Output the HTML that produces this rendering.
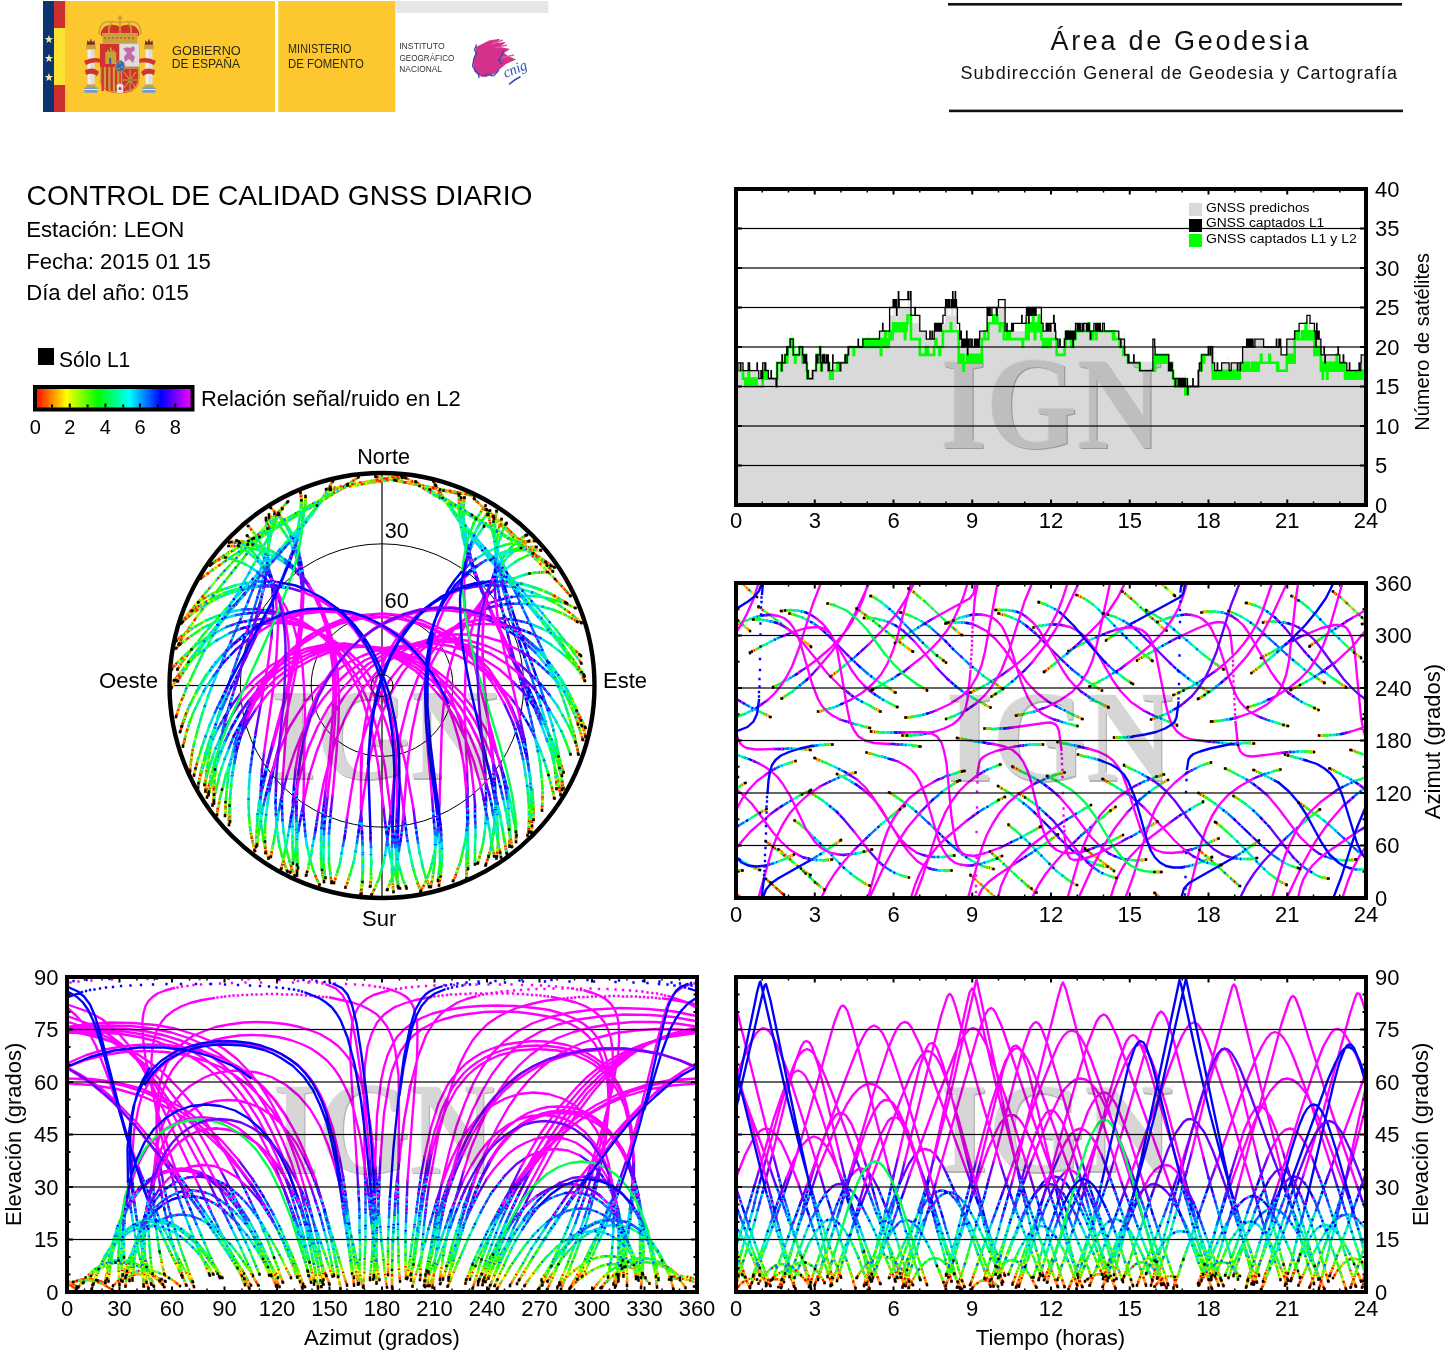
<!DOCTYPE html>
<html lang="es"><head><meta charset="utf-8"><title>Control de calidad GNSS diario - LEON</title>
<style>html,body{margin:0;padding:0;background:#fff;}body{width:1445px;height:1350px;overflow:hidden;}
</style></head>
<body><svg width="1445" height="1350" viewBox="0 0 1445 1350" font-family="&quot;Liberation Sans&quot;, Arial, sans-serif">
<rect width="1445" height="1350" fill="#fff"/>
<g id="logo">
<rect x="43" y="1" width="11" height="111" fill="#0b3470"/>
<rect x="54" y="1" width="11.5" height="111" fill="#cd2f2e"/>
<rect x="54" y="28" width="11.5" height="57" fill="#fbe232"/>
<text x="49.3" y="42.5" font-size="11" fill="#f5e9a0" text-anchor="middle">&#9733;</text>
<text x="49.3" y="61.5" font-size="11" fill="#f5e9a0" text-anchor="middle">&#9733;</text>
<text x="49.3" y="80.5" font-size="11" fill="#f5e9a0" text-anchor="middle">&#9733;</text>
<rect x="65.5" y="1" width="209.5" height="111" fill="#fdc82f"/>
<rect x="278.3" y="1" width="117" height="111" fill="#fdc82f"/>
<rect x="395.3" y="1" width="153" height="12" fill="#e6e6e6"/>
<g>
<rect x="87.3" y="49" width="7.2" height="36" fill="#dedede"/>
<rect x="88.5" y="49" width="1.6" height="36" fill="#f4f4f4"/>
<rect x="86.1" y="44.7" width="9.6" height="4.6" fill="#c9a13b"/>
<rect x="86.5" y="84.5" width="8.8" height="3" fill="#c9a13b"/>
<rect x="84.3" y="87.3" width="13.2" height="5.4" fill="#6d9bd6"/>
<path d="M84.3 89.5h13.2" stroke="#e8eef8" stroke-width="1"/>
<path d="M86.8 44.7 l0.5 -4.5 l2.2 2 l1.4 -3.6 l1.4 3.6 l2.2 -2 l0.5 4.5 z" fill="#7b2f32"/>
<rect x="145.3" y="49" width="7.2" height="36" fill="#dedede"/>
<rect x="146.5" y="49" width="1.6" height="36" fill="#f4f4f4"/>
<rect x="144.10000000000002" y="44.7" width="9.6" height="4.6" fill="#c9a13b"/>
<rect x="144.5" y="84.5" width="8.8" height="3" fill="#c9a13b"/>
<rect x="142.3" y="87.3" width="13.2" height="5.4" fill="#6d9bd6"/>
<path d="M142.3 89.5h13.2" stroke="#e8eef8" stroke-width="1"/>
<path d="M144.8 44.7 l0.5 -4.5 l2.2 2 l1.4 -3.6 l1.4 3.6 l2.2 -2 l0.5 4.5 z" fill="#7b2f32"/>
<path d="M84 61 Q92 56 101 59 L101 63 Q93 61 86 65 Z M85 70 Q94 66 99 72 L97 76 Q92 72 86 75 Z" fill="#d0342c"/>
<path d="M156 61 Q148 56 139 59 L139 63 Q147 61 154 65 Z M155 70 Q146 66 141 72 L143 76 Q148 72 154 75 Z" fill="#d0342c"/>
<path d="M101 36 Q100 26 110 25 Q116 24 120 27 Q124 24 130 25 Q140 26 139 36 Z" fill="#d0342c"/>
<path d="M99.5 35 Q98 22 110 21.5 Q116 21.5 120 23 Q124 21.5 130 21.5 Q142 22 140.5 35 M109 34 Q108 26 112 23 M131 34 Q132 26 128 23 M120 23 V34" fill="none" stroke="#c9a13b" stroke-width="1.6"/>
<rect x="118.8" y="15.3" width="2.4" height="7" fill="#c9a13b"/>
<rect x="117.3" y="17" width="5.4" height="1.8" fill="#c9a13b"/>
<path d="M102 33 H138 L137 43.3 H103 Z" fill="#c9a13b"/>
<path d="M104 38 h32" stroke="#b8322c" stroke-width="1.2" stroke-dasharray="2 2"/>
<path d="M100 43.7 H139.3 V78 Q139.3 93.3 119.6 93.3 Q100 93.3 100 78 Z" fill="#d0342c"/>
<rect x="119.3" y="43.7" width="20" height="23" fill="#dedede"/>
<path d="M100 67 H119.3 V93 Q100.5 92.5 100 78 Z" fill="#c9a13b"/>
<rect x="101.5" y="67" width="2.3" height="24" fill="#d0342c"/>
<rect x="106" y="67" width="2.3" height="24" fill="#d0342c"/>
<rect x="110.5" y="67" width="2.3" height="24" fill="#d0342c"/>
<rect x="115" y="67" width="2.3" height="24" fill="#d0342c"/>
<path d="M121.5 68 H138.5 V78 Q138.5 91.5 121.5 92 Z" fill="none" stroke="#c9a13b" stroke-width="1.3"/>
<path d="M124 72 L136 88 M136 72 L124 88 M130 69.5 V90.5 M122.5 80 H137.5" stroke="#c9a13b" stroke-width="1.1"/>
<circle cx="130" cy="80" r="1.3" fill="#3c9a3c"/>
<path d="M105.3 64 V52 h2 v-2 h1.5 v2 h1.2 v-4.5 h1.6 v4.5 h1.2 v-2 h1.5 v2 h1.9 V64 Z" fill="#c9a13b"/>
<rect x="109.2" y="58" width="2" height="6" fill="#3d5fa8"/>
<path d="M123 49 Q127 46 130 48 L134 46 L135 50 L131 53 L135 57 L133 63 L129 59 L125 62 L124 57 L127 53 Z" fill="#c46aa8"/>
<ellipse cx="120.3" cy="66.3" rx="4.6" ry="5.8" fill="#3a68c0" stroke="#c9a13b" stroke-width="0.9"/>
<path d="M119 63 h2 M121 67 h2 M118 68.5 h2" stroke="#c9a13b" stroke-width="1.2"/>
<path d="M116.5 85 Q120 82 123.5 85 L123 92.5 Q120 93.5 117 92.5 Z" fill="#e6e6e6"/>
<circle cx="120" cy="88.5" r="1.5" fill="#c0392b"/>
</g>
<text x="172.06" y="54.5" font-size="13" textLength="68.74" lengthAdjust="spacingAndGlyphs" fill="#2d2a14">GOBIERNO</text>
<text x="171.72" y="67.8" font-size="13" textLength="68.48" lengthAdjust="spacingAndGlyphs" fill="#2d2a14">DE ESPAÑA</text>
<text x="288.10" y="53" font-size="12" textLength="63.25" lengthAdjust="spacingAndGlyphs" fill="#2d2a14">MINISTERIO</text>
<text x="288.05" y="67.5" font-size="12" textLength="75.70" lengthAdjust="spacingAndGlyphs" fill="#2d2a14">DE FOMENTO</text>
<text x="399.21" y="49.2" font-size="8.8" textLength="45.51" lengthAdjust="spacingAndGlyphs" fill="#333">INSTITUTO</text>
<text x="399.59" y="60.6" font-size="8.8" textLength="54.83" lengthAdjust="spacingAndGlyphs" fill="#333">GEOGRÁFICO</text>
<text x="399.34" y="71.6" font-size="8.8" textLength="42.54" lengthAdjust="spacingAndGlyphs" fill="#333">NACIONAL</text>
<path d="M476 47 L489 40.5 L500 38.8 L497 43 L506 42 L500 47 L510 49 L504 53 L508 56 L516 59.5 L506 64 L500 69 L494 74 L486 77 L479 76 L474 71 L473 62 L475 55 Z" fill="#d4308c"/>
<path d="M492 44 L503 40 M495 48 L507 45 M500 58 L514 55" stroke="#e25aa6" stroke-width="1.4"/>
<path d="M476.5 44.5 L474.5 50 L476.5 53 L474 58 L472.5 66 L476 71 L478.5 74 L479 78 M482 76.5 Q487 73 490 74.5 Q492 76.5 494 75.5 L499 70 M503.5 51 L501 57 L498.5 60 L502 64" fill="none" stroke="#2b4fb0" stroke-width="1.3"/>
<text x="0" y="0" font-size="15" font-style="italic" fill="#2b4fb0" font-family="'Liberation Serif', serif" transform="translate(505.5,78) rotate(-22) scale(0.95,1)">cnig</text>
<path d="M509 84.5 Q514 80 520.5 76.5" fill="none" stroke="#2b4fb0" stroke-width="1.5"/>
</g>
<rect x="948" y="3" width="454" height="2.6" fill="#111"/>
<rect x="949" y="109.6" width="454" height="2.6" fill="#111"/>
<text x="1050.45" y="49.8" font-size="27" textLength="258.08" lengthAdjust="spacing" fill="#111">Área de Geodesia</text>
<text x="960.50" y="78.6" font-size="18" textLength="436.56" lengthAdjust="spacing" fill="#111">Subdirección General de Geodesia y Cartografía</text>
<text x="26.59" y="205" font-size="28" textLength="505.77" lengthAdjust="spacingAndGlyphs">CONTROL DE CALIDAD GNSS DIARIO</text>
<text x="26.18" y="237" font-size="22" textLength="158.10" lengthAdjust="spacingAndGlyphs">Estación: LEON</text>
<text x="26.19" y="268.8" font-size="22" textLength="184.74" lengthAdjust="spacingAndGlyphs">Fecha: 2015 01 15</text>
<text x="26.19" y="300.3" font-size="22" textLength="162.78" lengthAdjust="spacingAndGlyphs">Día del año: 015</text>
<rect x="38" y="348" width="16" height="17" fill="#000"/>
<text x="59.04" y="366.6" font-size="22" textLength="71.27" lengthAdjust="spacingAndGlyphs">Sólo L1</text>
<defs><linearGradient id="cb" x1="0" x2="1" y1="0" y2="0"><stop offset="0" stop-color="#f00"/><stop offset="0.2" stop-color="#ff0"/><stop offset="0.4" stop-color="#0f0"/><stop offset="0.6" stop-color="#0ff"/><stop offset="0.8" stop-color="#00f"/><stop offset="1" stop-color="#f0f"/></linearGradient></defs>
<rect x="35" y="387" width="157.5" height="22.5" fill="url(#cb)" stroke="#000" stroke-width="4"/>
<rect x="51" y="404.5" width="2" height="3" fill="#000"/>
<rect x="68.8" y="403.5" width="2" height="4" fill="#000"/>
<rect x="86.6" y="404.5" width="2" height="3" fill="#000"/>
<rect x="104.4" y="403.5" width="2" height="4" fill="#000"/>
<rect x="122.2" y="404.5" width="2" height="3" fill="#000"/>
<rect x="139" y="403.5" width="2" height="4" fill="#000"/>
<rect x="156.8" y="404.5" width="2" height="3" fill="#000"/>
<rect x="174.3" y="403.5" width="2" height="4" fill="#000"/>
<text x="35.2" y="433.5" font-size="20" text-anchor="middle">0</text>
<text x="69.8" y="433.5" font-size="20" text-anchor="middle">2</text>
<text x="105.4" y="433.5" font-size="20" text-anchor="middle">4</text>
<text x="140" y="433.5" font-size="20" text-anchor="middle">6</text>
<text x="175.3" y="433.5" font-size="20" text-anchor="middle">8</text>
<text x="200.90" y="405.7" font-size="22" textLength="259.90" lengthAdjust="spacingAndGlyphs">Relación señal/ruido en L2</text>
<svg x="736" y="189" width="630" height="316" overflow="hidden"><g transform="translate(-736,-189)">
<path d="M736.0 362.8H736.9V370.7H737.8V362.8H740.4V370.7H740.8V362.8H743.0V370.7H748.2V362.8H749.6V370.7H757.0V362.8H757.4V370.7H758.8V378.6H760.9V370.7H761.4V378.6H762.7V362.8H764.9V370.7H765.3V362.8H765.8V370.7H768.4V378.6H771.0V370.7H771.4V378.6H776.2V386.5H776.7V378.6H777.1V362.8H781.5V370.7H781.9V354.9H782.4V362.8H785.0V354.9H786.8V347.0H787.2V354.9H787.6V347.0H790.2V339.1H791.6V331.2H792.0V339.1H793.3V354.9H794.2V347.0H794.6V354.9H799.4V347.0H802.5V354.9H803.4V362.8H804.7V354.9H805.1V362.8H806.0V354.9H806.4V362.8H806.9V370.7H807.3V378.6H807.8V370.7H808.2V378.6H812.6V370.7H816.1V354.9H820.0V347.0H820.4V362.8H821.3V370.7H821.8V362.8H822.2V354.9H822.6V362.8H823.9V354.9H824.8V362.8H826.6V354.9H827.4V362.8H827.9V354.9H828.3V370.7H828.8V362.8H829.2V370.7H832.7V354.9H833.1V362.8H840.1V370.7H840.6V362.8H844.9V354.9H845.4V362.8H847.1V354.9H848.4V347.0H858.1V339.1H858.5V347.0H862.9V339.1H868.1V331.2H868.6V339.1H879.5V331.2H889.1V323.3H889.6V315.4H893.1V307.5H893.5V315.4H894.4V307.5H895.7V315.4H896.1V307.5H896.6V323.3H897.0V315.4H898.3V299.6H898.8V315.4H899.2V307.5H901.8V299.6H902.2V307.5H907.9V299.6H908.8V307.5H910.6V299.6H911.0V323.3H914.9V315.4H915.4V323.3H917.6V315.4H918.0V323.3H918.4V315.4H918.9V323.3H919.8V331.2H926.3V339.1H929.8V331.2H930.2V339.1H932.0V331.2H932.4V339.1H934.2V331.2H942.9V323.3H945.1V315.4H945.6V307.5H946.0V315.4H946.4V307.5H947.8V315.4H949.1V307.5H949.5V315.4H951.2V307.5H952.6V299.6H953.0V315.4H953.4V307.5H953.9V315.4H955.2V299.6H956.1V307.5H956.5V315.4H957.4V331.2H959.6V339.1H960.4V331.2H961.3V339.1H961.8V347.0H962.2V339.1H962.6V347.0H963.5V339.1H963.9V347.0H964.4V339.1H965.2V347.0H965.7V339.1H966.1V347.0H966.6V331.2H967.0V339.1H967.4V354.9H967.9V339.1H968.8V347.0H969.2V339.1H970.9V347.0H971.4V339.1H972.2V347.0H974.4V339.1H976.2V347.0H976.6V339.1H977.1V347.0H977.9V339.1H978.4V347.0H979.2V339.1H979.7V331.2H987.1V315.4H987.6V323.3H988.0V315.4H988.4V323.3H988.9V315.4H989.3V323.3H989.8V315.4H990.2V323.3H990.6V315.4H991.1V323.3H991.9V315.4H996.3V323.3H997.2V315.4H998.5V307.5H1005.1V331.2H1006.4V323.3H1006.8V331.2H1021.7V323.3H1022.1V331.2H1026.1V323.3H1026.5V315.4H1027.8V323.3H1028.2V315.4H1028.7V331.2H1029.1V315.4H1029.6V323.3H1030.9V315.4H1031.8V323.3H1032.6V315.4H1033.9V323.3H1035.2V315.4H1035.7V323.3H1036.1V315.4H1041.4V331.2H1053.6V323.3H1054.1V331.2H1055.8V339.1H1058.0V347.0H1059.8V339.1H1060.2V347.0H1064.6V339.1H1065.4V331.2H1065.9V339.1H1067.2V331.2H1068.1V339.1H1068.5V331.2H1068.9V339.1H1070.2V323.3H1070.7V339.1H1071.6V331.2H1072.0V339.1H1072.4V331.2H1072.9V347.0H1073.3V331.2H1073.8V339.1H1074.6V331.2H1090.4V339.1H1090.8V331.2H1118.8V339.1H1120.6V347.0H1121.0V339.1H1124.1V331.2H1124.5V354.9H1128.0V362.8H1128.4V354.9H1128.9V362.8H1133.7V354.9H1134.1V362.8H1139.8V370.7H1152.9V339.1H1154.7V347.0H1155.1V354.9H1168.7V370.7H1169.1V362.8H1169.6V370.7H1170.4V362.8H1171.3V370.7H1171.8V362.8H1172.2V370.7H1173.1V378.6H1175.2V386.5H1175.7V378.6H1178.3V386.5H1178.8V378.6H1179.2V370.7H1179.6V378.6H1180.1V386.5H1180.5V378.6H1181.8V386.5H1182.7V378.6H1183.6V386.5H1184.0V378.6H1184.4V386.5H1184.9V370.7H1185.3V386.5H1187.1V378.6H1187.5V394.4H1187.9V386.5H1192.8V378.6H1193.2V386.5H1198.4V370.7H1199.3V362.8H1201.1V370.7H1201.5V354.9H1208.5V347.0H1210.2V354.9H1210.7V347.0H1212.4V362.8H1214.6V370.7H1217.2V362.8H1217.7V370.7H1221.6V362.8H1227.8V354.9H1228.2V362.8H1229.1V370.7H1231.2V362.8H1237.4V370.7H1237.8V362.8H1240.0V370.7H1240.4V362.8H1242.6V347.0H1246.6V339.1H1247.9V347.0H1248.3V339.1H1248.8V347.0H1249.6V339.1H1250.1V347.0H1250.5V339.1H1250.9V347.0H1251.4V339.1H1251.8V347.0H1252.7V339.1H1253.1V347.0H1254.9V339.1H1263.6V347.0H1276.3V339.1H1276.8V347.0H1278.9V339.1H1279.4V347.0H1280.2V339.1H1280.7V347.0H1281.1V354.9H1286.8V339.1H1294.7V331.2H1303.0V323.3H1303.4V331.2H1306.5V323.3H1306.9V315.4H1307.4V323.3H1310.0V331.2H1315.7V347.0H1316.1V339.1H1316.6V331.2H1317.4V339.1H1318.3V331.2H1319.2V339.1H1320.9V354.9H1324.0V347.0H1324.4V354.9H1324.9V362.8H1325.3V354.9H1331.9V347.0H1332.3V354.9H1334.1V347.0H1334.5V354.9H1338.0V347.0H1338.4V354.9H1339.8V362.8H1343.2V354.9H1343.7V362.8H1344.6V354.9H1345.0V362.8H1346.8V370.7H1349.4V362.8H1349.8V370.7H1359.0V362.8H1359.4V370.7H1360.8V362.8H1361.2V354.9H1365.6V362.8H1366.0V505.0H736.0Z" fill="#d9d9d9"/>
<g style="mix-blend-mode:multiply" transform="translate(1051.24,447.83) scale(0.8978,1)" font-family="'Liberation Serif', 'Times New Roman', serif" font-weight="bold" font-size="130.25" text-anchor="middle">
<text x="1.3" y="1.3" fill="#b4b4b4">IGN</text>
<text x="-0.9" y="-0.9" fill="#f4f4f4">IGN</text>
<text x="0" y="0" fill="#e0e0e0">IGN</text>
</g>
<path d="M736.0 370.7H743.0V378.6H745.2V386.5H746.9V378.6H747.8V386.5H748.2V378.6H748.7V370.7H749.1V378.6H750.0V386.5H750.4V378.6H751.8V386.5H753.5V378.6H753.9V386.5H754.4V378.6H755.2V386.5H756.1V378.6H756.6V386.5H762.7V370.7H764.9V378.6H766.2V370.7H766.6V378.6H767.1V370.7H767.5V378.6H776.2V386.5H776.7V378.6H777.1V362.8H781.5V370.7H781.9V362.8H785.0V354.9H786.8V362.8H787.2V354.9H787.6V347.0H790.2V339.1H792.9V347.0H793.3V354.9H795.1V362.8H795.5V354.9H799.4V347.0H802.5V362.8H804.7V354.9H805.1V362.8H806.0V354.9H806.4V362.8H806.9V370.7H807.3V378.6H807.8V370.7H808.2V378.6H812.6V370.7H816.1V362.8H816.5V354.9H817.4V362.8H817.8V354.9H818.2V362.8H818.7V354.9H820.0V347.0H820.4V362.8H821.3V370.7H821.8V362.8H823.9V354.9H824.4V362.8H828.3V370.7H828.8V362.8H829.2V370.7H830.1V378.6H832.7V370.7H837.5V362.8H837.9V370.7H840.6V362.8H847.1V354.9H848.4V347.0H853.7V354.9H854.1V347.0H863.3V339.1H864.2V347.0H864.6V339.1H865.1V347.0H865.9V339.1H866.4V347.0H866.8V339.1H868.6V347.0H869.0V339.1H869.4V347.0H870.3V339.1H871.2V347.0H871.6V339.1H872.1V347.0H872.5V339.1H872.9V347.0H873.4V339.1H873.8V347.0H874.7V339.1H875.6V347.0H878.2V339.1H879.5V347.0H879.9V339.1H880.4V347.0H880.8V354.9H881.2V347.0H881.7V339.1H882.1V347.0H882.6V339.1H883.0V347.0H883.4V339.1H884.8V347.0H885.2V331.2H885.6V339.1H887.4V347.0H887.8V339.1H888.2V347.0H888.7V339.1H889.6V331.2H892.2V339.1H892.6V331.2H893.1V323.3H893.5V331.2H893.9V323.3H894.8V331.2H895.2V323.3H897.4V331.2H899.6V323.3H900.1V331.2H900.5V323.3H901.8V331.2H903.1V323.3H903.6V331.2H904.0V323.3H904.9V339.1H905.3V323.3H905.8V331.2H906.6V323.3H907.5V315.4H911.0V339.1H919.8V354.9H925.9V347.0H926.3V354.9H927.2V347.0H927.6V354.9H934.2V347.0H935.5V339.1H936.4V347.0H939.4V354.9H939.9V347.0H942.9V331.2H950.8V323.3H951.2V331.2H958.7V362.8H960.0V354.9H960.4V362.8H961.8V354.9H963.5V370.7H963.9V362.8H967.0V354.9H967.9V362.8H969.6V354.9H970.1V362.8H970.5V354.9H971.8V362.8H972.2V354.9H972.7V362.8H973.1V354.9H975.8V362.8H976.6V354.9H977.9V362.8H978.8V354.9H979.2V362.8H980.1V354.9H980.6V362.8H981.9V339.1H984.5V331.2H984.9V339.1H988.4V323.3H993.2V315.4H993.7V323.3H996.8V315.4H997.2V323.3H999.8V331.2H1000.2V323.3H1003.8V339.1H1007.2V331.2H1007.7V339.1H1009.4V331.2H1009.9V339.1H1022.6V347.0H1023.0V339.1H1026.1V323.3H1027.4V331.2H1027.8V323.3H1028.2V339.1H1028.7V331.2H1029.1V323.3H1030.0V331.2H1030.4V323.3H1031.3V331.2H1032.2V323.3H1032.6V331.2H1033.1V315.4H1033.5V323.3H1034.8V339.1H1035.2V323.3H1037.4V331.2H1037.9V323.3H1038.8V315.4H1039.2V331.2H1039.6V323.3H1040.1V331.2H1040.5V323.3H1041.4V339.1H1043.1V347.0H1045.8V339.1H1046.6V347.0H1048.4V339.1H1050.1V347.0H1050.6V339.1H1056.7V354.9H1064.6V339.1H1065.0V347.0H1065.4V339.1H1067.2V331.2H1067.6V339.1H1071.1V347.0H1071.6V339.1H1072.9V347.0H1073.3V339.1H1075.5V331.2H1088.6V323.3H1089.1V331.2H1090.4V339.1H1090.8V331.2H1092.6V339.1H1093.0V331.2H1096.1V339.1H1096.5V331.2H1113.1V339.1H1113.6V331.2H1114.0V339.1H1119.7V347.0H1123.2V354.9H1123.6V347.0H1124.5V354.9H1128.0V362.8H1139.8V370.7H1155.1V354.9H1156.4V362.8H1157.3V354.9H1157.8V362.8H1158.6V354.9H1159.1V362.8H1159.5V354.9H1160.4V362.8H1160.8V354.9H1161.2V362.8H1161.7V354.9H1163.4V362.8H1163.9V354.9H1164.8V362.8H1166.1V354.9H1166.9V362.8H1167.4V354.9H1168.2V362.8H1168.7V370.7H1169.1V362.8H1169.6V370.7H1170.4V362.8H1170.9V370.7H1171.8V362.8H1172.2V370.7H1173.1V378.6H1174.8V386.5H1175.7V378.6H1178.3V386.5H1178.8V378.6H1179.6V386.5H1180.5V378.6H1181.8V386.5H1182.7V378.6H1183.6V386.5H1184.9V378.6H1185.3V394.4H1185.8V386.5H1187.5V394.4H1187.9V386.5H1198.4V370.7H1201.5V362.8H1201.9V354.9H1203.7V362.8H1204.1V354.9H1208.5V347.0H1210.2V354.9H1210.7V347.0H1212.4V370.7H1212.9V378.6H1214.6V370.7H1215.5V378.6H1215.9V370.7H1216.8V378.6H1219.0V370.7H1219.9V378.6H1220.3V370.7H1221.6V378.6H1222.1V370.7H1222.5V378.6H1223.8V370.7H1224.2V378.6H1224.7V370.7H1226.0V378.6H1228.2V370.7H1228.6V378.6H1229.1V370.7H1229.5V378.6H1231.2V370.7H1231.7V378.6H1233.0V370.7H1234.8V378.6H1236.1V370.7H1236.5V378.6H1237.4V370.7H1237.8V378.6H1238.2V370.7H1238.7V378.6H1239.6V370.7H1241.3V362.8H1242.6V370.7H1243.1V362.8H1243.5V370.7H1244.8V362.8H1245.7V370.7H1247.9V362.8H1248.3V370.7H1248.8V362.8H1249.2V370.7H1252.2V362.8H1252.7V370.7H1253.6V362.8H1254.0V370.7H1254.4V362.8H1254.9V370.7H1255.3V362.8H1256.2V370.7H1257.1V362.8H1257.5V370.7H1257.9V362.8H1258.4V370.7H1258.8V362.8H1261.0V354.9H1261.4V362.8H1269.3V354.9H1269.8V362.8H1277.2V370.7H1277.6V362.8H1278.1V370.7H1286.8V354.9H1288.1V362.8H1288.6V354.9H1289.4V362.8H1290.3V354.9H1290.8V362.8H1292.1V354.9H1294.2V362.8H1294.7V339.1H1295.1V331.2H1295.6V339.1H1296.4V331.2H1296.9V339.1H1297.8V331.2H1298.6V339.1H1302.1V331.2H1303.4V339.1H1303.9V331.2H1304.3V339.1H1305.2V331.2H1305.6V323.3H1306.1V331.2H1306.5V339.1H1306.9V331.2H1307.8V339.1H1308.2V331.2H1308.7V339.1H1309.1V331.2H1310.0V339.1H1310.9V331.2H1311.3V339.1H1311.8V331.2H1312.6V339.1H1313.9V331.2H1314.4V354.9H1315.2V347.0H1315.7V354.9H1317.4V347.0H1317.9V354.9H1319.6V347.0H1320.1V354.9H1320.5V347.0H1320.9V370.7H1321.4V362.8H1322.2V370.7H1322.7V378.6H1323.1V362.8H1323.6V370.7H1324.4V362.8H1325.3V370.7H1326.2V362.8H1326.6V370.7H1327.1V378.6H1327.5V370.7H1329.2V362.8H1330.1V370.7H1331.0V362.8H1332.8V370.7H1333.6V362.8H1334.1V370.7H1334.9V362.8H1335.4V370.7H1335.8V362.8H1336.7V354.9H1337.1V370.7H1337.6V362.8H1338.0V370.7H1339.8V362.8H1340.2V370.7H1341.5V362.8H1341.9V370.7H1342.8V362.8H1343.2V370.7H1343.7V362.8H1344.6V370.7H1345.0V378.6H1346.3V370.7H1346.8V378.6H1347.2V370.7H1347.6V378.6H1348.9V370.7H1349.4V378.6H1351.1V370.7H1352.9V378.6H1353.3V370.7H1355.1V378.6H1355.5V370.7H1356.4V378.6H1356.8V370.7H1357.2V378.6H1359.9V370.7H1360.8V378.6H1362.5V370.7H1362.9V378.6H1364.2V370.7H1365.6V378.6H1366.0V370.7H1366.0" fill="none" stroke="#00ff00" stroke-width="2.6"/><path d="M736.0 362.8H736.9V370.7H737.8V362.8H740.4V370.7H740.8V362.8H743.0V370.7H748.2V362.8H749.6V370.7H757.0V362.8H757.4V370.7H758.8V378.6H760.9V370.7H761.4V378.6H762.7V362.8H764.9V370.7H765.3V362.8H765.8V370.7H768.4V378.6H771.0V370.7H771.4V378.6H776.2V386.5H776.7V378.6H777.1V362.8H781.5V370.7H781.9V354.9H782.4V362.8H785.0V354.9H786.8V347.0H787.2V354.9H787.6V347.0H790.2V339.1H793.3V354.9H799.4V347.0H802.5V354.9H803.4V362.8H804.7V354.9H805.1V362.8H806.0V354.9H806.4V362.8H806.9V370.7H807.3V378.6H807.8V370.7H808.2V378.6H812.6V370.7H816.1V354.9H817.4V362.8H817.8V354.9H820.0V347.0H820.4V362.8H821.3V370.7H821.8V362.8H822.2V354.9H822.6V362.8H823.9V354.9H824.8V362.8H826.6V354.9H827.4V362.8H827.9V354.9H828.3V370.7H828.8V362.8H829.2V370.7H832.7V354.9H833.1V362.8H840.1V370.7H840.6V362.8H844.9V354.9H845.4V362.8H847.1V354.9H848.4V347.0H858.1V339.1H858.5V347.0H862.9V339.1H879.5V331.2H882.6V323.3H883.0V331.2H889.6V307.5H893.1V299.6H893.5V307.5H894.4V299.6H895.7V307.5H896.1V299.6H896.6V315.4H897.0V307.5H898.3V291.7H898.8V307.5H899.2V299.6H907.9V291.7H908.8V299.6H910.6V291.7H911.0V315.4H914.9V307.5H915.4V315.4H919.8V331.2H926.3V339.1H929.8V331.2H930.2V339.1H932.0V331.2H932.4V339.1H934.2V331.2H934.6V323.3H935.1V331.2H935.9V323.3H936.4V331.2H936.8V323.3H937.7V331.2H938.1V323.3H939.0V331.2H940.3V323.3H941.2V331.2H941.6V323.3H942.9V315.4H945.1V307.5H945.6V299.6H946.0V307.5H946.4V299.6H947.8V307.5H949.1V299.6H949.5V307.5H951.2V299.6H952.1V307.5H952.6V291.7H953.0V307.5H953.4V299.6H953.9V307.5H955.2V291.7H955.6V299.6H956.5V307.5H957.4V323.3H959.6V339.1H960.4V331.2H961.3V339.1H961.8V347.0H962.2V339.1H962.6V347.0H963.5V339.1H963.9V347.0H964.4V339.1H965.2V347.0H965.7V339.1H966.1V347.0H966.6V331.2H967.0V339.1H967.4V354.9H967.9V339.1H968.8V347.0H969.2V339.1H970.9V347.0H971.4V339.1H972.2V347.0H974.4V339.1H974.9V347.0H975.3V339.1H976.2V347.0H976.6V339.1H977.1V347.0H977.9V339.1H978.4V347.0H979.2V339.1H979.7V331.2H987.1V307.5H987.6V315.4H988.0V307.5H988.4V315.4H988.9V307.5H989.3V315.4H989.8V307.5H990.2V315.4H991.9V307.5H996.3V315.4H997.2V307.5H998.5V299.6H1005.1V331.2H1006.8V323.3H1007.2V331.2H1011.6V323.3H1012.9V331.2H1013.4V323.3H1021.7V315.4H1022.1V323.3H1026.1V315.4H1026.5V307.5H1027.8V315.4H1028.2V307.5H1028.7V323.3H1029.1V307.5H1029.6V315.4H1030.9V307.5H1031.8V315.4H1032.6V307.5H1033.9V315.4H1035.2V307.5H1035.7V315.4H1036.1V307.5H1041.4V323.3H1043.1V331.2H1046.2V323.3H1047.1V331.2H1047.5V323.3H1048.4V331.2H1049.2V323.3H1050.6V331.2H1051.0V323.3H1053.6V315.4H1054.1V323.3H1054.5V331.2H1054.9V323.3H1055.4V331.2H1055.8V339.1H1058.0V347.0H1059.8V339.1H1060.2V347.0H1064.6V339.1H1065.4V331.2H1065.9V339.1H1067.2V331.2H1068.1V339.1H1068.5V331.2H1068.9V339.1H1070.2V331.2H1070.7V339.1H1071.6V331.2H1072.0V339.1H1072.4V331.2H1072.9V347.0H1073.3V331.2H1073.8V339.1H1074.6V331.2H1075.1V339.1H1075.5V323.3H1077.2V331.2H1077.7V323.3H1078.1V331.2H1079.4V323.3H1080.3V331.2H1082.1V323.3H1082.9V331.2H1083.8V323.3H1086.4V331.2H1087.3V323.3H1087.8V331.2H1088.2V323.3H1089.5V331.2H1090.4V339.1H1090.8V331.2H1093.9V323.3H1095.6V331.2H1096.1V323.3H1097.4V331.2H1098.7V323.3H1099.6V331.2H1100.0V323.3H1100.4V331.2H1102.6V323.3H1104.4V331.2H1118.8V339.1H1120.6V347.0H1121.0V339.1H1124.5V354.9H1128.0V362.8H1128.4V354.9H1128.9V362.8H1133.7V354.9H1134.1V362.8H1139.8V370.7H1152.9V339.1H1154.7V347.0H1155.1V354.9H1168.7V370.7H1169.1V362.8H1169.6V370.7H1170.4V362.8H1171.3V370.7H1171.8V362.8H1172.2V370.7H1173.1V378.6H1175.2V386.5H1175.7V378.6H1178.3V386.5H1178.8V378.6H1180.1V386.5H1180.5V378.6H1181.8V386.5H1182.7V378.6H1183.6V386.5H1184.0V378.6H1184.4V386.5H1184.9V378.6H1185.3V386.5H1187.1V378.6H1187.5V394.4H1187.9V386.5H1192.8V378.6H1193.2V386.5H1198.4V370.7H1199.3V362.8H1201.1V370.7H1201.5V354.9H1208.5V347.0H1210.2V354.9H1210.7V347.0H1212.4V362.8H1214.6V370.7H1217.2V362.8H1217.7V370.7H1221.6V362.8H1229.1V370.7H1231.2V362.8H1237.4V370.7H1237.8V362.8H1240.0V370.7H1240.4V362.8H1242.6V347.0H1246.6V339.1H1247.9V347.0H1248.3V339.1H1248.8V347.0H1249.6V339.1H1250.1V347.0H1250.5V339.1H1250.9V347.0H1251.4V339.1H1251.8V347.0H1252.7V339.1H1253.1V347.0H1254.9V339.1H1263.6V347.0H1276.3V339.1H1276.8V347.0H1278.9V339.1H1279.4V347.0H1280.2V339.1H1280.7V347.0H1281.1V354.9H1286.8V339.1H1294.7V331.2H1299.1V323.3H1306.9V315.4H1310.0V323.3H1314.4V331.2H1315.2V339.1H1315.7V347.0H1316.1V339.1H1316.6V323.3H1317.0V331.2H1317.4V339.1H1318.3V331.2H1319.2V339.1H1320.9V354.9H1324.0V347.0H1324.4V354.9H1324.9V362.8H1325.3V354.9H1338.0V347.0H1338.4V354.9H1339.8V362.8H1343.2V354.9H1343.7V362.8H1346.8V370.7H1349.4V362.8H1349.8V370.7H1359.0V362.8H1359.4V370.7H1360.8V362.8H1361.2V354.9H1365.6V362.8H1366.0" fill="none" stroke="#000" stroke-width="1.3"/>
</g></svg>
<rect x="736" y="464.90" width="630" height="1.2" fill="#000"/><rect x="736" y="425.40" width="630" height="1.2" fill="#000"/><rect x="736" y="385.90" width="630" height="1.2" fill="#000"/><rect x="736" y="346.40" width="630" height="1.2" fill="#000"/><rect x="736" y="306.90" width="630" height="1.2" fill="#000"/><rect x="736" y="267.40" width="630" height="1.2" fill="#000"/><rect x="736" y="227.90" width="630" height="1.2" fill="#000"/>
<rect x="761.50" y="501.50" width="1.5" height="1.5" fill="#000"/><rect x="761.50" y="191.00" width="1.5" height="1.5" fill="#000"/><rect x="787.75" y="501.50" width="1.5" height="1.5" fill="#000"/><rect x="787.75" y="191.00" width="1.5" height="1.5" fill="#000"/><rect x="813.75" y="499.50" width="2" height="3.5" fill="#000"/><rect x="813.75" y="191.00" width="2" height="3.5" fill="#000"/><rect x="840.25" y="501.50" width="1.5" height="1.5" fill="#000"/><rect x="840.25" y="191.00" width="1.5" height="1.5" fill="#000"/><rect x="866.50" y="501.50" width="1.5" height="1.5" fill="#000"/><rect x="866.50" y="191.00" width="1.5" height="1.5" fill="#000"/><rect x="892.50" y="499.50" width="2" height="3.5" fill="#000"/><rect x="892.50" y="191.00" width="2" height="3.5" fill="#000"/><rect x="919.00" y="501.50" width="1.5" height="1.5" fill="#000"/><rect x="919.00" y="191.00" width="1.5" height="1.5" fill="#000"/><rect x="945.25" y="501.50" width="1.5" height="1.5" fill="#000"/><rect x="945.25" y="191.00" width="1.5" height="1.5" fill="#000"/><rect x="971.25" y="499.50" width="2" height="3.5" fill="#000"/><rect x="971.25" y="191.00" width="2" height="3.5" fill="#000"/><rect x="997.75" y="501.50" width="1.5" height="1.5" fill="#000"/><rect x="997.75" y="191.00" width="1.5" height="1.5" fill="#000"/><rect x="1024.00" y="501.50" width="1.5" height="1.5" fill="#000"/><rect x="1024.00" y="191.00" width="1.5" height="1.5" fill="#000"/><rect x="1050.00" y="499.50" width="2" height="3.5" fill="#000"/><rect x="1050.00" y="191.00" width="2" height="3.5" fill="#000"/><rect x="1076.50" y="501.50" width="1.5" height="1.5" fill="#000"/><rect x="1076.50" y="191.00" width="1.5" height="1.5" fill="#000"/><rect x="1102.75" y="501.50" width="1.5" height="1.5" fill="#000"/><rect x="1102.75" y="191.00" width="1.5" height="1.5" fill="#000"/><rect x="1128.75" y="499.50" width="2" height="3.5" fill="#000"/><rect x="1128.75" y="191.00" width="2" height="3.5" fill="#000"/><rect x="1155.25" y="501.50" width="1.5" height="1.5" fill="#000"/><rect x="1155.25" y="191.00" width="1.5" height="1.5" fill="#000"/><rect x="1181.50" y="501.50" width="1.5" height="1.5" fill="#000"/><rect x="1181.50" y="191.00" width="1.5" height="1.5" fill="#000"/><rect x="1207.50" y="499.50" width="2" height="3.5" fill="#000"/><rect x="1207.50" y="191.00" width="2" height="3.5" fill="#000"/><rect x="1234.00" y="501.50" width="1.5" height="1.5" fill="#000"/><rect x="1234.00" y="191.00" width="1.5" height="1.5" fill="#000"/><rect x="1260.25" y="501.50" width="1.5" height="1.5" fill="#000"/><rect x="1260.25" y="191.00" width="1.5" height="1.5" fill="#000"/><rect x="1286.25" y="499.50" width="2" height="3.5" fill="#000"/><rect x="1286.25" y="191.00" width="2" height="3.5" fill="#000"/><rect x="1312.75" y="501.50" width="1.5" height="1.5" fill="#000"/><rect x="1312.75" y="191.00" width="1.5" height="1.5" fill="#000"/><rect x="1339.00" y="501.50" width="1.5" height="1.5" fill="#000"/><rect x="1339.00" y="191.00" width="1.5" height="1.5" fill="#000"/><rect x="738.00" y="464.50" width="4" height="2" fill="#000"/><rect x="1360.00" y="464.50" width="4" height="2" fill="#000"/><rect x="738.00" y="425.00" width="4" height="2" fill="#000"/><rect x="1360.00" y="425.00" width="4" height="2" fill="#000"/><rect x="738.00" y="385.50" width="4" height="2" fill="#000"/><rect x="1360.00" y="385.50" width="4" height="2" fill="#000"/><rect x="738.00" y="346.00" width="4" height="2" fill="#000"/><rect x="1360.00" y="346.00" width="4" height="2" fill="#000"/><rect x="738.00" y="306.50" width="4" height="2" fill="#000"/><rect x="1360.00" y="306.50" width="4" height="2" fill="#000"/><rect x="738.00" y="267.00" width="4" height="2" fill="#000"/><rect x="1360.00" y="267.00" width="4" height="2" fill="#000"/><rect x="738.00" y="227.50" width="4" height="2" fill="#000"/><rect x="1360.00" y="227.50" width="4" height="2" fill="#000"/>
<rect x="736" y="189" width="630" height="316" fill="none" stroke="#000" stroke-width="4"/>
<text x="736.0" y="528" font-size="22" text-anchor="middle">0</text><text x="814.8" y="528" font-size="22" text-anchor="middle">3</text><text x="893.5" y="528" font-size="22" text-anchor="middle">6</text><text x="972.2" y="528" font-size="22" text-anchor="middle">9</text><text x="1051.0" y="528" font-size="22" text-anchor="middle">12</text><text x="1129.8" y="528" font-size="22" text-anchor="middle">15</text><text x="1208.5" y="528" font-size="22" text-anchor="middle">18</text><text x="1287.2" y="528" font-size="22" text-anchor="middle">21</text><text x="1366.0" y="528" font-size="22" text-anchor="middle">24</text>
<text x="1375" y="512.6" font-size="22">0</text><text x="1375" y="473.1" font-size="22">5</text><text x="1375" y="433.6" font-size="22">10</text><text x="1375" y="394.1" font-size="22">15</text><text x="1375" y="354.6" font-size="22">20</text><text x="1375" y="315.1" font-size="22">25</text><text x="1375" y="275.6" font-size="22">30</text><text x="1375" y="236.1" font-size="22">35</text><text x="1375" y="196.6" font-size="22">40</text>
<text x="0" y="0" font-size="20" text-anchor="middle" transform="translate(1429,341.8) rotate(-90)">Número de satélites</text>
<rect x="1189" y="203" width="13" height="13" fill="#d9d9d9"/><rect x="1189" y="219" width="13" height="13" fill="#000"/><rect x="1189" y="234" width="13" height="13" fill="#00ff00"/>
<text x="1205.98" y="211.6" font-size="12.5" textLength="103.62" lengthAdjust="spacingAndGlyphs">GNSS predichos</text>
<text x="1205.98" y="226.8" font-size="12.5" textLength="118.29" lengthAdjust="spacingAndGlyphs">GNSS captados L1</text>
<text x="1205.97" y="242.7" font-size="12.5" textLength="150.97" lengthAdjust="spacingAndGlyphs">GNSS captados L1 y L2</text>
<svg x="736" y="583" width="630" height="315" overflow="hidden"><g transform="translate(-736,-583)">
<g transform="scale(0.5)" fill="none" stroke-width="4.7" stroke-linejoin="round" stroke-linecap="square"><g stroke="#ff3600"><path id="p1_0" d="M1517 1739l3 1M2351 1449l3 2M2597 1605l5 3M2126 1546l3-1M1636 1423l3 0M1741 1700l3-1M2443 1336l4 3M2701 1500l4 1M1532 1683l7 5M1614 1746l7 4M2137 1302l4-2M1940 1385l4-1M2325 1550l3-1M1811 1435l3 0M1742 1463l3 0M1629 1516l4 2M2644 1363l5 3M2032 1431l4-1M1969 1457l3 0M2312 1645l3-2M1517 1213l0 1M1616 1288l6 6M1914 1476l4 1M1537 1432l4 2M1984 1737l3 1M2526 1245l3-1M2274 1321l4-3M2626 1504l2 0M2179 1373l4-2M1618 1499l3 1M2522 1316l5-3M1472 1555l4-1M2347 1390l3-1M1819 1299l7 4M2434 1678l3-1M1500 1306l4-3M2170 1697l13 11M2218 1734l10 8M1708 1546l3-1M2581 1380l4-2M1618 1582l4-2M2495 1415l3-1M1530 1620l3-2M2422 1443l3 0M1801 1225l1 0M2001 1375l5 3M2511 1717l3-1M2161 1436l4 2M2397 1586l4 3M1926 1542l3 0M1579 1227h0M1787 1383l4 2M2025 1533l3 2M2289 1720l3-1M1757 1421l4 2M1996 1572l2 1M2212 1733l3 0M1997 1227l4 1M2203 1381l1 0M2708 1720l4-1M1661 1720l3-1M2206 1227l3 0M2414 1382l3 2M2659 1537l4 2M1728 1236l3 0M1977 1413l4 2M2205 1558l4 2M1585 1711l3-2M2263 1366l3 2M2507 1540l3 1M1678 1683l4-3M2153 1190l3 1M2570 1509l2 1M1805 1615l4-3M2327 1257l6 4M2638 1471l3 0M1916 1562l4-1M2309 1786l8 7M2726 1438l3-1M1661 1353l3-2M1790 1286l4-3M2086 1489h0M2399 1700l5 5M1891 1247l4-1M2570 1768l3 2M1482 1741l3 0M1991 1220l1 0M2214 1413l3 2M2654 1757l3 0M1472 1787l9 7M2227 1617l4-3M2666 1183l6 5M1532 1758l36 32M2333 1561l3-1M1557 1699l6 4M1649 1779l0 1M2088 1344l4-3M2421 1525l1 0M1736 1770l3 1M2505 1487l3 0M1618 1583l4 2M2314 1244l2 0M2573 1451l3 1M1674 1548l2 1M1901 1741l2 0M2403 1225l3-1M2635 1419l2 1M1733 1505l3 1M2001 1713l3-1M2492 1206l2 0M2689 1372l3 3M1496 1258l4 4M1805 1471l3 0M2112 1671l4-2M2583 1192l2 1M2719 1313l3 3M1663 1489l2 0M2068 1782l5 3M2503 1346l4-3M1472 1250l4-2M2151 1769l3 1M2619 1293l5-4M1562 1222l3 0M2038 1587l3 2M2724 1248l4-1M1851 1379l3 2M2094 1552l2 1M2320 1744l3 0M1889 1323l3 2M2420 1716l4-2M1817 1177l3 2M1919 1267l5 3M2228 1475l2 0M2515 1683l3-2M1488 1567l3-1M2302 1439l3-1M1588 1523l3-1M1941 1750l9 8M1993 1166l3 3M2396 1398l4-2M2010 1594h0"/></g><use href="#p1_0" stroke="#f1ff00" stroke-dasharray="3.2 17.8 2.8 16.4 3.0 12.8 4.6 13.2 3.8 31.4 5.0 24.8 4.0 13.2" stroke-dashoffset="0" stroke-linecap="butt"/><use href="#p1_0" stroke="#f00" stroke-dasharray="2.8 31.2 3.8 9.0 4.2 26.2 4.2 29.8 2.6 19.8 3.6 7.6 4.2 28.2" stroke-dashoffset="6" stroke-linecap="butt"/><use href="#p1_0" stroke="#1bff00" stroke-dasharray="4.0 12.8 4.8 19.2 3.8 25.6 2.8 27.4 4.4 26.4 3.0 26.8 3.0 8.2" stroke-dashoffset="10" stroke-linecap="butt"/><g stroke="#ffa100"><path id="p1_1" d="M1513 1737l4 2M2067 1255h0M2347 1448l4 1M2602 1608l4 3M1743 1380l4-2M2123 1547l3-1M1639 1423l3-1M2006 1596l4-2M1737 1701l4-1M2438 1332l5 4M2705 1501l4 1M1539 1688l10 8M1605 1739l9 7M2141 1300l5-3M2476 1490h0M1944 1384l3-2M2322 1551l3-1M1814 1435l3 0M1745 1463l3 1M2078 1655l3-2M1633 1518l4 2M2640 1360l4 3M2036 1430l3 0M1972 1457l3 0M2308 1647l4-2M1517 1214l7 5M1607 1282l9 6M1918 1477l4 1M2242 1672l4-2M1534 1430l3 2M1778 1585l2 1M1980 1736l4 1M2529 1244l4 0M2278 1318l4-2M2623 1504l3 0M2183 1371l3-2M2559 1540l2-1M1614 1499l4 0M2527 1313l4-2M1472 1555h0M2350 1389l4-2M1713 1217l5 3M1812 1293l7 6M2115 1484l3 0M2430 1680l4-2M1504 1303l4-2M1839 1493l2 0M2183 1708l35 26M1705 1546l3 0M2585 1378l4-2M1615 1584l3-2M2498 1414l3-1M1526 1622l4-2M2425 1443l3 0M1802 1225l4 2M1997 1372l4 3M2248 1530l3 2M2508 1717l3 0M2158 1435l3 1M2401 1589l5 2M2599 1737l1 1M1546 1375l1-1M1923 1543l3-1M1579 1227l4 1M1783 1380l4 3M2028 1535l4 2M2285 1720l4 0M1506 1239l1 0M1753 1419l4 2M1998 1573l4 3M2208 1732l4 1M2001 1228l3 1M2199 1378l4 3M2705 1720l3 0M1658 1720l3 0M2209 1227l3 1M2410 1379l4 3M2663 1539l4 1M1731 1236l3 0M1972 1411l5 2M2209 1560l4 3M2441 1730l2 0M1581 1712l4-1M2077 1204l3 1M2260 1364l3 2M2510 1541l3 2M1674 1686l4-3M2156 1191l4 2M2303 1321l2 1M2572 1510l3 1M1801 1618l4-3M2244 1183l5 3M2320 1251l7 6M2641 1471l3 0M1563 1397l2-1M1913 1564l3-2M2317 1793l4 3M2321 1166l9 8M2729 1437l3-1M1664 1351l4-3M1794 1283l4-3M2083 1489l3 0M2404 1705l6 5M2478 1771l2 1M1895 1246l3-2M2430 1644l3 2M2566 1766l4 2M1479 1741l3 0M1992 1220l3 0M2211 1412l3 1M2467 1592l3 2M2651 1756l3 1M1481 1794l2 2M1483 1166l14 13M1510 1190l4 4M2223 1620l4-3M2672 1188l7 5M1983 1393l3-2M2330 1563l3-2M1563 1703l6 6M1643 1775l6 4M2092 1341l4-3M2419 1526l2-1M1732 1768l4 2M2212 1281l2-2M2502 1486l3 1M1622 1585l3 3M1815 1754l3 1M2316 1244l4-2M2570 1450l3 1M1676 1549l3 2M1899 1741l2 0M2406 1224l4 0M2632 1418l3 1M1736 1506l3 1M1998 1715l3-2M2494 1206l4 1M2685 1370l4 2M1490 1254l6 4M1808 1471l3 0M2108 1675l4-4M2585 1193l4 2M2714 1310l5 3M1660 1489l3 0M1980 1703l3 3M2063 1778l5 4M2507 1343l4-3M1476 1248l3-2M1738 1455l2 1M2148 1767l3 2M2624 1289l4-3M1565 1222l4-1M1794 1414l1 0M2041 1589l4 2M2232 1756l1 0M2728 1247l3-2M1655 1207l2 0M1847 1377l4 2M2096 1553l3 2M2317 1744l3 0M1741 1192l1 0M1885 1320l4 3M2156 1509h0M2417 1718l3-2M1820 1179l6 4M1914 1262l5 5M2230 1475l2 0M2512 1686l3-3M1485 1569l3-2M2305 1438l3-1M2637 1621l3-2M1586 1524l2-1M1950 1758l42 38M2400 1396l3-2"/></g><use href="#p1_1" stroke="#ff3600" stroke-dasharray="3.2 17.8 2.8 16.4 3.0 12.8 4.6 13.2 3.8 31.4 5.0 24.8 4.0 13.2" stroke-dashoffset="6" stroke-linecap="butt"/><use href="#p1_1" stroke="#86ff00" stroke-dasharray="2.8 31.2 3.8 9.0 4.2 26.2 4.2 29.8 2.6 19.8 3.6 7.6 4.2 28.2" stroke-dashoffset="10" stroke-linecap="butt"/><use href="#p1_1" stroke="#f00" stroke-dasharray="4.0 12.8 4.8 19.2 3.8 25.6 2.8 27.4 4.4 26.4 3.0 26.8 3.0 8.2" stroke-dashoffset="20" stroke-linecap="butt"/><use href="#p1_1" stroke="#00ff51" stroke-dasharray="4.8 28.4 4.8 18.2 3.2 6.2 4.2 24.8 4.8 13.4 3.0 22.6 4.6 31.0" stroke-dashoffset="14" stroke-linecap="butt"/><g stroke="#f1ff00"><path id="p1_2" d="M1509 1736l4 1M2067 1255l3-1M2344 1446l3 2M2606 1611l5 3M1747 1378l3-1M2120 1547l3 0M1642 1422l3-1M2002 1598l4-2M1734 1702l3-1M2292 1220l2 1M2433 1329l5 3M2709 1502l3 2M1549 1696l13 10M1593 1730l12 9M2146 1297l4-2M2473 1489l3 1M1947 1382l4-2M2319 1552l3-1M1817 1435l3-1M2179 1612l3-2M1748 1464l4 0M2074 1657l4-2M1637 1520l4 1M1906 1711l3 0M2457 1222l3 1M2635 1357l5 3M2039 1430l3-1M2406 1604l0-1M1975 1457l2 0M2305 1649l3-2M1524 1219l9 6M1598 1275l9 7M1922 1478l3 0M2239 1674l3-2M1530 1429l4 1M1780 1586l5 3M1976 1735l4 1M2533 1244l3 0M2282 1316l4-2M2620 1504l3 0M2186 1369l4-2M2556 1540l3 0M1611 1499l3 0M2531 1311l4-2M2354 1387l4-1M2730 1555l2-1M1718 1220l6 5M1804 1288l8 5M2118 1484l3 1M2426 1682l4-2M1508 1301l4-2M1836 1492l3 1M1702 1547l3-1M2589 1376l3-2M1611 1585l4-1M2501 1413l3-1M1522 1624l4-2M2428 1443l3-1M1806 1227l4 1M1993 1369l4 3M2251 1532l3 2M2504 1718l4-1M1893 1246l1 0M2154 1433l4 2M2406 1591l4 3M2596 1736l3 1M1547 1374l3-2M1920 1544l3-1M1583 1228l3 1M1779 1377l4 3M2032 1537l4 2M2282 1720l3 0M1507 1239l3 0M1750 1417l3 2M2002 1576l5 3M2205 1732l3 0M2004 1229l4 1M2195 1376l4 2M2450 1537l4 2M2701 1720l4 0M1654 1720l4 0M2212 1228l3 1M2406 1377l4 2M2667 1540l3 2M1734 1236l4 0M1969 1408l3 3M2213 1563l4 2M2438 1730l3 0M1578 1714l3-2M2080 1205l2 1M2257 1362l3 2M2513 1543l3 1M1670 1688l4-2M2160 1193l4 2M2300 1318l3 3M2575 1511l3 0M1472 1435l2-1M1797 1621l4-3M2249 1186l7 6M2313 1244l7 7M2644 1471l2 0M1565 1396l3-2M1910 1566l3-2M2330 1174l20 18M1668 1348l4-3M1999 1530l2-1M1798 1280l3-2M2080 1489l3 0M2410 1710l7 6M2471 1765l7 6M1898 1244l3-1M2153 1452l2 0M2433 1646l4 3M2562 1764l4 2M1476 1741l3 0M1995 1220l3 0M2208 1410l3 2M2470 1594l3 2M2648 1755l3 1M1497 1179l13 11M1892 1438l2-1M2219 1623l4-3M2679 1193l9 8M2727 1238l5 4M1986 1391l4-2M2326 1565l4-2M1569 1709l6 5M1636 1769l7 6M2096 1338l4-3M2416 1527l3-1M1589 1641l4 3M1728 1766l4 2M2214 1279l4-2M2500 1486l2 0M1625 1588l3 2M1813 1754l2 0M2320 1242l3-1M2568 1450l2 0M1679 1551l3 1M1896 1741l3 0M2410 1224l2-1M2629 1416l3 2M1739 1507l3 0M1995 1716l3-1M2498 1207l3 1M2682 1368l3 2M1484 1248l6 6M1811 1471l3 0M2104 1677l4-2M2589 1195l3 3M2711 1307l3 3M1658 1489l2 0M1983 1706l6 5M2057 1773l6 5M2511 1340l4-3M1479 1246l3-1M1734 1454l4 1M2017 1649l3 3M2144 1765l4 2M2628 1286l4-2M1569 1221l2 0M1792 1413l2 1M2045 1591l3 2M2229 1755l3 1M2731 1245l1 0M1657 1207l3 1M1844 1374l3 3M2099 1555l3 1M2314 1744l3 0M1742 1192l3 1M1882 1317l3 3M2156 1509l3 1M2414 1719l3-1M1826 1183l5 4M1909 1258l5 4M2232 1475l3 0M2508 1688l4-2M1482 1571l3-2M2308 1437l3-1M2633 1624l4-3M1583 1525l3-1M2403 1394l3-2M2732 1436h0"/></g><use href="#p1_2" stroke="#ff3600" stroke-dasharray="2.8 31.2 3.8 9.0 4.2 26.2 4.2 29.8 2.6 19.8 3.6 7.6 4.2 28.2" stroke-dashoffset="12" stroke-linecap="butt"/><use href="#p1_2" stroke="#1bff00" stroke-dasharray="4.0 12.8 4.8 19.2 3.8 25.6 2.8 27.4 4.4 26.4 3.0 26.8 3.0 8.2" stroke-dashoffset="20" stroke-linecap="butt"/><use href="#p1_2" stroke="#f00" stroke-dasharray="4.8 28.4 4.8 18.2 3.2 6.2 4.2 24.8 4.8 13.4 3.0 22.6 4.6 31.0" stroke-dashoffset="34" stroke-linecap="butt"/><use href="#p1_2" stroke="#00ffbc" stroke-dasharray="2.8 18.6 5.0 17.0 4.0 6.6 4.2 29.8 4.8 29.0 4.2 12.4 4.6 11.6" stroke-dashoffset="18" stroke-linecap="butt"/><g stroke="#86ff00"><path id="p1_3" d="M1506 1734l3 2M2070 1254l3-1M2341 1445l3 1M2611 1614l4 3M1750 1377l3-2M2117 1548l3-1M1645 1421l3-1M1999 1599l3-1M1731 1703l3-1M2294 1221l5 3M2428 1325l5 4M2712 1504l3 1M1562 1706l31 24M2150 1295l5-3M2468 1489l5 0M1951 1380l3-1M2316 1553l3-1M1820 1434l3 0M2176 1614l3-2M1752 1464l3 0M2070 1660l4-3M1641 1521l4 2M1901 1712l5-1M2460 1223l4 2M2630 1354l5 3M2042 1429l2 0M2403 1606l3-2M1977 1457l3 0M2302 1651l3-2M1533 1225l16 12M1581 1262l17 13M1925 1478l4 1M2234 1676l5-2M1527 1427l3 2M1785 1589l5 3M1971 1734l5 1M2536 1244l3-1M2286 1314l5-3M2616 1503l4 1M2190 1367l3-1M2554 1541l2-1M1607 1498l4 1M2535 1309l4-2M2358 1386l3-2M2727 1556l3-1M1724 1225l10 7M1794 1280l10 8M2121 1485l2 1M2423 1683l3-1M1512 1299l4-2M1832 1492l4 0M1699 1548l3-1M2592 1374l5-2M1608 1587l3-2M2504 1412l3-1M1519 1626l3-2M2431 1442l2 0M1810 1228l4 1M1987 1366l6 3M2254 1534l3 1M2501 1718l3 0M1894 1246l3 0M2151 1432l3 1M2410 1594l4 2M2592 1735l4 1M1550 1372l3-1M1917 1544l3 0M1586 1229l4 1M1775 1375l4 2M2036 1539l5 3M2277 1720l5 0M1510 1239l4 0M1747 1416l3 1M2007 1579l4 2M2201 1731l4 1M2008 1230l3 0M2192 1374l3 2M2454 1539l5 2M2697 1720l4 0M1652 1720l2 0M2215 1229l3 1M2403 1375l3 2M2670 1542l3 2M1738 1236l4 0M1964 1406l5 2M2217 1565l3 2M2435 1730l3 0M1575 1716l3-2M2082 1206l3 1M2255 1361l2 1M2516 1544l2 1M1666 1691l4-3M2164 1195l4 2M2295 1314l5 4M2578 1511l2 1M1474 1434l3-1M1791 1625l6-4M2256 1192l14 12M2299 1232l14 12M2646 1471l3 0M1568 1394l3-2M1907 1568l3-2M1672 1345l3-2M1997 1530l2 0M1801 1278l4-3M2078 1489l2 0M2417 1716l9 8M2463 1758l8 7M1901 1243l4-2M2150 1451l3 1M2437 1649l5 4M2557 1761l5 3M1474 1742l2-1M1998 1220l3 0M2205 1409l3 1M2473 1596l4 2M2645 1755l3 0M1894 1437l3-1M2214 1627l5-4M2688 1201l39 37M1990 1389l4-3M2323 1567l3-2M1575 1714l8 7M1629 1763l7 6M2100 1335l3-3M2414 1527l2 0M1593 1644l5 3M1724 1763l4 3M2218 1277l4-3M2498 1486l2 0M1628 1590l3 2M1810 1753l3 1M2323 1241l3-1M2564 1449l4 1M1682 1552l2 1M1894 1741l2 0M2412 1223l4 0M2625 1414l4 2M1742 1507l3 1M1991 1718l4-2M2501 1208l3 1M2678 1365l4 3M1477 1242l7 6M1814 1471l3 0M2099 1681l5-4M2592 1198l4 2M2707 1303l4 4M1655 1489l3 0M1989 1711l7 6M2051 1768l6 5M2515 1337l5-4M1482 1245l4-2M1731 1454l3 0M2020 1652l3 3M2141 1763l3 2M2632 1284l5-4M1571 1221l4 0M1788 1411l4 2M2048 1593l3 2M2226 1754l3 1M1660 1208l3 1M1840 1372l4 2M2102 1556l4 2M2311 1744l3 0M1745 1193l3 2M1879 1315l3 2M2159 1510l4 1M2409 1721l5-2M1831 1187l5 5M1903 1253l6 5M2235 1475l2 0M2505 1690l3-2M1479 1573l3-2M2311 1436l3-1M2628 1628l5-4M1581 1525l2 0M2406 1392l2-1"/></g><use href="#p1_3" stroke="#ffa100" stroke-dasharray="4.0 12.8 4.8 19.2 3.8 25.6 2.8 27.4 4.4 26.4 3.0 26.8 3.0 8.2" stroke-dashoffset="18" stroke-linecap="butt"/><use href="#p1_3" stroke="#00ff51" stroke-dasharray="4.8 28.4 4.8 18.2 3.2 6.2 4.2 24.8 4.8 13.4 3.0 22.6 4.6 31.0" stroke-dashoffset="30" stroke-linecap="butt"/><use href="#p1_3" stroke="#f00" stroke-dasharray="2.8 18.6 5.0 17.0 4.0 6.6 4.2 29.8 4.8 29.0 4.2 12.4 4.6 11.6" stroke-dashoffset="48" stroke-linecap="butt"/><use href="#p1_3" stroke="#00d6ff" stroke-dasharray="3.8 30.8 2.8 30.6 3.2 17.0 4.8 16.6 4.0 6.8 4.6 20.0 3.4 26.4" stroke-dashoffset="22" stroke-linecap="butt"/><g stroke="#1bff00"><path id="p1_4" d="M1501 1732l5 2M2073 1253l5-1M2336 1443l5 2M2615 1617l9 7M1753 1375l7-3M2111 1550l6-2M1648 1420l5-1M1993 1603l6-4M1726 1704l5-1M2299 1224l9 5M2417 1317l11 8M2715 1505l7 2M2155 1292l9-4M2461 1488l7 1M1954 1379l6-3M2311 1554l5-1M1823 1434l5-1M2169 1617l7-3M1755 1464l6 1M2062 1664l8-4M1645 1523l8 3M1894 1713l7-1M2464 1225l8 3M2621 1347l9 7M2044 1429l5-1M2396 1609l7-3M1980 1457l4 1M2296 1654l6-3M1549 1237l32 25M1929 1479l6 1M2226 1680l8-4M1521 1424l6 3M1790 1592l10 7M1963 1731l8 3M2539 1243l6 0M2291 1311l7-4M2610 1503l6 0M2193 1366l5-3M2549 1542l5-1M1600 1498l7 0M2539 1307l7-4M2361 1384l7-4M2720 1559l7-3M1734 1232l60 48M2123 1486l6 1M2417 1686l6-3M1516 1297l8-5M1826 1491l6 1M1692 1550l7-2M2597 1372l7-4M1601 1590l7-3M2507 1411l4-1M1512 1630l7-4M2433 1442l4 0M1814 1229l8 3M1978 1360l9 6M2257 1535l6 3M2496 1718l5 0M1897 1246l6-1M2145 1429l6 3M2414 1596l7 5M2586 1733l6 2M1553 1371l6-3M1913 1546l4-2M1590 1230l6 2M1767 1370l8 5M2041 1542l8 4M2270 1721l7-1M1514 1239l5 0M1741 1412l6 4M2011 1581l8 5M2193 1729l8 2M2011 1230l5 2M2186 1370l6 4M2459 1541l8 4M2690 1721l7-1M1647 1721l5-1M2218 1230l6 2M2396 1371l7 4M2673 1544l7 3M1742 1236l8 1M1955 1401l9 5M2220 1567l6 3M2430 1729l5 1M1569 1718l6-2M2085 1207l4 1M2249 1357l6 4M2518 1545l6 3M2732 1739h0M1659 1696l7-5M2168 1197l8 5M2287 1308l8 6M2580 1512l5 1M1477 1433l6-3M1783 1632l8-7M2270 1204l29 28M2649 1471l6 0M1571 1392l6-4M1901 1572l6-4M1675 1343l5-5M1993 1532l4-2M1805 1275l7-5M2072 1489l6 0M2426 1724l37 34M1905 1241l6-2M2144 1449l6 2M2442 1653l9 8M2549 1755l8 6M1472 1742l2 0M2001 1220l5 0M2200 1406l5 3M2477 1598l7 5M2639 1753l6 2M1897 1436l5-2M2206 1634l8-7M1994 1386l6-4M2316 1572l7-5M1583 1721l46 42M2103 1332l7-5M2409 1529l5-2M1598 1647l9 8M1716 1758l8 5M2222 1274l6-4M2492 1486l6 0M1631 1592l7 4M1804 1751l6 2M2326 1240l7-3M2558 1447l6 2M1684 1553l4 2M1890 1741l4 0M2416 1223l6 0M2619 1411l6 3M1745 1508l6 2M1984 1720l7-2M2504 1209l7 2M2671 1360l7 5M1472 1238l5 4M1817 1471l5 0M2091 1687l8-6M2596 1200l9 6M2698 1296l9 7M1651 1489l4 0M1996 1717l18 17M2032 1751l19 17M2520 1333l8-7M1486 1243l7-2M1725 1452l6 2M2023 1655l7 5M2135 1759l6 4M2637 1280l7-5M1575 1221l6-1M1782 1408l6 3M2051 1595l6 4M2221 1753l5 1M1663 1209l6 1M1833 1368l7 4M2106 1558l6 3M2305 1744l6 0M1748 1195l5 3M1872 1310l7 5M2163 1511l6 2M2402 1724l7-3M1836 1192l14 11M1889 1240l14 13M2237 1475l4 0M2501 1693l4-3M1474 1577l5-4M2314 1435l6-2M2619 1635l9-7M1576 1527l5-2M2408 1391l5-4"/></g><use href="#p1_4" stroke="#f1ff00" stroke-dasharray="4.8 28.4 4.8 18.2 3.2 6.2 4.2 24.8 4.8 13.4 3.0 22.6 4.6 31.0" stroke-dashoffset="24" stroke-linecap="butt"/><use href="#p1_4" stroke="#00ffbc" stroke-dasharray="2.8 18.6 5.0 17.0 4.0 6.6 4.2 29.8 4.8 29.0 4.2 12.4 4.6 11.6" stroke-dashoffset="40" stroke-linecap="butt"/><use href="#p1_4" stroke="#006bff" stroke-dasharray="3.2 17.8 2.8 16.4 3.0 12.8 4.6 13.2 3.8 31.4 5.0 24.8 4.0 13.2" stroke-dashoffset="26" stroke-linecap="butt"/><g stroke="#00ff51"><path id="p1_5" d="M1493 1727l8 5M2078 1252l7-1M2329 1440l7 3M2624 1624l12 8M1760 1372l8-5M2104 1552l7-2M1653 1419l7-2M1985 1607l8-4M1472 1509l6 2M1719 1706l7-2M2308 1229l13 8M2404 1307l13 10M2722 1507l7 3M2164 1288l9-5M2454 1487l7 1M1960 1376l7-4M2304 1557l7-3M1828 1433l6-1M2162 1622l7-5M1761 1465l6 0M2054 1668l8-4M1653 1526l8 4M1886 1714l8-1M2472 1228l10 5M2610 1340l11 7M2049 1428l6-2M2389 1613l7-4M1984 1458l6 0M2288 1658l8-4M1935 1480l7 1M2218 1684l8-4M1514 1421l7 3M1800 1599l12 8M1953 1726l10 5M2545 1243l7 0M2298 1307l9-5M2604 1503l6 0M2198 1363l7-4M2543 1544l6-2M1593 1498l7 0M2546 1303l9-5M2368 1380l9-4M2712 1561l8-2M2129 1487l6 1M2409 1689l8-3M1524 1292l9-4M1819 1490l7 1M1686 1552l6-2M2604 1368l9-5M1593 1595l8-5M2511 1410l5-2M1504 1635l8-5M2437 1442l6-1M1822 1232l10 5M1967 1352l11 8M2263 1538l7 3M2489 1718l7 0M1903 1245l7 0M2137 1425l8 4M2421 1601l9 6M2578 1730l8 3M1559 1368l7-4M1906 1548l7-2M1596 1232l9 3M1758 1364l9 6M2049 1546l9 4M2262 1720l8 1M1519 1239l7 1M1733 1408l8 4M2019 1586l10 7M2185 1725l8 4M2016 1232l7 3M2177 1364l9 6M2467 1545l9 5M2682 1720l8 1M1640 1720l7 1M2224 1232l7 2M2389 1366l7 5M2680 1547l6 4M1750 1237l9 2M1946 1396l9 5M2226 1570l8 5M2424 1728l6 1M1562 1721l7-3M2089 1208l6 3M2243 1352l6 5M2524 1548l6 3M2725 1739l7 0M1651 1701l8-5M2176 1202l10 7M2276 1298l11 10M2585 1513l5 2M1483 1430l7-2M1773 1640l10-8M2655 1471l6-1M1577 1388l8-5M1893 1577l8-5M1680 1338l8-6M1987 1534l6-2M1812 1270l8-5M2067 1489l5 0M1911 1239l7-3M2138 1448l6 1M2451 1661l12 11M2537 1746l12 9M2006 1220l6 0M2193 1403l7 3M2484 1603l7 5M2632 1750l7 3M1902 1434l7-2M2196 1641l10-7M2000 1382l8-6M2308 1577l8-5M2110 1327l8-7M2403 1531l6-2M1607 1655l11 10M1705 1750l11 8M2228 1270l8-6M2487 1486l5 0M1638 1596l7 5M1798 1749l6 2M2333 1237l7-2M2552 1445l6 2M1688 1555l5 3M1885 1741l5 0M2422 1223l7 0M2612 1408l7 3M1751 1510l6 2M1977 1723l7-3M2511 1211l7 3M2662 1354l9 6M1822 1471l7-1M2082 1693l9-6M2605 1206l11 9M2686 1285l12 11M1646 1490l5-1M2014 1734l18 17M2528 1326l9-7M1493 1241l7-3M1719 1450l6 2M2030 1660l10 9M2126 1752l9 7M2644 1275l9-6M1581 1220l7 1M1775 1404l7 4M2057 1599l7 5M2214 1750l7 3M1669 1210l1 1M1832 1367l1 1M2112 1561h0M2305 1744h0M1753 1198l9 6M1864 1302l8 8M2169 1513l7 1M2395 1727l7-3M1850 1203l39 37M2241 1475l5 0M2494 1698l7-5M1472 1578l2-1M2320 1433l6-3M2610 1643l9-8M1570 1529l6-2M2413 1387l7-4M2729 1577l3-2"/></g><use href="#p1_5" stroke="#86ff00" stroke-dasharray="2.8 18.6 5.0 17.0 4.0 6.6 4.2 29.8 4.8 29.0 4.2 12.4 4.6 11.6" stroke-dashoffset="30" stroke-linecap="butt"/><use href="#p1_5" stroke="#00d6ff" stroke-dasharray="3.8 30.8 2.8 30.6 3.2 17.0 4.8 16.6 4.0 6.8 4.6 20.0 3.4 26.4" stroke-dashoffset="50" stroke-linecap="butt"/><g stroke="#00ffbc"><path id="p1_6" d="M1482 1721l11 6M2085 1251l7-1M2322 1437l7 3M2636 1632l14 11M1768 1367l8-5M2097 1555l7-3M1660 1417l7-2M1976 1613l9-6M1478 1511l7 3M1712 1707l7-1M2321 1237l20 16M2382 1288l22 19M2729 1510l3 0M2173 1283l11-5M2445 1486l9 1M1967 1372l8-4M2297 1560l7-3M1834 1432l6-1M2153 1627l9-5M1767 1465l8 0M2044 1674l10-6M1661 1530l9 4M1877 1714l9 0M2482 1233l12 7M2597 1329l13 11M2055 1426l7-1M2381 1618l8-5M1990 1458l6-1M2280 1663l8-5M1942 1481l8 2M2208 1688l10-4M1506 1417l8 4M1812 1607l13 10M1941 1720l12 6M2552 1243l7 1M2307 1302l10-6M2596 1503l8 0M2205 1359l8-4M2537 1546l6-2M1584 1497l9 1M2555 1298l9-5M2377 1376l9-5M2704 1565l8-4M2135 1488l7 2M2401 1692l8-3M1533 1288l9-5M1812 1490l7 0M1678 1555l8-3M2613 1363l9-5M1584 1600l9-5M2516 1408l7-2M1496 1640l8-5M2443 1441l5-1M1832 1237l12 6M1955 1342l12 10M2270 1541l8 4M2482 1718l7 0M1910 1245l7 0M2130 1421l7 4M2430 1607l10 8M2568 1725l10 5M1566 1364l8-4M1900 1550l6-2M1605 1235l9 5M1748 1357l10 7M2058 1550l10 6M2252 1719l10 1M1526 1240l7 1M1725 1404l8 4M2029 1593l11 8M2175 1721l10 4M2023 1235l9 4M2168 1358l9 6M2476 1550l10 5M2672 1719l10 1M1633 1720l7 0M2231 1234l8 4M2379 1359l10 7M2686 1551l9 4M1759 1239l9 2M1935 1389l11 7M2234 1575l8 5M2416 1726l8 2M1554 1724l8-3M2095 1211l7 3M2235 1346l8 6M2530 1551l6 3M2719 1739l6 0M1643 1707l8-6M2186 1209l13 12M2262 1285l14 13M2590 1515l6 1M1490 1428l7-4M1762 1649l11-9M2661 1470l7 0M1585 1383l8-7M1885 1583l8-6M1688 1332l8-7M1981 1537l6-3M1820 1265l9-5M2060 1489l7 0M1918 1236l8-2M2131 1446l7 2M2463 1672l21 20M2517 1727l20 19M2012 1220l7 1M2186 1399l7 4M2491 1608l9 7M2624 1745l8 5M1909 1432l7-4M2186 1650l10-9M2008 1376l9-7M2300 1583l8-6M2118 1320l9-7M2397 1534l6-3M1618 1665l16 15M1689 1737l16 13M2236 1264l9-5M2481 1487l6-1M1645 1601l8 6M1790 1746l8 3M2340 1235l7-2M2545 1443l7 2M1693 1558l6 3M1879 1741l6 0M2429 1223l7 1M2604 1404l8 4M1757 1512l7 1M1969 1725l8-2M2518 1214l9 4M2653 1347l9 7M1829 1470l7 0M2073 1699l9-6M2616 1215l18 17M2667 1266l19 19M1640 1490l6 0M2537 1319l11-9M1500 1238l8-3M1712 1449l7 1M2040 1669l13 12M2113 1742l13 10M2653 1269l10-7M1588 1221l7 0M1767 1400l8 4M2064 1604l8 6M2206 1747l8 3M1762 1204l10 8M1853 1293l11 9M2176 1514l7 2M2386 1730l9-3M2246 1475l5 0M2487 1703l7-5M2326 1430l8-3M2599 1652l11-9M1564 1531l6-2M2420 1383l7-5M2722 1582l7-5"/></g><use href="#p1_6" stroke="#1bff00" stroke-dasharray="3.8 30.8 2.8 30.6 3.2 17.0 4.8 16.6 4.0 6.8 4.6 20.0 3.4 26.4" stroke-dashoffset="36" stroke-linecap="butt"/><use href="#p1_6" stroke="#006bff" stroke-dasharray="3.2 17.8 2.8 16.4 3.0 12.8 4.6 13.2 3.8 31.4 5.0 24.8 4.0 13.2" stroke-dashoffset="60" stroke-linecap="butt"/><g stroke="#00d6ff"><path id="p1_7" d="M1472 1713l10 8M2092 1250l8-1M2314 1434l8 3M2650 1643l22 19M2716 1703l16 12M1776 1362l10-5M2088 1559l9-4M1667 1415l8-3M1967 1618l9-5M1485 1514l7 2M1704 1708l8-1M2341 1253l41 35M2184 1278l11-4M2437 1485l8 1M1975 1368l9-6M2288 1563l9-3M1840 1431l8-2M2144 1633l9-6M1775 1465l8 0M2034 1679l10-5M1670 1534l10 5M1868 1714l9 0M2494 1240l18 13M2579 1314l18 15M2062 1425l7-2M2372 1624l9-6M1996 1457l6 0M2272 1668l8-5M1950 1483l9 1M2198 1692l10-4M1497 1412l9 5M1825 1617l16 14M1925 1709l16 11M2559 1244l9 1M2317 1296l11-6M2588 1504l8-1M2213 1355l9-6M2529 1548l8-2M1576 1497l8 0M2564 1293l10-6M2386 1371l10-6M2695 1569l9-4M2142 1490l8 1M2392 1696l9-4M1542 1283l10-5M1804 1489l8 1M1669 1559l9-4M2622 1358l11-7M1574 1606l10-6M2523 1406l6-3M1486 1646l10-6M2448 1440l7-1M1844 1243l16 11M1938 1328l17 14M2278 1545l9 5M2473 1717l9 1M1917 1245l8 0M2121 1417l9 4M2440 1615l13 10M2557 1718l11 7M1574 1360l8-5M1892 1552l8-2M1614 1240l12 6M1735 1347l13 10M2068 1556l10 6M2242 1717l10 2M1533 1241l9 2M1716 1399l9 5M2040 1601l13 10M2163 1714l12 7M2032 1239l10 5M2157 1349l11 9M2486 1555l10 6M2662 1717l10 2M1625 1719l8 1M2239 1238l10 5M2369 1351l10 8M2695 1555l8 5M1768 1241l11 4M1924 1382l11 7M2242 1580l9 6M2407 1723l9 3M1546 1727l8-3M2102 1214l9 5M2227 1340l8 6M2536 1554l8 4M2712 1739l7 0M1633 1713l10-6M2199 1221l63 64M2596 1516l6 2M1497 1424l9-4M1750 1660l12-11M2668 1470l7-1M1593 1376l9-7M1876 1591l9-8M1696 1325l9-7M1975 1539l6-2M1829 1260l9-6M2053 1490l7-1M1926 1234l8-2M2124 1444l7 2M2484 1692l33 35M2019 1221l8 1M2179 1395l7 4M2500 1615l10 9M2614 1739l10 6M1916 1428l8-3M2174 1661l12-11M2017 1369l10-8M2291 1590l9-7M2127 1313l10-8M2391 1537l6-3M1634 1680l55 57M2245 1259l9-6M2474 1487l7 0M1653 1607l10 8M1781 1741l9 5M2347 1233l9-2M2538 1441l7 2M1699 1561l6 4M1873 1740l6 1M2436 1224l9 1M2596 1399l8 5M1764 1513l7 2M1961 1728l8-3M2527 1218l10 7M2642 1338l11 9M1836 1470l7-1M2063 1706l10-7M2634 1232l33 34M1634 1491l6-1M2548 1310l11-10M1508 1235l8-2M1705 1447l7 2M2053 1681l60 61M2663 1262l10-6M1595 1221l9 2M1759 1395l8 5M2072 1610l9 8M2197 1742l9 5M1772 1212l14 12M1839 1279l14 14M2183 1516l8 2M2378 1732l8-2M2251 1475l5-1M2479 1708l8-5M2334 1427l8-4M2587 1662l12-10M1557 1534l7-3M2427 1378l7-6M2714 1588l8-6"/></g><use href="#p1_7" stroke="#00ff51" stroke-dasharray="3.2 17.8 2.8 16.4 3.0 12.8 4.6 13.2 3.8 31.4 5.0 24.8 4.0 13.2" stroke-dashoffset="42" stroke-linecap="butt"/><use href="#p1_7" stroke="#0100ff" stroke-dasharray="2.8 31.2 3.8 9.0 4.2 26.2 4.2 29.8 2.6 19.8 3.6 7.6 4.2 28.2" stroke-dashoffset="70" stroke-linecap="butt"/><g stroke="#006bff"><path id="p1_8" d="M2100 1249l9 0M2305 1430l9 4M2672 1662l44 41M1786 1357l10-7M2079 1563l9-4M1675 1412l8-4M1956 1625l11-7M1492 1516l8 3M1696 1709l8-1M2195 1274l11-5M2427 1484l10 1M1984 1362l10-6M2280 1567l8-4M1848 1429l7-2M2134 1639l10-6M1783 1465l8 0M2023 1684l11-5M1680 1539l10 5M1857 1713l11 1M2512 1253l67 61M2069 1423l8-3M2361 1630l11-6M2002 1457l7 0M2263 1673l9-5M1959 1484l9 1M2187 1696l11-4M1488 1407l9 5M1841 1631l29 27M1897 1685l28 24M2568 1245l9 2M2328 1290l11-6M2580 1504l8 0M2222 1349l10-6M2522 1551l7-3M1566 1498l10-1M2574 1287l11-5M2396 1365l10-6M2685 1574l10-5M2150 1491l8 2M2383 1699l9-3M1552 1278l11-5M1795 1489l9 0M1660 1563l9-4M2633 1351l11-7M1564 1612l10-6M2529 1403l8-4M1476 1652l10-6M2455 1439l7-1M1860 1254l31 28M1906 1298l32 30M2287 1550l9 5M2465 1716l8 1M1925 1245l9 1M2112 1412l9 5M2453 1625l16 14M2541 1707l16 11M1582 1355l10-6M1885 1556l7-4M1626 1246l14 10M1720 1334l15 13M2078 1562l12 8M2231 1713l11 4M1542 1243l9 2M1706 1393l10 6M2053 1611l16 14M2147 1703l16 11M2042 1244l11 8M2144 1339l13 10M2496 1561l12 8M2651 1713l11 4M1617 1717l8 2M2249 1243l12 8M2356 1341l13 10M2703 1560l10 6M1779 1245l12 6M1911 1372l13 10M2251 1586l11 7M2398 1718l9 5M1538 1729l8-2M2111 1219l9 6M2217 1331l10 9M2544 1558l7 4M2704 1737l8 2M1624 1719l9-6M2602 1518l7 2M1506 1420l8-5M1738 1671l12-11M2675 1469l8-1M1602 1369l11-9M1866 1599l10-8M1705 1318l10-9M1968 1543l7-4M1838 1254l10-6M2046 1491l7-1M1934 1232l8-2M2116 1441l8 3M2027 1222l8 2M2171 1389l8 6M2510 1624l12 12M2602 1730l12 9M1924 1425l9-5M2161 1672l13-11M2027 1361l11-10M2280 1599l11-9M2137 1305l11-10M2383 1541l8-4M2254 1253l9-6M2467 1488l7-1M1663 1615l11 9M1770 1734l11 7M2356 1231l8-1M2530 1438l8 3M1705 1565l7 4M1867 1739l6 1M2445 1225l9 3M2587 1393l9 6M1771 1515l8 3M1952 1729l9-1M2537 1225l13 10M2629 1325l13 13M1843 1469l7-2M2052 1713l11-7M1627 1492l7-1M2559 1300l12-11M1516 1233l9-2M1697 1444l8 3M2673 1256l11-7M1604 1223l8 2M1750 1389l9 6M2081 1618l11 10M2187 1735l10 7M1786 1224l53 55M2191 1518l8 2M2368 1734l10-2M2256 1474l7 0M2471 1713l8-5M2342 1423l8-5M2574 1674l13-12M1549 1538l8-4M2434 1372l9-7M2706 1595l8-7"/></g><use href="#p1_8" stroke="#00ffbc" stroke-dasharray="2.8 31.2 3.8 9.0 4.2 26.2 4.2 29.8 2.6 19.8 3.6 7.6 4.2 28.2" stroke-dashoffset="48" stroke-linecap="butt"/><use href="#p1_8" stroke="#6c00ff" stroke-dasharray="4.0 12.8 4.8 19.2 3.8 25.6 2.8 27.4 4.4 26.4 3.0 26.8 3.0 8.2" stroke-dashoffset="80" stroke-linecap="butt"/><g stroke="#0100ff"><path id="p1_9" d="M2109 1249l9 0M2297 1426l8 4M1796 1350l12-7M2070 1567l9-4M1683 1408l9-4M1945 1633l11-8M1500 1519l9 4M1687 1710l9-1M2206 1269l12-5M2417 1483l10 1M1994 1356l11-7M2270 1572l10-5M1855 1427l9-3M2123 1646l11-7M1791 1465l9 0M2012 1690l11-6M1690 1544l11 7M1846 1710l11 3M2077 1420l8-3M2351 1637l10-7M2009 1457l8-1M2252 1678l11-5M1968 1485l9 2M2176 1700l11-4M1478 1401l10 6M1870 1658l27 27M2577 1247l10 3M2729 1397l3 2M2339 1284l11-6M2571 1505l9-1M2232 1343l10-6M2514 1554l8-3M1557 1498l9 0M2585 1282l11-6M2406 1359l12-8M2674 1580l11-6M2158 1493l8 2M2374 1701l9-2M1563 1273l11-4M1786 1488l9 1M1650 1568l10-5M2644 1344l12-9M1552 1620l12-8M2537 1399l8-3M1472 1655l4-3M2462 1438l8-2M2724 1658l8-5M1891 1282l15 16M2296 1555l10 6M2455 1713l10 3M1934 1246l10 2M2102 1407l10 5M2469 1639l52 50 20 18M1592 1349l10-7M1876 1559l9-3M1640 1256l25 23M1694 1309l26 25M2090 1570l13 10M2218 1707l13 6M1551 1245l10 4M1696 1385l10 8M2069 1625l31 31M2117 1675l30 28M2053 1252l17 14M2126 1322l18 17M2508 1569l13 10M2638 1707l13 6M1607 1715l10 2M2261 1251l16 12M2340 1326l16 15M2713 1566l10 7M1791 1251l16 11M1895 1358l16 14M2262 1593l11 9M2387 1713l11 5M1532 1731l6-2M2120 1225l7 6M2210 1324l7 7M2551 1562l6 3M2699 1736l5 1M1618 1722l6-3M2609 1520l4 1M1514 1415l10-7M1724 1685l14-14M2683 1468l8-2M1613 1360l11-11M1855 1610l11-11M1715 1309l11-10M1961 1547l7-4M1848 1248l10-6M2038 1492l8-1M1942 1230l10-1M2108 1439l8 2M2035 1224l9 4M2162 1383l9 6M2522 1636l17 18M2586 1714l16 16M1933 1420l9-6M2148 1685l13-13M2038 1351l12-11M2268 1611l12-12M2148 1295l11-10M2375 1545l8-4M2263 1247l6-3M2462 1488l5 0M1674 1624l13 14M1757 1723l13 11M2364 1230l9-1M2522 1435l8 3M1712 1569l7 5M1859 1737l8 2M2454 1228l9 4M2577 1386l10 7M1779 1518l8 2M1943 1731l9-2M2550 1235l19 20M2609 1303l20 22M1850 1467l9-1M2041 1720l11-7M1623 1492l4 0M2571 1289l8-7M1525 1231l9-1M1689 1442l8 2M2684 1249l10-7M1612 1225l10 5M1740 1382l10 7M2092 1628l14 13M2174 1724l13 11M2199 1520l5 2M2363 1735l5-1M2263 1474l3-1M2466 1716l5-3M2350 1418l10-6M2561 1687l13-13M1542 1542l7-4M2443 1365l9-8M2697 1603l9-8"/></g><use href="#p1_9" stroke="#00d6ff" stroke-dasharray="4.0 12.8 4.8 19.2 3.8 25.6 2.8 27.4 4.4 26.4 3.0 26.8 3.0 8.2" stroke-dashoffset="54" stroke-linecap="butt"/><use href="#p1_9" stroke="#f0f" stroke-dasharray="4.8 28.4 4.8 18.2 3.2 6.2 4.2 24.8 4.8 13.4 3.0 22.6 4.6 31.0" stroke-dashoffset="90" stroke-linecap="butt"/><g stroke="#6c00ff"><path id="p1_10" d="M2118 1249l9 2M2287 1421l10 5M1808 1343l11-9M2060 1573l10-6M1692 1404l9-4M1934 1641l11-8M1509 1523l9 4M1677 1709l10 1M2218 1264l12-4M2407 1482l10 1M2005 1349l11-8M2260 1578l10-6M1864 1424l8-3M2111 1654l12-8M1800 1465l9 0M2001 1695l11-5M1701 1551l13 8M1833 1705l13 5M2085 1417l9-3M2340 1645l11-8M2017 1456l8-1M2242 1684l10-6M1977 1487l10 1M2165 1703l11-3M1472 1397l6 4M2587 1250l10 5M2719 1390l10 7M2350 1278l12-6M2561 1506l10-1M2242 1337l10-8M2505 1558l9-4M1547 1498l10 0M2596 1276l11-5M2418 1351l13-9M2663 1588l11-8M2166 1495l9 2M2364 1704l10-3M1574 1269l12-5M1777 1488l9 0M1640 1573l10-5M2656 1335l14-10M1540 1629l12-9M2545 1396l9-5M2470 1436l7-2M2714 1664l10-6M2306 1561l10 7M2445 1709l10 4M1944 1248l10 4M2092 1400l10 7M1602 1342l11-7M1867 1564l9-5M1665 1279l29 30M2103 1580l16 14M2203 1695l15 12M1561 1249l12 7M1684 1376l12 9M2100 1656l17 19M2070 1266l56 56M2521 1579l15 13M2624 1697l14 10M1597 1710l10 5M2277 1263l63 63M2723 1573l9 7M1807 1262l22 21M1872 1334l23 24M2273 1602l15 13M2373 1703l14 10M1524 1408l10-7M1709 1699l15-14M2691 1466l8-2M1624 1349l12-13M1842 1623l13-13M1726 1299l12-11M1953 1552l8-5M1858 1242l10-6M2030 1493l8-1M1952 1229l9 0M2099 1435l9 4M2044 1228l9 6M2152 1374l10 9M2539 1654l47 60M1942 1414l10-7M2134 1698l14-13M2050 1340l14-15M2255 1624l13-13M2159 1285l12-12M2367 1551l8-6M1687 1638l21 25M1736 1699l21 24M2373 1229l10 1M2513 1431l9 4M1719 1574l8 6M1851 1733l8 4M2463 1232l12 8M2566 1375l11 11M1787 1520l9 3M1934 1731l9 0M2569 1255l40 48M1859 1466l8-2M2030 1727l11-7M1534 1230l10 0M1680 1439l9 3M2694 1242l12-7M1622 1230l11 7M1729 1372l11 10M2106 1641l22 27M2152 1699l22 25M2360 1412l9-7M2548 1700l13-13M1533 1548l9-6M2452 1357l11-10M2686 1612l11-9"/></g><g stroke="#f0f"><path id="p1_11" d="M2127 1251l13 3 12 6 11 7 10 10 18 23 33 58 17 24 21 22 25 17M1819 1334l23-18 20-18 17-18 15-19 12-20 10-21 10-24 9-29M1936 1796l27-98 10-27 12-23 14-22 17-20 20-17 24-16M1701 1400l24-15 20-17 17-19 13-22 10-23 9-27 28-111M1822 1795l8-25 9-22 10-19 11-17 14-18 17-17 43-36M1518 1527l14 8 12 9 11 10 10 13 16 26 31 65 18 26 10 10 11 7 12 5 14 3M2230 1260l22-5 18 0 14 5 11 9 9 15 7 20 21 107 6 23 6 16 10 13 13 10 16 6 24 3M2016 1341l23-17 20-19 18-19 15-20 12-20 11-22 10-26 10-31M2135 1796l27-92 11-27 12-24 14-21 18-20 20-18 23-16M1872 1421l28-13 24-16 17-17 13-22 9-22 7-28 25-137M1996 1795l6-23 8-18 8-16 11-15 14-15 18-16 50-38M1809 1465l34-1 18 2 13 7 9 12 5 17 5 24 10 108 5 32 5 23 8 14 5 4 6 3 16 2 23-6 30-11M1714 1559l16 15 15 19 42 65 14 20 16 16 16 11M2094 1414l27-14 23-16 17-18 14-22 10-23 8-29 27-125M2221 1796l7-23 8-21 10-18 11-17 15-16 18-18 50-38M2025 1455l64-9 11-1 8 2 6 5 4 10 5 38M2129 1669l2 24 4 15 5 9 8 3 14-1 20-6 27-12 33-17M1987 1488l22 5 16 7 12 10 10 14 7 15 7 20 24 98 8 20 9 14 11 9 14 6 17 0 21-3M2362 1272l30-14 25-10 17-4 12 1 7 5 6 11 3 17 3 29M2471 1444l5 46 4 12 7 7 7 3 12 1 55-7M2252 1329l25-19 23-19 18-18 15-18 13-19 11-20 9-23 8-26M2375 1796l28-112 10-28 11-24 14-22 18-20 23-17 26-15M1472 1468l8 18 6 6 7 4 19 3 35-1M2607 1271l36-15 26-6 10 0 8 2 6 4 5 7 6 13 5 23 13 136 5 26 5 16M2431 1342l21-17 19-18 16-19 14-19 12-20 11-24 20-58M2544 1795l26-84 11-26 11-23 14-21 16-19 19-18 22-16M2175 1497l21 6 17 8 13 10 11 14 8 14 7 19 29 90 9 19 9 13 12 10 15 5 17 1 21-2M1586 1264l26-8 21-2 15 3 12 9 8 14 7 22 20 118 5 23 7 16 10 14 13 8 18 5 29 2M1472 1265l13-20 11-22 11-25 10-32M1517 1795l27-96 10-27 12-24 14-22 17-19 20-18 23-16M2670 1325l35-32 27-33M1472 1697l14-17 15-17 39-34M2554 1391l24-15 22-18 19-20 15-23 12-23 11-29 28-97M2685 1795l11-33 10-25 12-23 14-21M2477 1434l32-11 25-14 18-17 12-20 8-21 6-29 13-119 5-35M2596 1796l5-21 6-17 8-14 10-13 13-13 17-14 59-40M1954 1252l19 10 18 16 17 20 46 67 18 19 20 16M1613 1335l25-19 22-19 18-19 16-19 12-19 11-21 10-23 9-29M1736 1796l29-106 10-28 11-23 15-23 18-20 22-17 26-15M2119 1594l20 23 42 56 22 22M1573 1256l15 11 14 14 53 66 29 29M2536 1592l21 25 43 57 24 23M1472 1577l16 15 16 16 42 57 16 18 17 16 18 11M1829 1283l43 51M2288 1615l19 20 43 47 23 21M1534 1401l15-14 13-16 11-17 11-21 13-34 29-92 16-41M1643 1795l12-25 15-24 18-23 21-24M2699 1464l33-11M1636 1336l27-32 25-37 23-42 27-58M1739 1796l28-61 23-42 25-38 27-32M1738 1288l30-31 25-29 19-30 16-31M1829 1796l15-40 30-92 17-40 13-22 14-19 16-16 19-15M1868 1236l71-39 8-10 4-18M1955 1546l4-22 3-6 6-5 9-5 15-6 38-9M1961 1229l13 2 11 4 10 8 9 10 7 14 7 17 24 79 13 31 9 15 10 10 11 9 14 7M2053 1234l14 12 12 15 47 80 12 18 14 15M1952 1407l15-14 13-15 12-18 11-20 16-41 30-96 15-36M2064 1796l13-26 15-23 19-23 23-26M2064 1325l24-31 23-35 22-40 24-52M2157 1796l28-62 22-42 23-36 25-32M2171 1273l27-27 21-26 17-26 14-28M2251 1795l15-41 29-96 15-39 12-21 13-18 15-15 17-14M1708 1663l28 36M2383 1230l12 3 10 5 9 8 8 10 14 30 24 75 12 30 8 13 10 11 10 9 13 7M1727 1580l18 16 16 19 42 70 15 20 16 17 17 11M2475 1240l12 11 11 16 44 77 12 17 12 14M1796 1523l15 8 11 8 10 11 8 14 12 31 24 81 7 18 7 12 9 11 10 8 11 4 14 2M1867 1464l21-7 17-8 11-9 9-11 6-12 4-18 6-57M1946 1240l4-46 6-28M1956 1795l8-17 12-13 18-14 36-24M1544 1230l13 2 11 4 10 8 8 10 7 12 7 18 24 83 12 31 8 14 10 11 11 8 15 8M2706 1235l26-15M1633 1237l13 11 12 15 45 77 13 18 13 14M2128 1668l24 31M1472 1621l12-23 14-19 16-17 19-14M2463 1347l31-35 27-39 24-44 29-63M2574 1795l30-64 25-45 27-39 30-35M2123 1508h0M2124 1517h0M2124 1528h0M2125 1540h0M2125 1554h0M2126 1570h0M2126 1586h0M2126 1602h0M2127 1617h0M2127 1631h0M2128 1643h0M2128 1653h0M2129 1662h0M2465 1314h0M2466 1322h0M2466 1331h0M2466 1341h0M2467 1352h0M2467 1363h0M2468 1375h0M2468 1387h0M2469 1398h0M2469 1409h0M2470 1419h0M2470 1429h0M2470 1437h0M1951 1793h0M1952 1784h0M1952 1772h0M1952 1751h0M1953 1716h0M1953 1664h0M1954 1615h0M1954 1583h0M1955 1565h0M1955 1554h0M1941 1335h0M1942 1327h0M1942 1318h0M1943 1309h0M1943 1300h0M1944 1291h0M1944 1282h0M1944 1273h0M1945 1264h0M1945 1255h0M1946 1247h0"/></g><path stroke="#00ff51" d="M1670 1211l23 10 21 17 19 20 36 49 18 21 21 21 24 18M2112 1561l34 21 13 12 12 12 19 26 38 63 20 25 12 10 14 8 14 4 17 2"/><path stroke="#0100ff" d="M1472 1714l11 11 13 6 17 2 19-2M2127 1231l21 21 42 50 20 22M2557 1565l21 18 19 22 15 23 31 57 16 24 19 17 10 6 11 4M1472 1463l23-9 12-11 7-15 4-28M1524 1188l2-20M1526 1795l6-16 10-12 14-10 62-35M2613 1521l21 7 15 9 12 10 11 14 7 15 7 19 28 91 8 18 10 14M2269 1244l90-49 5-4 3-6 3-18M2374 1538l3-19 4-6 6-5 13-5 20-6 42-9M1472 1218l24-15 13-10 9-11 5-14M1523 1796l5-39M1535 1586l2-25 3-18 4-13 7-10 11-9 16-7 22-7 23-5M2579 1282l31-31 23-28 19-27 15-30M2667 1795l16-42 31-98 18-43M2204 1522l18 7 13 8 12 11 9 14 14 33 25 89 7 18 8 13 10 10 12 7 14 3 17 0M2266 1473l24-4 22-5 18-7 12-7 7-6 4-9 4-30M2361 1183l2-16M2363 1794l5-17 10-11 88-50M1518 1393h0M1518 1384h0M1519 1373h0M1519 1358h0M1520 1340h0M1520 1318h0M1521 1293h0M1521 1269h0M1521 1247h0M1522 1229h0M1522 1215h0M1523 1204h0M1523 1195h0M2370 1789h0M2371 1777h0M2371 1754h0M2372 1706h0M2372 1634h0M2372 1584h0M2373 1560h0M2373 1546h0M1528 1750h0M1529 1742h0M1529 1733h0M1530 1722h0M1530 1710h0M1531 1696h0M1531 1682h0M1532 1667h0M1532 1652h0M1532 1638h0M1533 1625h0M1533 1613h0M1534 1603h0M1534 1594h0M2357 1397h0M2358 1385h0M2358 1368h0M2358 1343h0M2359 1311h0M2359 1276h0M2360 1244h0M2360 1220h0M2361 1203h0M2361 1192h0"/><path stroke="#6c00ff" d="M2597 1255l17 11 16 15 14 18 43 59 16 17 16 15M2316 1568l18 16 16 18 45 61 15 19 17 16 18 11M2369 1405l15-13 13-16 12-18 10-20 14-34 29-94 17-43M2480 1796l13-26 15-23 18-23 22-24"/><path stroke="#000" d="M1519 1740h0M1519 1740h0M1520 1740h0M2067 1255h0M2067 1255h0M2354 1450h0M2354 1451h0M2597 1605h0M2597 1605h0M1743 1380h0M1744 1380h0M1746 1379h0M2129 1545h0M2129 1545h0M1636 1423h0M1636 1423h0M1997 1600h0M2009 1594h0M2010 1594h0M1728 1703h0M1743 1699h0M1744 1699h0M2292 1220h0M2292 1220h0M2293 1221h0M2447 1338h0M2447 1339h0M2701 1500h0M2702 1500h0M1532 1683h0M1532 1683h0M1546 1694h0M1602 1737h0M1620 1750h0M1621 1750h0M2137 1302h0M2137 1302h0M2476 1490h0M2476 1490h0M1940 1385h0M1941 1385h0M2313 1553h0M2327 1549h0M2328 1549h0M1811 1435h0M1812 1435h0M2182 1610h0M2182 1610h0M1742 1463h0M1742 1463h0M2080 1654h0M2081 1653h0M2081 1653h0M1629 1516h0M1630 1516h0M1908 1711h0M1909 1711h0M2457 1222h0M2457 1222h0M2648 1365h0M2649 1366h0M2032 1431h0M2033 1431h0M2406 1604h0M2406 1603h0M1969 1457h0M1969 1457h0M2315 1643h0M2315 1643h0M1517 1213h0M1517 1214h0M1622 1293h0M1622 1294h0M1914 1476h0M1915 1476h0M2246 1670h0M2246 1670h0M1540 1434h0M1541 1434h0M1778 1585h0M1779 1585h0M1987 1738h0M1987 1738h0M2526 1245h0M2526 1245h0M2274 1321h0M2274 1321h0M2628 1504h0M2628 1504h0M2179 1373h0M2180 1373h0M2561 1539h0M2561 1539h0M1620 1500h0M1621 1500h0M2522 1316h0M2523 1316h0M1472 1555h0M1472 1555h0M1475 1554h0M1476 1554h0M2347 1390h0M2347 1390h0M2367 1381h0M2732 1554h0M2732 1554h0M1713 1217h0M1714 1218h0M1825 1303h0M1826 1303h0M2115 1484h0M2115 1484h0M2437 1677h0M2437 1677h0M1500 1306h0M1500 1305h0M1504 1303h0M1839 1493h0M1840 1493h0M1841 1493h0M2170 1697h0M2170 1698h0M2175 1701h0M2228 1742h0M2228 1742h0M1711 1545h0M1711 1545h0M2581 1380h0M2582 1380h0M2582 1379h0M2600 1370h0M1604 1589h0M1621 1580h0M1622 1580h0M2495 1415h0M2496 1414h0M1520 1626h0M1533 1618h0M1533 1618h0M2422 1443h0M2423 1443h0M2425 1443h0M1801 1225h0M1802 1225h0M2005 1377h0M2006 1378h0M2248 1530h0M2248 1531h0M2513 1716h0M2514 1716h0M1893 1246h0M1893 1246h0M2164 1438h0M2165 1438h0M2397 1586h0M2397 1586h0M2596 1736h0M2600 1737h0M2600 1738h0M1546 1375h0M1546 1374h0M1924 1543h0M1928 1542h0M1929 1542h0M1579 1227h0M1579 1227h0M1790 1385h0M1791 1385h0M2025 1533h0M2025 1534h0M2025 1534h0M2292 1719h0M2292 1719h0M1506 1239h0M1506 1239h0M1507 1239h0M1760 1423h0M1761 1423h0M1996 1572h0M1996 1572h0M2215 1733h0M2215 1733h0M1997 1227h0M1998 1227h0M2204 1381h0M2204 1381h0M2450 1537h0M2451 1537h0M2711 1719h0M2712 1719h0M1663 1719h0M1664 1719h0M2206 1227h0M2206 1227h0M2207 1227h0M2216 1229h0M2417 1384h0M2417 1384h0M2659 1537h0M2660 1537h0M1728 1236h0M1728 1236h0M1981 1415h0M1981 1415h0M2205 1558h0M2206 1558h0M2441 1730h0M2442 1730h0M2443 1730h0M1588 1709h0M1588 1709h0M2077 1204h0M2078 1204h0M2078 1205h0M2262 1366h0M2266 1368h0M2266 1368h0M2507 1540h0M2508 1540h0M2508 1540h0M2732 1739h0M2732 1739h0M1681 1681h0M1682 1680h0M2153 1190h0M2153 1190h0M2304 1321h0M2305 1322h0M2570 1509h0M2570 1509h0M2576 1511h0M1472 1435h0M1472 1434h0M1800 1619h0M1808 1612h0M1809 1612h0M2244 1183h0M2245 1183h0M2333 1261h0M2333 1261h0M2638 1471h0M2638 1471h0M1563 1397h0M1564 1397h0M1915 1563h0M1919 1561h0M1920 1561h0M2309 1786h0M2310 1786h0M2349 1191h0M2350 1192h0M2726 1438h0M2727 1438h0M2732 1437h0M2732 1436h0M1661 1353h0M1661 1353h0M2000 1529h0M2001 1529h0M1790 1286h0M1790 1286h0M2086 1489h0M2086 1489h0M2399 1700h0M2399 1700h0M2479 1772h0M2480 1772h0M1891 1247h0M1892 1247h0M1897 1245h0M1907 1241h0M2155 1452h0M2155 1452h0M2430 1644h0M2430 1644h0M2432 1645h0M2573 1769h0M2573 1770h0M1484 1741h0M1485 1741h0M1991 1220h0M1992 1220h0M2216 1414h0M2217 1415h0M2467 1592h0M2467 1592h0M2656 1757h0M2657 1757h0M1472 1787h0M1472 1787h0M1514 1194h0M1514 1194h0M1892 1438h0M1892 1438h0M2221 1621h0M2231 1614h0M2231 1614h0M2666 1183h0M2666 1183h0M2724 1235h0M2732 1242h0M2732 1242h0M1532 1758h0M1532 1758h0M1541 1765h0M1543 1767h0M1568 1789h0M1568 1790h0M1983 1393h0M1983 1393h0M1991 1388h0M2336 1560h0M2336 1560h0M1557 1699h0M1557 1699h0M1611 1747h0M1630 1765h0M1649 1779h0M1649 1780h0M2088 1344h0M2089 1343h0M2422 1525h0M2422 1525h0M1589 1641h0M1589 1641h0M1739 1771h0M1739 1771h0M2212 1281h0M2212 1281h0M2507 1487h0M2508 1487h0M1618 1583h0M1619 1584h0M1818 1755h0M1818 1755h0M2314 1244h0M2315 1244h0M2567 1450h0M2575 1452h0M2576 1452h0M1674 1548h0M1674 1548h0M1903 1741h0M1903 1741h0M2403 1225h0M2403 1225h0M2629 1416h0M2637 1420h0M2637 1420h0M1733 1505h0M1733 1505h0M1994 1717h0M2004 1712h0M2004 1712h0M2492 1206h0M2493 1206h0M2692 1374h0M2692 1375h0M1472 1238h0M1472 1238h0M1473 1239h0M1476 1241h0M1500 1262h0M1500 1262h0M1805 1471h0M1805 1471h0M1814 1471h0M2115 1669h0M2116 1669h0M2583 1192h0M2583 1192h0M2597 1201h0M2708 1305h0M2722 1315h0M2722 1316h0M1664 1489h0M1665 1489h0M1980 1703h0M1980 1703h0M2063 1777h0M2072 1785h0M2073 1785h0M2503 1346h0M2503 1346h0M1472 1250h0M1472 1249h0M1739 1456h0M1740 1456h0M1740 1456h0M2017 1649h0M2017 1650h0M2154 1770h0M2154 1770h0M2619 1293h0M2620 1292h0M1562 1222h0M1563 1222h0M1570 1221h0M1794 1414h0M1795 1414h0M2038 1587h0M2038 1587h0M2050 1595h0M2233 1756h0M2233 1756h0M2724 1248h0M2725 1248h0M2732 1245h0M2732 1245h0M1655 1207h0M1655 1207h0M1854 1380h0M1854 1381h0M2094 1552h0M2095 1552h0M2309 1744h0M2322 1744h0M2323 1744h0M1741 1192h0M1742 1192h0M1874 1311h0M1887 1321h0M1892 1325h0M1892 1325h0M2156 1509h0M2156 1509h0M2423 1715h0M2424 1714h0M1817 1177h0M1818 1178h0M1923 1270h0M1924 1270h0M2228 1475h0M2228 1475h0M2518 1681h0M2518 1681h0M1490 1566h0M1491 1566h0M2302 1439h0M2302 1439h0M2639 1619h0M2640 1619h0M1591 1522h0M1591 1522h0M1941 1750h0M1941 1751h0M1996 1169h0M1996 1169h0M2396 1398h0M2397 1397h0M2409 1390h0"/></g>
</g></svg>
<g style="mix-blend-mode:multiply" transform="translate(1059.26,780.34) scale(0.9342,1)" font-family="'Liberation Serif', 'Times New Roman', serif" font-weight="bold" font-size="128.61" text-anchor="middle">
<text x="1.3" y="1.3" fill="#b4b4b4">IGN</text>
<text x="-0.9" y="-0.9" fill="#f6f6f6">IGN</text>
<text x="0" y="0" fill="#d6d6d6">IGN</text>
</g>
<rect x="736" y="844.90" width="630" height="1.2" fill="#000"/><rect x="736" y="792.40" width="630" height="1.2" fill="#000"/><rect x="736" y="739.90" width="630" height="1.2" fill="#000"/><rect x="736" y="687.40" width="630" height="1.2" fill="#000"/><rect x="736" y="634.90" width="630" height="1.2" fill="#000"/>
<rect x="761.50" y="894.50" width="1.5" height="1.5" fill="#000"/><rect x="761.50" y="585.00" width="1.5" height="1.5" fill="#000"/><rect x="787.75" y="894.50" width="1.5" height="1.5" fill="#000"/><rect x="787.75" y="585.00" width="1.5" height="1.5" fill="#000"/><rect x="813.75" y="892.50" width="2" height="3.5" fill="#000"/><rect x="813.75" y="585.00" width="2" height="3.5" fill="#000"/><rect x="840.25" y="894.50" width="1.5" height="1.5" fill="#000"/><rect x="840.25" y="585.00" width="1.5" height="1.5" fill="#000"/><rect x="866.50" y="894.50" width="1.5" height="1.5" fill="#000"/><rect x="866.50" y="585.00" width="1.5" height="1.5" fill="#000"/><rect x="892.50" y="892.50" width="2" height="3.5" fill="#000"/><rect x="892.50" y="585.00" width="2" height="3.5" fill="#000"/><rect x="919.00" y="894.50" width="1.5" height="1.5" fill="#000"/><rect x="919.00" y="585.00" width="1.5" height="1.5" fill="#000"/><rect x="945.25" y="894.50" width="1.5" height="1.5" fill="#000"/><rect x="945.25" y="585.00" width="1.5" height="1.5" fill="#000"/><rect x="971.25" y="892.50" width="2" height="3.5" fill="#000"/><rect x="971.25" y="585.00" width="2" height="3.5" fill="#000"/><rect x="997.75" y="894.50" width="1.5" height="1.5" fill="#000"/><rect x="997.75" y="585.00" width="1.5" height="1.5" fill="#000"/><rect x="1024.00" y="894.50" width="1.5" height="1.5" fill="#000"/><rect x="1024.00" y="585.00" width="1.5" height="1.5" fill="#000"/><rect x="1050.00" y="892.50" width="2" height="3.5" fill="#000"/><rect x="1050.00" y="585.00" width="2" height="3.5" fill="#000"/><rect x="1076.50" y="894.50" width="1.5" height="1.5" fill="#000"/><rect x="1076.50" y="585.00" width="1.5" height="1.5" fill="#000"/><rect x="1102.75" y="894.50" width="1.5" height="1.5" fill="#000"/><rect x="1102.75" y="585.00" width="1.5" height="1.5" fill="#000"/><rect x="1128.75" y="892.50" width="2" height="3.5" fill="#000"/><rect x="1128.75" y="585.00" width="2" height="3.5" fill="#000"/><rect x="1155.25" y="894.50" width="1.5" height="1.5" fill="#000"/><rect x="1155.25" y="585.00" width="1.5" height="1.5" fill="#000"/><rect x="1181.50" y="894.50" width="1.5" height="1.5" fill="#000"/><rect x="1181.50" y="585.00" width="1.5" height="1.5" fill="#000"/><rect x="1207.50" y="892.50" width="2" height="3.5" fill="#000"/><rect x="1207.50" y="585.00" width="2" height="3.5" fill="#000"/><rect x="1234.00" y="894.50" width="1.5" height="1.5" fill="#000"/><rect x="1234.00" y="585.00" width="1.5" height="1.5" fill="#000"/><rect x="1260.25" y="894.50" width="1.5" height="1.5" fill="#000"/><rect x="1260.25" y="585.00" width="1.5" height="1.5" fill="#000"/><rect x="1286.25" y="892.50" width="2" height="3.5" fill="#000"/><rect x="1286.25" y="585.00" width="2" height="3.5" fill="#000"/><rect x="1312.75" y="894.50" width="1.5" height="1.5" fill="#000"/><rect x="1312.75" y="585.00" width="1.5" height="1.5" fill="#000"/><rect x="1339.00" y="894.50" width="1.5" height="1.5" fill="#000"/><rect x="1339.00" y="585.00" width="1.5" height="1.5" fill="#000"/><rect x="738.00" y="870.75" width="1.5" height="2" fill="#000"/><rect x="1362.50" y="870.75" width="1.5" height="2" fill="#000"/><rect x="738.00" y="844.50" width="4" height="2" fill="#000"/><rect x="1360.00" y="844.50" width="4" height="2" fill="#000"/><rect x="738.00" y="818.25" width="1.5" height="2" fill="#000"/><rect x="1362.50" y="818.25" width="1.5" height="2" fill="#000"/><rect x="738.00" y="792.00" width="4" height="2" fill="#000"/><rect x="1360.00" y="792.00" width="4" height="2" fill="#000"/><rect x="738.00" y="765.75" width="1.5" height="2" fill="#000"/><rect x="1362.50" y="765.75" width="1.5" height="2" fill="#000"/><rect x="738.00" y="739.50" width="4" height="2" fill="#000"/><rect x="1360.00" y="739.50" width="4" height="2" fill="#000"/><rect x="738.00" y="713.25" width="1.5" height="2" fill="#000"/><rect x="1362.50" y="713.25" width="1.5" height="2" fill="#000"/><rect x="738.00" y="687.00" width="4" height="2" fill="#000"/><rect x="1360.00" y="687.00" width="4" height="2" fill="#000"/><rect x="738.00" y="660.75" width="1.5" height="2" fill="#000"/><rect x="1362.50" y="660.75" width="1.5" height="2" fill="#000"/><rect x="738.00" y="634.50" width="4" height="2" fill="#000"/><rect x="1360.00" y="634.50" width="4" height="2" fill="#000"/><rect x="738.00" y="608.25" width="1.5" height="2" fill="#000"/><rect x="1362.50" y="608.25" width="1.5" height="2" fill="#000"/>
<rect x="736" y="583" width="630" height="315" fill="none" stroke="#000" stroke-width="4"/>
<text x="736.0" y="921.5" font-size="22" text-anchor="middle">0</text><text x="814.8" y="921.5" font-size="22" text-anchor="middle">3</text><text x="893.5" y="921.5" font-size="22" text-anchor="middle">6</text><text x="972.2" y="921.5" font-size="22" text-anchor="middle">9</text><text x="1051.0" y="921.5" font-size="22" text-anchor="middle">12</text><text x="1129.8" y="921.5" font-size="22" text-anchor="middle">15</text><text x="1208.5" y="921.5" font-size="22" text-anchor="middle">18</text><text x="1287.2" y="921.5" font-size="22" text-anchor="middle">21</text><text x="1366.0" y="921.5" font-size="22" text-anchor="middle">24</text>
<text x="1375" y="905.6" font-size="22">0</text><text x="1375" y="853.1" font-size="22">60</text><text x="1375" y="800.6" font-size="22">120</text><text x="1375" y="748.1" font-size="22">180</text><text x="1375" y="695.6" font-size="22">240</text><text x="1375" y="643.1" font-size="22">300</text><text x="1375" y="590.6" font-size="22">360</text>
<text x="0" y="0" font-size="22" text-anchor="middle" transform="translate(1440,741.5) rotate(-90)">Azimut (grados)</text>
<svg x="736" y="977" width="630" height="315" overflow="hidden"><g transform="translate(-736,-977)">
<g transform="scale(0.5)" fill="none" stroke-width="4.7" stroke-linejoin="round" stroke-linecap="square"><g stroke="#ff3600"><path id="p2_0" d="M1517 2544l3 7M2351 2565l3 8M2597 2571l5-11M2126 2565l3 9M1636 2560l3-10M1741 2540l3 9M2443 2563l4 9M2701 2575l4-11M1532 2572l7-9M1614 2563l7 9M2137 2579l4-11M1940 2570l4-10M2325 2561l3 8M1811 2572l3-10M1742 2563l3-11M1629 2571l4-12M2644 2568l5 10M2032 2575l4-10M1969 2557l3-10M2312 2548l3 8M1517 2567h0M1616 2567l6 11M1914 2575l4-11M1537 2563l4 9M1984 2563l3 10M2526 2563l3-10M2274 2571l4-11M2626 2561l2 7M2179 2571l4-9M1618 2564l3 10M2522 2579l5-10M1472 2543l4 9M2347 2577l3-12M1819 2560l7 10M2434 2562l3 9M1500 2575l4-11M2170 2563l13-10M2218 2553l10 8M1708 2568l3 9M2581 2562l4-11M1618 2555l4 10M2495 2561l3-10M1530 2561l3 9M2422 2560l3-10M1801 2555l1-2M2001 2554l5 10M2511 2556l3 9M2161 2565l4 9M2397 2571l4-10M1926 2566l3 8M1579 2554l0-1M1787 2553l4 10M2025 2569l3-9M2289 2561l3 10M1757 2559l4 9M1996 2556l2-5M2212 2551l3 11M1997 2555l4-10M2203 2546l1 3M2708 2563l4 10M1661 2562l3 8M2206 2558l3-9M2414 2550l3 9M2659 2552l4-10M1728 2572l3-11M1977 2563l4 10M2205 2574l4-9M1585 2564l3 9M2263 2563l3 9M2507 2569l3-10M1678 2545l4 10M2153 2578l3-10M2570 2571l2-10M1805 2561l4 10M2327 2565l6 11M2638 2578l3-11M1916 2567l4 10M2309 2573l8-9M2726 2562l3-11M1661 2572l3-10M1790 2559l4-10M2086 2550l0 2M2399 2569l5-10M1891 2572l4-11M2570 2558l3 10M1482 2541l3 9M1991 2549l1-3M2214 2547l3 9M2654 2554l3 9M1472 2579l9-11M2227 2567l4 10M2666 2556l6-10M1532 2566l9-6 9-2 9 1 9 5M2333 2560l3 10M1557 2574l6-10M1649 2565l0 1M2088 2560l4-10M2421 2551l1 3M1736 2568l3 11M2505 2557l3 10M1618 2574l4-10M2314 2557l2-7M2573 2552l3 9M1674 2562l2-8M1901 2556l2 7M2403 2561l3-10M2635 2551l2 8M1733 2569l3-11M2001 2559l3 10M2492 2575l2-7M2689 2569l3 10M1496 2567l4 9M1805 2575l3-12M2112 2565l4 9M2583 2558l2-6M2719 2554l3 9M1663 2548l2 8M2068 2566l5 9M2503 2568l4-11M1472 2569l4-11M2151 2561l3 9M2619 2575l5-12M1562 2576l3-11M2038 2573l3-11M2724 2575l4-11M1851 2561l3 9M2094 2565l2-7M2320 2560l3 10M1889 2571l3 8M2420 2567l4 11M1817 2576l3-7M1919 2570l5 9M2228 2550l2-10M2515 2543l3 8M1488 2547l3 8M2302 2571l3-11M1588 2569l3 10M1941 2580l9-10M1993 2570l3 3M2396 2567l4-9M2010 2551h0"/></g><use href="#p2_0" stroke="#f1ff00" stroke-dasharray="3.6 22.4 5.2 23.8 3.4 10.8 3.4 19.2 4.8 26.2 3.2 30.0 3.8 24.0" stroke-dashoffset="0" stroke-linecap="butt"/><use href="#p2_0" stroke="#f00" stroke-dasharray="2.8 8.8 3.0 29.0 4.4 28.0 4.2 16.6 3.8 21.4 4.8 17.4 4.8 22.0" stroke-dashoffset="6" stroke-linecap="butt"/><use href="#p2_0" stroke="#1bff00" stroke-dasharray="4.8 19.0 4.4 14.8 3.8 11.6 2.6 7.0 4.4 17.8 5.0 27.8 3.4 31.4" stroke-dashoffset="10" stroke-linecap="butt"/><g stroke="#ffa100"><path id="p2_1" d="M1513 2534l4 10M2067 2555l0-1M2347 2555l4 10M2602 2560l4-10M1743 2563l4-10M2123 2555l3 10M1639 2550l3-11M2006 2541l4 10M1737 2530l4 10M2438 2553l5 10M2705 2564l4-10M1539 2563l10-10M1605 2554l9 9M2141 2568l5-12M2476 2558l0 1M1944 2560l3-10M2322 2551l3 10M1814 2562l3-10M1745 2552l3-10M2078 2542l3 9M1633 2559l4-11M2640 2558l4 10M2036 2565l3-10M1972 2547l3-10M2308 2539l4 9M1517 2567l7-11M1607 2556l9 11M1918 2564l4-12M2242 2554l4 10M1534 2554l3 9M1778 2556l2-6M1980 2552l4 11M2529 2553l4-11M2278 2560l4-11M2623 2551l3 10M2183 2562l3-10M2559 2553l2 7M1614 2553l4 11M2527 2569l4-10M1472 2541l0 2M2350 2565l4-10M1713 2556l5-8M1812 2549l7 11M2115 2560l3-9M2430 2552l4 10M1504 2564l4-11M1839 2555l2 5M2183 2553l9-4 8-1 9 1 9 4M1705 2557l3 11M2585 2551l4-11M1615 2546l3 9M2498 2551l3-9M1526 2551l4 10M2425 2550l3-8M1802 2553l4-11M1997 2543l4 11M2248 2553l3-8M2508 2546l3 10M2158 2556l3 9M2401 2561l5-10M2599 2552l1 4M1546 2557l1-2M1923 2557l3 9M1579 2553l4-11M1783 2543l4 10M2028 2560l4-11M2285 2550l4 11M1506 2553l1-5M1753 2549l4 10M1998 2551l4-11M2208 2541l4 10M2001 2545l3-10M2199 2536l4 10M2705 2553l3 10M1658 2552l3 10M2209 2549l3-10M2410 2541l4 9M2663 2542l4-10M1731 2561l3-10M1972 2551l5 12M2209 2565l4-10M2441 2556l2 5M1581 2553l4 11M2077 2560l3-9M2260 2554l3 9M2510 2559l3-10M1674 2534l4 11M2156 2568l4-12M2303 2557l2 4M2572 2561l3-11M1801 2550l4 11M2244 2560l5-7M2320 2554l7 11M2641 2567l3-12M1563 2560l2-5M1913 2557l3 10M2317 2564l13-10M2729 2551l3-10M1664 2562l4-10M1794 2549l4-11M2083 2539l3 11M2404 2559l6-9M2478 2550l2 2M1895 2561l3-11M2430 2553l3-8M2566 2547l4 11M1479 2530l3 11M1992 2546l3-11M2211 2537l3 10M2467 2552l3-11M2651 2544l3 10M1481 2568l9-7 7-3M1510 2558l4 1M2223 2556l4 11M2672 2546l7-10M1983 2559l3-11M2330 2549l3 11M1563 2564l6-10M1643 2555l6 10M2092 2550l4-10M2419 2541l2 10M1732 2558l4 10M2212 2553l2-7M2502 2547l3 10M1622 2564l3-11M1815 2554l3 9M2316 2550l4-12M2570 2540l3 12M1676 2554l3-9M1899 2547l2 9M2406 2551l4-13M2632 2541l3 10M1736 2558l3-11M1998 2548l3 11M2494 2568l4-11M2685 2558l4 11M1490 2557l6 10M1808 2563l3-11M2108 2554l4 11M2585 2552l4-10M2714 2543l5 11M1660 2538l3 10M1980 2562l3-7M2063 2556l5 10M2507 2557l4-10M1476 2558l3-11M1738 2548l2 10M2148 2552l3 9M2624 2563l4-11M1565 2565l4-12M1794 2554l1 2M2041 2562l4-11M2232 2554l1 4M2728 2564l3-10M1655 2554l2-6M1847 2550l4 11M2096 2558l3-10M2317 2549l3 11M1741 2560l1-1M1885 2560l4 11M2156 2556l0-1M2417 2555l3 12M1820 2569l6-10M1914 2560l5 10M2230 2540l2-8M2512 2533l3 10M1485 2536l3 11M2305 2560l3-11M2637 2550l3 8M1586 2560l2 9M1950 2570l11-8 10-2 11 2 11 8M2400 2558l3-10"/></g><use href="#p2_1" stroke="#ff3600" stroke-dasharray="3.6 22.4 5.2 23.8 3.4 10.8 3.4 19.2 4.8 26.2 3.2 30.0 3.8 24.0" stroke-dashoffset="6" stroke-linecap="butt"/><use href="#p2_1" stroke="#86ff00" stroke-dasharray="2.8 8.8 3.0 29.0 4.4 28.0 4.2 16.6 3.8 21.4 4.8 17.4 4.8 22.0" stroke-dashoffset="10" stroke-linecap="butt"/><use href="#p2_1" stroke="#f00" stroke-dasharray="4.8 19.0 4.4 14.8 3.8 11.6 2.6 7.0 4.4 17.8 5.0 27.8 3.4 31.4" stroke-dashoffset="20" stroke-linecap="butt"/><use href="#p2_1" stroke="#00ff51" stroke-dasharray="4.0 26.0 3.6 11.2 2.8 10.8 4.0 9.0 2.4 27.6 2.6 17.8 3.8 22.2" stroke-dashoffset="14" stroke-linecap="butt"/><g stroke="#f1ff00"><path id="p2_2" d="M1509 2526l4 8M2067 2554l3-10M2344 2545l3 10M2606 2550l5-10M1747 2553l3-9M2120 2545l3 10M1642 2539l3-9M2002 2531l4 10M1734 2521l3 9M2292 2548l2-5M2433 2544l5 9M2709 2554l3-10M1549 2553l13-9M1593 2545l12 9M2146 2556l4-10M2473 2548l3 10M1947 2550l4-10M2319 2542l3 9M1817 2552l3-9M2179 2544l3 8M1748 2542l4-10M2074 2534l4 8M1637 2548l4-10M1906 2539l3 9M2457 2556l3-9M2635 2548l5 10M2039 2555l3-10M2406 2547l0 2M1975 2537l2-9M2305 2531l3 8M1524 2556l9-11M1598 2546l9 10M1922 2552l3-9M2239 2545l3 9M1530 2545l4 9M1780 2550l5-10M1976 2541l4 11M2533 2542l3-9M2282 2549l4-10M2620 2541l3 10M2186 2552l4-9M2556 2544l3 9M1611 2542l3 11M2531 2559l4-10M2354 2555l4-10M2730 2547l2 5M1718 2548l6-9M1804 2539l8 10M2118 2551l3-10M2426 2542l4 10M1508 2553l4-10M1836 2545l3 10M1702 2547l3 10M2589 2540l3-9M1611 2536l4 10M2501 2542l3-9M1522 2542l4 9M2428 2542l3-9M1806 2542l4-10M1993 2534l4 9M2251 2545l3-10M2504 2537l4 9M1893 2549l1-4M2154 2546l4 10M2406 2551l4-9M2596 2542l3 10M1547 2555l3-10M1920 2547l3 10M1583 2542l3-9M1779 2534l4 9M2032 2549l4-11M2282 2540l3 10M1507 2548l3-9M1750 2540l3 9M2002 2540l5-10M2205 2531l3 10M2004 2535l4-9M2195 2528l4 8M2450 2551l4-10M2701 2542l4 11M1654 2543l4 9M2212 2539l3-8M2406 2531l4 10M2667 2532l3-9M1734 2551l4-11M1969 2541l3 10M2213 2555l4-9M2438 2547l3 9M1578 2543l3 10M2080 2551l2-8M2257 2544l3 10M2513 2549l3-9M1670 2524l4 10M2160 2556l4-10M2300 2548l3 9M2575 2550l3-10M1472 2545l2-7M1797 2539l4 11M2249 2553l7-10M2313 2543l7 11M2644 2555l2-10M1565 2555l3-9M1910 2548l3 9M2330 2554l10-2 10 2M1668 2552l4-9M1999 2544l2 8M1798 2538l3-11M2080 2529l3 10M2410 2550l7-10M2471 2541l7 9M1898 2550l3-10M2153 2542l2 8M2433 2545l4-10M2562 2537l4 10M1476 2520l3 10M1995 2535l3-9M2208 2526l3 11M2470 2541l3-10M2648 2533l3 11M1497 2558l7-1 6 1M1892 2551l2-7M2219 2546l4 10M2679 2536l9-10M2727 2527l5 4M1986 2548l4-11M2326 2539l4 10M1569 2554l6-9M1636 2545l7 10M2096 2540l4-9M2416 2532l3 9M1589 2556l4-10M1728 2547l4 11M2214 2546l4-9M2500 2537l2 10M1625 2553l3-9M1813 2545l2 9M2320 2538l3-10M2568 2531l2 9M1679 2545l3-9M1896 2537l3 10M2410 2538l2-9M2629 2530l3 11M1739 2547l3-12M1995 2538l3 10M2498 2557l3-10M2682 2548l3 10M1484 2548l6 9M1811 2552l3-10M2104 2543l4 11M2589 2542l3-9M2711 2533l3 10M1658 2528l2 10M1983 2555l6-9M2057 2547l6 9M2511 2547l4-10M1479 2547l3-10M1734 2537l4 11M2017 2549l3-8M2144 2543l4 9M2628 2552l4-11M1569 2553l2-9M1792 2546l2 8M2045 2551l3-9M2229 2543l3 11M2731 2554l1-4M1657 2548l3-11M1844 2539l3 11M2099 2548l3-11M2314 2539l3 10M1742 2559l3-9M1882 2551l3 9M2156 2555l3-12M2414 2546l3 9M1826 2559l5-10M1909 2551l5 9M2232 2532l3-10M2508 2523l4 10M1482 2528l3 8M2308 2549l3-10M2633 2540l4 10M1583 2550l3 10M2403 2548l3-10M2732 2541h0"/></g><use href="#p2_2" stroke="#ff3600" stroke-dasharray="2.8 8.8 3.0 29.0 4.4 28.0 4.2 16.6 3.8 21.4 4.8 17.4 4.8 22.0" stroke-dashoffset="12" stroke-linecap="butt"/><use href="#p2_2" stroke="#1bff00" stroke-dasharray="4.8 19.0 4.4 14.8 3.8 11.6 2.6 7.0 4.4 17.8 5.0 27.8 3.4 31.4" stroke-dashoffset="20" stroke-linecap="butt"/><use href="#p2_2" stroke="#f00" stroke-dasharray="4.0 26.0 3.6 11.2 2.8 10.8 4.0 9.0 2.4 27.6 2.6 17.8 3.8 22.2" stroke-dashoffset="34" stroke-linecap="butt"/><use href="#p2_2" stroke="#00ffbc" stroke-dasharray="3.8 30.4 4.6 21.0 4.2 19.2 5.2 11.8 4.4 20.4 2.6 13.6 5.0 26.4" stroke-dashoffset="18" stroke-linecap="butt"/><g stroke="#86ff00"><path id="p2_3" d="M1506 2517l3 9M2070 2544l3-8M2341 2537l3 8M2611 2540l4-9M1750 2544l3-9M2117 2536l3 9M1645 2530l3-9M1999 2523l3 8M1731 2512l3 9M2294 2543l5-10M2428 2534l5 10M2712 2544l3-9M1562 2544l8-3 7 0 8 1 8 3M2150 2546l5-13M2468 2534l5 14M1951 2540l3-9M2316 2532l3 10M1820 2543l3-9M2176 2535l3 9M1752 2532l3-10M2070 2522l4 12M1641 2538l4-13M1901 2526l5 13M2460 2547l4-11M2630 2537l5 11M2042 2545l2-8M2403 2539l3 8M1977 2528l3-8M2302 2522l3 9M1533 2545l16-13M1581 2532l17 14M1925 2543l4-13M2234 2532l5 13M1527 2535l3 10M1785 2540l5-13M1971 2528l5 13M2536 2533l3-8M2286 2539l5-11M2616 2530l4 11M2190 2543l3-8M2554 2535l2 9M1607 2529l4 13M2535 2549l4-10M2358 2545l3-11M2727 2536l3 11M1724 2539l10-12M1794 2528l10 11M2121 2541l2-8M2423 2534l3 8M1512 2543l4-10M1832 2534l4 11M1699 2538l3 9M2592 2531l5-13M1608 2526l3 10M2504 2533l3-8M1519 2533l3 9M2431 2533l2-8M1810 2532l4-11M1987 2521l6 13M2254 2535l3-8M2501 2528l3 9M1894 2545l3-9M2151 2538l3 8M2410 2542l4-9M2592 2534l4 8M1550 2545l3-8M1917 2539l3 8M1586 2533l4-10M1775 2525l4 9M2036 2538l5-13M2277 2527l5 13M1510 2539l4-10M1747 2531l3 9M2007 2530l4-11M2201 2520l4 11M2008 2526l3-8M2192 2520l3 8M2454 2541l5-13M2697 2529l4 13M1652 2535l2 8M2215 2531l3-9M2403 2523l3 8M2670 2523l3-9M1738 2540l4-13M1964 2528l5 13M2217 2546l3-9M2435 2538l3 9M1575 2532l3 11M2082 2543l3-9M2255 2537l2 7M2516 2540l2-9M1666 2513l4 11M2164 2546l4-11M2295 2536l5 12M2578 2540l2-8M1474 2538l3-13M1791 2526l6 13M2256 2543l14-14M2299 2530l14 13M2646 2545l3-12M1568 2546l3-11M1907 2536l3 12M1672 2543l3-8M1997 2536l2 8M1801 2527l4-11M2078 2518l2 11M2417 2540l9-8M2463 2532l8 9M1901 2540l4-12M2150 2530l3 12M2437 2535l5-11M2557 2525l5 12M1474 2511l2 9M1998 2526l3-12M2205 2517l3 9M2473 2531l4-10M2645 2523l3 10M1894 2544l3-11M2214 2533l5 13M2688 2526l10-7 10-2 9 2 10 8M1990 2537l4-12M2323 2528l3 11M1575 2545l8-9M1629 2536l7 9M2100 2531l3-9M2414 2524l2 8M1593 2546l5-12M1724 2535l4 12M2218 2537l4-11M2498 2528l2 9M1628 2544l3-10M1810 2535l3 10M2323 2528l3-11M2564 2518l4 13M1682 2536l2-9M1894 2529l2 8M2412 2529l4-12M2625 2518l4 12M1742 2535l3-11M1991 2525l4 13M2501 2547l3-12M2678 2536l4 12M1477 2539l7 9M1814 2542l3-12M2099 2530l5 13M2592 2533l4-10M2707 2524l4 9M1655 2519l3 9M1989 2546l7-9M2051 2538l6 9M2515 2537l5-13M1482 2537l4-13M1731 2525l3 12M2020 2541l3-8M2141 2534l3 9M2632 2541l5-13M1571 2544l4-13M1788 2532l4 14M2048 2542l3-9M2226 2534l3 9M1660 2537l3-12M1840 2526l4 13M2102 2537l4-12M2311 2528l3 11M1745 2550l3-9M1879 2543l3 8M2159 2543l4-13M2409 2531l5 15M1831 2549l5-8M1903 2542l6 9M2235 2522l2-9M2505 2515l3 8M1479 2518l3 10M2311 2539l3-13M2628 2528l5 12M1581 2542l2 8M2406 2538l2-8"/></g><use href="#p2_3" stroke="#ffa100" stroke-dasharray="4.8 19.0 4.4 14.8 3.8 11.6 2.6 7.0 4.4 17.8 5.0 27.8 3.4 31.4" stroke-dashoffset="18" stroke-linecap="butt"/><use href="#p2_3" stroke="#00ff51" stroke-dasharray="4.0 26.0 3.6 11.2 2.8 10.8 4.0 9.0 2.4 27.6 2.6 17.8 3.8 22.2" stroke-dashoffset="30" stroke-linecap="butt"/><use href="#p2_3" stroke="#f00" stroke-dasharray="3.8 30.4 4.6 21.0 4.2 19.2 5.2 11.8 4.4 20.4 2.6 13.6 5.0 26.4" stroke-dashoffset="48" stroke-linecap="butt"/><use href="#p2_3" stroke="#00d6ff" stroke-dasharray="3.2 13.8 4.6 8.4 4.0 25.0 3.0 7.4 3.2 23.0 4.0 10.0 3.6 23.4" stroke-dashoffset="22" stroke-linecap="butt"/><g stroke="#1bff00"><path id="p2_4" d="M1501 2507l5 10M2073 2536l5-16M2336 2521l5 16M2615 2531l9-19M1753 2535l7-19M2111 2517l6 19M1648 2521l5-17M1993 2505l6 18M1726 2497l5 15M2299 2533l9-18M2417 2516l11 18M2715 2535l7-20M2155 2533l9-23M2461 2511l7 23M1954 2531l6-17M2311 2516l5 16M1823 2534l5-16M2169 2519l7 16M1755 2522l6-21M2062 2502l8 20M1645 2525l8-21M1894 2505l7 21M2464 2536l8-19M2621 2518l9 19M2044 2537l5-16M2396 2523l7 16M1980 2520l4-13M2296 2507l6 15M1549 2532l8-3 8-1 8 1 8 3M1929 2530l6-20M2226 2511l8 21M1521 2519l6 16M1790 2527l10-23M1963 2506l8 22M2539 2525l6-19M2291 2528l7-20M2610 2509l6 21M2193 2535l5-15M2549 2521l5 14M1600 2507l7 22M2539 2539l7-19M2361 2534l7-20M2720 2514l7 22M1734 2527l15-11 7-3 8-1 7 1 8 3 15 12M2123 2533l6-17M2417 2516l6 18M1516 2533l8-21M1826 2513l6 21M1692 2518l7 20M2597 2518l7-20M1601 2507l7 19M2507 2525l4-12M1512 2517l7 16M2433 2525l4-14M1814 2521l8-22M1978 2500l9 21M2257 2527l6-18M2496 2511l5 17M1897 2536l6-17M2145 2521l6 17M2414 2533l7-17M2586 2517l6 17M1553 2537l6-15M1913 2523l4 16M1590 2523l6-18M1767 2506l8 19M2041 2525l8-22M2270 2504l7 23M1514 2529l5-16M1741 2515l6 16M2011 2519l8-21M2193 2499l8 21M2011 2518l5-14M2186 2505l6 15M2459 2528l8-22M2690 2507l7 22M1647 2519l5 16M2218 2522l6-14M2396 2508l7 15M2673 2514l7-17M1742 2527l8-22M1955 2506l9 22M2220 2537l6-14M2430 2524l5 14M1569 2512l6 20M2085 2534l4-14M2249 2521l6 16M2518 2531l6-19M2732 2514l0 1M1659 2493l7 20M2168 2535l8-21M2287 2515l8 21M2580 2532l5-16M1477 2525l6-22M1783 2504l8 22M2270 2529l7-3 7-2 7 2 8 4M2649 2533l6-22M1571 2535l6-19M1901 2517l6 19M1675 2535l5-15M1993 2521l4 15M1805 2516l7-20M2072 2498l6 20M2426 2532l9-6 10-2 9 2 9 6M1905 2528l6-22M2144 2509l6 21M2442 2524l9-22M2549 2503l8 22M1472 2505l2 6M2001 2514l5-19M2200 2496l5 21M2477 2521l7-21M2639 2502l6 21M1897 2533l5-21M2206 2512l8 21M1994 2525l6-20M2316 2505l7 23M1583 2536l11-9 12-3 11 3 12 9M2103 2522l7-17M2409 2506l5 18M1598 2534l9-22M1716 2513l8 22M2222 2526l6-19M2492 2508l6 20M1631 2534l7-20M1804 2515l6 20M2326 2517l7-23M2558 2496l6 22M1684 2527l4-12M1890 2517l4 12M2416 2517l6-23M2619 2495l6 23M1745 2524l6-21M1984 2503l7 22M2504 2535l7-21M2671 2515l7 21M1472 2533l5 6M1817 2530l5-23M2091 2509l8 21M2596 2523l9-20M2698 2505l9 19M1651 2502l4 17M1996 2537l9-9 9-6M2032 2522l10 6 9 10M2520 2524l8-20M1486 2524l7-22M1725 2502l6 23M2023 2533l7-16M2135 2519l6 15M2637 2528l7-22M1575 2531l6-22M1782 2511l6 21M2051 2533l6-19M2221 2515l5 19M1663 2525l6-21M1833 2505l7 21M2106 2525l6-21M2305 2505l6 23M1748 2541l5-15M1872 2527l7 16M2163 2530l6-23M2402 2508l7 23M1836 2541l14-16M1889 2525l14 17M2237 2513l4-14M2501 2501l4 14M1474 2502l5 16M2314 2526l6-21M2619 2506l9 22M1576 2523l5 19M2408 2530l5-15"/></g><use href="#p2_4" stroke="#f1ff00" stroke-dasharray="4.0 26.0 3.6 11.2 2.8 10.8 4.0 9.0 2.4 27.6 2.6 17.8 3.8 22.2" stroke-dashoffset="24" stroke-linecap="butt"/><use href="#p2_4" stroke="#00ffbc" stroke-dasharray="3.8 30.4 4.6 21.0 4.2 19.2 5.2 11.8 4.4 20.4 2.6 13.6 5.0 26.4" stroke-dashoffset="40" stroke-linecap="butt"/><use href="#p2_4" stroke="#006bff" stroke-dasharray="3.6 22.4 5.2 23.8 3.4 10.8 3.4 19.2 4.8 26.2 3.2 30.0 3.8 24.0" stroke-dashoffset="26" stroke-linecap="butt"/><g stroke="#00ff51"><path id="p2_5" d="M1493 2489l8 18M2078 2520l7-21M2329 2502l7 19M2624 2512l12-22M1760 2516l8-22M2104 2496l7 21M1653 2504l7-22M1985 2484l8 21M1472 2494l6-19M1719 2477l7 20M2308 2515l13-21M2404 2494l13 22M2722 2515l7-23M2164 2510l9-25M2454 2486l7 25M1960 2514l7-21M2304 2494l7 22M1828 2518l6-20M2162 2499l7 20M1761 2501l6-22M2054 2480l8 22M1653 2504l8-26M1886 2479l8 26M2472 2517l10-23M2610 2495l11 23M2049 2521l6-20M2389 2503l7 20M1984 2507l6-20M2288 2488l8 19M1935 2510l7-25M2218 2487l8 24M1514 2498l7 21M1800 2504l12-26M1953 2480l10 26M2545 2506l7-21M2298 2508l9-22M2604 2487l6 22M2198 2520l7-19M2543 2503l6 18M1593 2482l7 25M2546 2520l9-22M2368 2514l9-24M2712 2491l8 23M2129 2516l6-21M2409 2495l8 21M1524 2512l9-23M1819 2490l7 23M1686 2496l6 22M2604 2498l9-24M1593 2485l8 22M2511 2513l5-18M1504 2497l8 20M2437 2511l6-19M1822 2499l10-24M1967 2476l11 24M2263 2509l7-20M2489 2490l7 21M1903 2519l7-20M2137 2500l8 21M2421 2516l9-20M2578 2497l8 20M1559 2522l7-19M1906 2504l7 19M1596 2505l9-22M1758 2485l9 21M2049 2503l9-25M2262 2478l8 26M1519 2513l7-21M1733 2494l8 21M2019 2498l10-23M2185 2475l8 24M2016 2504l7-19M2177 2485l9 20M2467 2506l9-25M2682 2482l8 25M1640 2500l7 19M2224 2508l7-20M2389 2490l7 18M2680 2497l6-20M1750 2505l9-26M1946 2480l9 26M2226 2523l8-20M2424 2505l6 19M1562 2488l7 24M2089 2520l6-20M2243 2501l6 20M2524 2512l6-22M2725 2492l7 22M1651 2470l8 23M2176 2514l10-23M2276 2492l11 23M2585 2516l5-22M1483 2503l7-25M1773 2479l10 25M2655 2511l6-25M1577 2516l8-23M1893 2494l8 23M1680 2520l8-20M1987 2502l6 19M1812 2496l8-23M2067 2475l5 23M1911 2506l7-24M2138 2485l6 24M2451 2502l12-24M2537 2479l12 24M2006 2495l6-22M2193 2474l7 22M2484 2500l7-23M2632 2479l7 23M1902 2512l7-25M2196 2488l10 24M2000 2505l8-24M2308 2482l8 23M2110 2505l8-22M2403 2484l6 22M1607 2512l11-25M1705 2488l11 25M2228 2507l8-23M2487 2485l5 23M1638 2514l7-23M1798 2494l6 21M2333 2494l7-25M2552 2472l6 24M1688 2515l5-18M1885 2498l5 19M2422 2494l7-25M2612 2471l7 24M1751 2503l6-26M1977 2479l7 24M2511 2514l7-24M2662 2491l9 24M1822 2507l7-24M2082 2484l9 25M2605 2503l11-21M2686 2482l12 23M1646 2481l5 21M2014 2522l10-2 8 2M2528 2504l9-25M1493 2502l7-26M1719 2478l6 24M2030 2517l10-20M2126 2498l9 21M2644 2506l9-24M1581 2509l7-25M1775 2486l7 25M2057 2514l7-22M2214 2493l7 22M1669 2504l1-2M1832 2502l1 3M2112 2504l0-2M2305 2504l0 1M1753 2526l9-21M1864 2506l8 21M2169 2507l7-26M2395 2482l7 26M1850 2525l10-7 9-2 10 2 10 7M2241 2499l5-19M2494 2481l7 20M1472 2496l2 6M2320 2505l6-25M2610 2481l9 25M1570 2501l6 22M2413 2515l7-20M2729 2496l3 8"/></g><use href="#p2_5" stroke="#86ff00" stroke-dasharray="3.8 30.4 4.6 21.0 4.2 19.2 5.2 11.8 4.4 20.4 2.6 13.6 5.0 26.4" stroke-dashoffset="30" stroke-linecap="butt"/><use href="#p2_5" stroke="#00d6ff" stroke-dasharray="3.2 13.8 4.6 8.4 4.0 25.0 3.0 7.4 3.2 23.0 4.0 10.0 3.6 23.4" stroke-dashoffset="50" stroke-linecap="butt"/><g stroke="#00ffbc"><path id="p2_6" d="M1482 2470l11 19M2085 2499l7-21M2322 2479l7 23M2636 2490l14-24M1768 2494l8-24M2097 2472l7 24M1660 2482l7-23M1976 2460l9 24M1478 2475l7-22M1712 2454l7 23M2321 2494l10-14 10-10M2382 2470l10 10 12 14M2729 2492l3-9M2173 2485l11-29M2445 2457l9 29M1967 2493l8-23M2297 2471l7 23M1834 2498l6-22M2153 2477l9 22M1767 2479l8-26M2044 2454l10 26M1661 2478l9-28M1877 2452l9 27M2482 2494l12-26M2597 2469l13 26M2055 2501l7-22M2381 2481l8 22M1990 2487l6-21M2280 2467l8 21M1942 2485l8-27M2208 2460l10 27M1506 2475l8 23M1812 2478l13-28M1941 2451l12 29M2552 2485l7-23M2307 2486l10-27M2596 2461l8 26M2205 2501l8-21M2537 2482l6 21M1584 2453l9 29M2555 2498l9-25M2377 2490l9-27M2704 2465l8 26M2135 2495l7-24M2401 2473l8 22M1533 2489l9-27M1812 2464l7 26M1678 2471l8 25M2613 2474l9-27M1584 2459l9 26M2516 2495l7-21M1496 2474l8 23M2443 2492l5-19M1832 2475l12-27M1955 2449l12 27M2270 2489l8-23M2482 2467l7 23M1910 2499l7-23M2130 2476l7 24M2430 2496l10-23M2568 2474l10 23M1566 2503l8-22M1900 2483l6 21M1605 2483l9-24M1748 2460l10 25M2058 2478l10-29M2252 2450l10 28M1526 2492l7-22M1725 2471l8 23M2029 2475l11-26M2175 2449l10 26M2023 2485l9-22M2168 2464l9 21M2476 2481l10-29M2672 2454l10 28M1633 2477l7 23M2231 2488l8-21M2379 2468l10 22M2686 2477l9-24M1759 2479l9-29M1935 2452l11 28M2234 2503l8-21M2416 2483l8 22M1554 2463l8 25M2095 2500l7-22M2235 2478l8 23M2530 2490l6-24M2719 2468l6 24M1643 2443l8 27M2186 2491l13-26M2262 2465l14 27M2590 2494l6-23M1490 2478l7-28M1762 2451l11 28M2661 2486l7-26M1585 2493l8-26M1885 2468l8 26M1688 2500l8-21M1981 2479l6 23M1820 2473l9-26M2060 2448l7 27M1918 2482l8-26M2131 2457l7 28M2463 2478l11-16 10-11M2517 2451l10 11 10 17M2012 2473l7-26M2186 2448l7 26M2491 2477l9-26M2624 2453l8 26M1909 2487l7-28M2186 2461l10 27M2008 2481l9-28M2300 2455l8 27M2118 2483l9-23M2397 2461l6 23M1618 2487l16-27M1689 2460l16 28M2236 2484l9-24M2481 2462l6 23M1645 2491l8-24M1790 2468l8 26M2340 2469l7-26M2545 2444l7 28M1693 2497l6-20M1879 2477l6 21M2429 2469l7-28M2604 2442l8 29M1757 2477l7-26M1969 2452l8 27M2518 2490l9-27M2653 2464l9 27M1829 2483l7-29M2073 2456l9 28M2616 2482l9-15 9-10M2667 2458l9 10 10 14M1640 2457l6 24M2537 2479l11-27M1500 2476l8-28M1712 2450l7 28M2040 2497l13-22M2113 2476l13 22M2653 2482l10-29M1588 2484l7-28M1767 2457l8 29M2064 2492l8-25M2206 2468l8 25M1762 2505l10-22M1853 2484l11 22M2176 2481l7-30M2386 2452l9 30M2246 2480l5-22M2487 2460l7 21M2326 2480l8-28M2599 2454l11 27M1564 2478l6 23M2420 2495l7-22M2722 2474l7 22"/></g><use href="#p2_6" stroke="#1bff00" stroke-dasharray="3.2 13.8 4.6 8.4 4.0 25.0 3.0 7.4 3.2 23.0 4.0 10.0 3.6 23.4" stroke-dashoffset="36" stroke-linecap="butt"/><use href="#p2_6" stroke="#006bff" stroke-dasharray="3.6 22.4 5.2 23.8 3.4 10.8 3.4 19.2 4.8 26.2 3.2 30.0 3.8 24.0" stroke-dashoffset="60" stroke-linecap="butt"/><g stroke="#00d6ff"><path id="p2_7" d="M1472 2454l10 16M2092 2478l8-25M2314 2454l8 25M2650 2466l11-16 11-11M2716 2440l16 19M1776 2470l10-26M2088 2445l9 27M1667 2459l8-26M1967 2435l9 25M1485 2453l7-25M1704 2429l8 25M2341 2470l10-6 10-2 11 2 10 6M2184 2456l11-32M2437 2426l8 31M1975 2470l9-26M2288 2445l9 26M1840 2476l8-26M2144 2452l9 25M1775 2453l8-28M2034 2426l10 28M1670 2450l10-31M1868 2422l9 30M2494 2468l18-28M2579 2441l18 28M2062 2479l7-23M2372 2456l9 25M1996 2466l6-23M2272 2444l8 23M1950 2458l9-30M2198 2430l10 30M1497 2451l9 24M1825 2450l16-31M1925 2420l16 31M2559 2462l9-27M2317 2459l11-28M2588 2431l8 30M2213 2480l9-24M2529 2457l8 25M1576 2421l8 32M2564 2473l10-27M2386 2463l10-29M2695 2436l9 29M2142 2471l8-25M2392 2447l9 26M1542 2462l10-28M1804 2435l8 29M1669 2444l9 27M2622 2447l11-29M1574 2432l10 27M2523 2474l6-21M1486 2449l10 25M2448 2473l7-23M1844 2448l16-30M1938 2419l17 30M2278 2466l9-26M2473 2442l9 25M1917 2476l8-26M2121 2451l9 25M2440 2473l13-25M2557 2449l11 25M1574 2481l8-24M1892 2458l8 25M1614 2459l12-26M1735 2434l13 26M2068 2449l10-31M2242 2420l10 30M1533 2470l9-26M1716 2446l9 25M2040 2449l13-29M2163 2421l12 28M2032 2463l10-24M2157 2440l11 24M2486 2452l10-31M2662 2423l10 31M1625 2453l8 24M2239 2467l10-23M2369 2445l10 23M2695 2453l8-24M1768 2450l11-31M1924 2421l11 31M2242 2482l9-24M2407 2459l9 24M1546 2435l8 28M2102 2478l9-25M2227 2455l8 23M2536 2466l8-27M2712 2442l7 26M1633 2414l10 29M2199 2465l8-12 8-8 8-5 7-2 8 2 8 5 7 8 9 12M2596 2471l6-25M1497 2450l9-32M1750 2419l12 32M2668 2460l7-31M1593 2467l9-28M1876 2440l9 28M1696 2479l9-24M1975 2456l6 23M1829 2447l9-29M2053 2419l7 29M1926 2456l8-31M2124 2427l7 30M2484 2451l8-6 9-2 8 2 8 6M2019 2447l8-28M2179 2421l7 27M2500 2451l10-29M2614 2424l10 29M1916 2459l8-31M2174 2430l12 31M2017 2453l10-29M2291 2425l9 30M2127 2460l10-26M2391 2436l6 25M1634 2460l14-16 7-4 7-1 6 1 7 4 14 16M2245 2460l9-29M2474 2432l7 30M1653 2467l10-28M1781 2441l9 27M2347 2443l9-31M2538 2414l7 30M1699 2477l6-24M1873 2455l6 22M2436 2441l9-30M2596 2411l8 31M1764 2451l7-30M1961 2421l8 31M2527 2463l10-30M2642 2434l11 30M1836 2454l7-29M2063 2426l10 30M2634 2457l8-5 9-2 8 2 8 6M1634 2432l6 25M2548 2452l11-29M1508 2448l8-30M1705 2420l7 30M2053 2475l7-10 8-7 8-5 7-1 8 2 7 4 8 7 7 11M2663 2453l10-31M1595 2456l9-30M1759 2427l8 30M2072 2467l9-27M2197 2441l9 27M1772 2483l14-24M1839 2459l14 25M2183 2451l8-33M2378 2420l8 32M2251 2458l5-24M2479 2436l8 24M2334 2452l8-30M2587 2424l12 30M1557 2452l7 26M2427 2473l7-24M2714 2450l8 24"/></g><use href="#p2_7" stroke="#00ff51" stroke-dasharray="3.6 22.4 5.2 23.8 3.4 10.8 3.4 19.2 4.8 26.2 3.2 30.0 3.8 24.0" stroke-dashoffset="42" stroke-linecap="butt"/><use href="#p2_7" stroke="#0100ff" stroke-dasharray="2.8 8.8 3.0 29.0 4.4 28.0 4.2 16.6 3.8 21.4 4.8 17.4 4.8 22.0" stroke-dashoffset="70" stroke-linecap="butt"/><g stroke="#006bff"><path id="p2_8" d="M2100 2453l9-26M2305 2427l9 27M2672 2439l11-8 11-2 11 3 11 8M1786 2444l10-29M2079 2415l9 30M1675 2433l8-28M1956 2406l11 29M1492 2428l8-26M1696 2403l8 26M2195 2424l11-34M2427 2391l10 35M1984 2444l10-27M2280 2417l8 28M1848 2450l7-25M2134 2425l10 27M1783 2425l8-31M2023 2395l11 31M1680 2419l10-32M1857 2388l11 34M2512 2440l8-10 9-7 8-5 8-1 8 2 8 4 9 8 9 10M2069 2456l8-27M2361 2430l11 26M2002 2443l7-25M2263 2419l9 25M1959 2428l9-32M2187 2397l11 33M1488 2423l9 28M1841 2419l15-21 14-13M1897 2385l13 13 15 22M2568 2435l9-29M2328 2431l11-31M2580 2401l8 30M2222 2456l10-26M2522 2432l7 25M1566 2388l10 33M2574 2446l11-31M2396 2434l10-30M2685 2404l10 32M2150 2446l8-28M2383 2419l9 28M1552 2434l11-32M1795 2405l9 30M1660 2414l9 30M2633 2418l11-32M1564 2403l10 29M2529 2453l8-26M1476 2422l10 27M2455 2450l7-25M1860 2418l15-21 8-7 8-4M1906 2386l7 4 8 7 17 22M2287 2440l9-28M2465 2415l8 27M1925 2450l9-27M2112 2423l9 28M2453 2448l16-28M2541 2420l16 29M1582 2457l10-26M1885 2433l7 25M1626 2433l14-29M1720 2405l15 29M2078 2418l12-34M2231 2386l11 34M1542 2444l9-27M1706 2419l10 27M2053 2420l16-31M2147 2389l16 32M2042 2439l11-25M2144 2415l13 25M2496 2421l12-33M2651 2389l11 34M1617 2428l8 25M2249 2444l12-26M2356 2419l13 26M2703 2429l10-28M1779 2419l12-33M1911 2387l13 34M2251 2458l11-26M2398 2433l9 26M1538 2402l8 33M2111 2453l9-25M2217 2428l10 27M2544 2439l7-28M2704 2412l8 30M1624 2382l9 32M2602 2446l7-29M1506 2418l8-33M1738 2386l12 33M2675 2429l8-32M1602 2439l11-31M1866 2409l10 31M1705 2455l10-26M1968 2430l7 26M1838 2418l10-31M2046 2389l7 30M1934 2425l8-31M2116 2396l8 31M2027 2419l8-29M2171 2390l8 31M2510 2422l12-31M2602 2392l12 32M1924 2428l9-32M2161 2398l13 32M2027 2424l11-33M2280 2393l11 32M2137 2434l11-27M2383 2407l8 29M2254 2431l9-30M2467 2402l7 30M1663 2439l11-30M1770 2411l11 30M2356 2412l8-34M2530 2381l8 33M1705 2453l7-23M1867 2431l6 24M2445 2411l9-34M2587 2379l9 32M1771 2421l8-33M1952 2389l9 32M2537 2433l13-32M2629 2401l13 33M1843 2425l7-34M2052 2393l11 33M1627 2404l7 28M2559 2423l12-32M1516 2418l9-33M1697 2387l8 33M2673 2422l11-35M1604 2426l8-33M1750 2395l9 32M2081 2440l11-29M2187 2412l10 29M1786 2459l13-15 6-3 7-1 6 1 7 4 14 14M2191 2418l8-34M2368 2385l10 35M2256 2434l7-26M2471 2410l8 26M2342 2422l8-34M2574 2391l13 33M1549 2423l8 29M2434 2449l9-26M2706 2424l8 26"/></g><use href="#p2_8" stroke="#00ffbc" stroke-dasharray="2.8 8.8 3.0 29.0 4.4 28.0 4.2 16.6 3.8 21.4 4.8 17.4 4.8 22.0" stroke-dashoffset="48" stroke-linecap="butt"/><use href="#p2_8" stroke="#6c00ff" stroke-dasharray="4.8 19.0 4.4 14.8 3.8 11.6 2.6 7.0 4.4 17.8 5.0 27.8 3.4 31.4" stroke-dashoffset="80" stroke-linecap="butt"/><g stroke="#0100ff"><path id="p2_9" d="M2109 2427l9-30M2297 2399l8 28M1796 2415l12-32M2070 2385l9 30M1683 2405l9-31M1945 2376l11 30M1500 2402l9-31M1687 2374l9 29M2206 2390l12-36M2417 2355l10 36M1994 2417l11-31M2270 2387l10 30M1855 2425l9-30M2123 2396l11 29M1791 2394l9-32M2012 2363l11 32M1690 2387l11-36M1846 2352l11 36M2077 2429l8-29M2351 2402l10 28M2009 2418l8-29M2252 2391l11 28M1968 2396l9-36M2176 2363l11 34M1478 2393l10 30M1870 2385l7-3 7-1 6 1 7 3M2577 2406l10-30M2729 2377l3 8M2339 2400l11-34M2571 2369l9 32M2232 2430l10-28M2514 2404l8 28M1557 2351l9 37M2585 2415l11-31M2406 2404l12-34M2674 2371l11 33M2158 2418l8-30M2374 2389l9 30M1563 2402l11-33M1786 2371l9 34M1650 2383l10 31M2644 2386l12-34M1552 2371l12 32M2537 2427l8-25M1472 2412l4 10M2462 2425l8-26M2724 2400l8 21M1891 2386l7-1 8 1M2296 2412l10-29M2455 2384l10 31M1934 2423l10-30M2102 2394l10 29M2469 2420l10-12 9-9 9-5 8-2 9 2 9 5 9 9 9 12M1592 2431l10-28M1876 2404l9 29M1640 2404l13-19 12-12M1694 2373l12 12 14 20M2090 2384l13-36M2218 2350l13 36M1551 2417l10-29M1696 2389l10 30M2069 2389l16-23 7-7 8-4M2117 2355l7 4 8 7 15 23M2053 2414l17-27M2126 2387l18 28M2508 2388l13-36M2638 2353l13 36M1607 2399l10 29M2261 2418l16-28M2340 2391l16 28M2713 2401l10-30M1791 2386l16-36M1895 2351l16 36M2262 2432l11-27M2387 2405l11 28M1532 2383l6 19M2120 2428l7-18M2210 2412l7 16M2551 2411l6-19M2699 2394l5 18M1618 2363l6 19M2609 2417l4-16M1514 2385l10-37M1724 2349l14 37M2683 2397l8-36M1613 2408l11-32M1855 2377l11 32M1715 2429l11-29M1961 2402l7 28M1848 2387l10-35M2038 2354l8 35M1942 2394l10-36M2108 2360l8 36M2035 2390l9-33M2162 2358l9 32M2522 2391l17-33M2586 2359l16 33M1933 2396l9-35M2148 2363l13 35M2038 2391l12-34M2268 2358l12 35M2148 2407l11-30M2375 2377l8 30M2263 2401l6-19M2462 2384l5 18M1674 2409l13-31M1757 2378l13 33M2364 2378l9-34M2522 2345l8 36M1712 2430l7-27M1859 2404l8 27M2454 2377l9-35M2577 2342l10 37M1779 2388l8-36M1943 2353l9 36M2550 2401l10-21 9-14M2609 2366l10 15 10 20M1850 2391l9-36M2041 2356l11 37M1623 2387l4 17M2571 2391l8-20M1525 2385l9-36M1689 2351l8 36M2684 2387l10-35M1612 2393l10-36M1740 2359l10 36M2092 2411l14-31M2174 2380l13 32M2199 2384l5-22M2363 2363l5 22M2263 2408l3-15M2466 2395l5 15M2350 2388l10-35M2561 2355l13 36M1542 2393l7 30M2443 2423l9-29M2697 2395l9 29"/></g><use href="#p2_9" stroke="#00d6ff" stroke-dasharray="4.8 19.0 4.4 14.8 3.8 11.6 2.6 7.0 4.4 17.8 5.0 27.8 3.4 31.4" stroke-dashoffset="54" stroke-linecap="butt"/><use href="#p2_9" stroke="#f0f" stroke-dasharray="4.0 26.0 3.6 11.2 2.8 10.8 4.0 9.0 2.4 27.6 2.6 17.8 3.8 22.2" stroke-dashoffset="90" stroke-linecap="butt"/><g stroke="#6c00ff"><path id="p2_10" d="M2118 2397l9-31M2287 2367l10 32M1808 2383l11-33M2060 2351l10 34M1692 2374l9-31M1934 2344l11 32M1509 2371l9-30M1677 2342l10 32M2218 2354l12-40M2407 2315l10 40M2005 2386l11-31M2260 2355l10 32M1864 2395l8-31M2111 2365l12 31M1800 2362l9-37M2001 2328l11 35M1701 2351l13-38M1833 2314l13 38M2085 2400l9-30M2340 2371l11 31M2017 2389l8-28M2242 2362l10 29M1977 2360l10-36M2165 2326l11 37M1472 2375l6 18M2587 2376l10-29M2719 2347l10 30M2350 2366l12-35M2561 2332l10 37M2242 2402l10-28M2505 2375l9 29M1547 2313l10 38M2596 2384l11-34M2418 2370l13-36M2663 2335l11 36M2166 2388l9-32M2364 2357l10 32M1574 2369l12-35M1777 2336l9 35M1640 2348l10 35M2656 2352l14-38M1540 2337l12 34M2545 2402l9-27M2470 2399l7-29M2714 2372l10 28M2306 2383l10-29M2445 2355l10 29M1944 2393l10-32M2092 2362l10 32M1602 2403l11-30M1867 2375l9 29M1665 2373l7-4 7-1 8 1 7 4M2103 2348l16-38M2203 2310l15 40M1561 2388l12-32M1684 2357l12 32M2100 2355l9-2 8 2M2070 2387l14-14 8-4 6-1 7 1 7 4 14 14M2521 2352l15-39M2624 2315l14 38M1597 2368l10 31M2277 2390l8-9 8-7 8-5 7-1 8 2 7 4 8 7 9 10M2723 2371l9-24M1807 2350l11-23 11-16M1872 2311l11 16 12 24M2273 2405l15-30M2373 2376l14 29M1524 2348l10-38M1709 2310l15 39M2691 2361l8-37M1624 2376l12-36M1842 2341l13 36M1726 2400l12-30M1953 2372l8 30M1858 2352l10-35M2030 2317l8 37M1952 2358l9-36M2099 2322l9 38M2044 2357l9-34M2152 2323l10 35M2539 2358l12-15 6-3 5-1 6 1 6 4 12 15M1942 2361l10-37M2134 2326l14 37M2050 2357l14-37M2255 2320l13 38M2159 2377l12-33M2367 2345l8 32M1687 2378l11-21 10-13M1736 2344l10 13 11 21M2373 2344l10-38M2513 2307l9 38M1719 2403l8-28M1851 2376l8 28M2463 2342l12-39M2566 2304l11 38M1787 2352l9-37M1934 2317l9 36M2569 2366l10-10 10-3 10 3 10 10M1859 2355l8-38M2030 2319l11 37M1534 2349l10-38M1680 2313l9 38M2694 2352l12-40M1622 2357l11-37M1729 2321l11 38M2106 2380l11-21 11-13M2152 2346l11 13 11 21M2360 2353l9-36M2548 2320l13 35M1533 2360l9 33M2452 2394l11-30M2686 2365l11 30"/></g><g stroke="#f0f"><path id="p2_11" d="M2127 2366l30-91 19-52 9-17 8-12 7-7 8-2 7 2 8 8 8 12 8 18 20 52 28 90M1819 2350l59-163 31-78 11-25 10-15 8-10 8-3 8 3 8 11 10 18 11 27 29 83 48 153M1701 2343l47-160 27-82 11-27 8-17 8-10 7-3 7 2 7 9 18 37 93 252M1518 2341l29-102 19-55 8-20 8-13 7-7 7-3 7 3 7 7 7 13 9 18 19 55 32 105M2230 2314l72-252 12-30 4-6 4-3 5 4 5 8 13 37 62 243M2016 2355l56-157 33-82 11-26 10-17 9-9 9-3 8 3 9 10 10 19 11 26 30 84 48 152M1872 2364l82-290 16-44 6-10 6-4 4 2 5 7 13 29 65 192 42 119M1809 2325l73-293 11-34 3-7 3-3 3 2 3 5 7 21 52 188 37 124M1714 2313l18-54 15-34 13-19 7-5 6-1 6 1 7 5 13 20 16 35 18 53M2094 2370l56-199 25-82 18-46 7-10 7-4 5 2 6 8 16 34 106 298M2025 2361l91-367 7-24 3-5 6 14 35 133 27 96 48 154M1987 2324l44-171 17-61 13-37 6-8 5-3 5 3 5 7 13 34 70 238M2362 2331l39-126 60-219 4-14 3-3 4 6 7 27 82 330M2252 2374l102-279 10-23 9-15 7-9 7-3 8 3 8 11 9 19 11 29 28 86 54 182M1472 2014l75 299M2607 2350l40-130 53-193 10-31 4-9 3 0 2 1 5 12 8 27M2431 2334l49-138 32-79 11-23 10-17 9-10 8-3 9 3 9 10 10 17 11 26 30 79 44 136M2175 2356l45-173 18-62 15-39 7-9 6-3 5 2 6 8 15 36 72 241M1586 2334l30-102 52-185 10-27 4-7 4-2 4 3 5 8 12 38 70 276M1472 2154l23-57 17-30 7-7 7-4 6 2 7 5 7 11 8 16 20 49 25 78 41 131M2670 2314l62-169M1472 2150l68 187M2554 2375l45-146 27-82 20-53 9-16 7-12 7-7 7-1 7 3 7 8 18 30 24 60M2477 2370l87-326 14-41 4-8 4-3 3 2 3 5 8 21 63 203 51 149M1954 2361l22-62 18-40 7-13 8-9 7-6 7-1 7 1 7 6 7 9 8 14 18 39 22 63M1613 2373l71-196 28-73 11-24 9-17 9-9 7-3 8 4 9 11 9 19 11 28 29 87 53 175M2119 2310l11-24 11-17 10-9 10-3 9 3 10 9 11 17 12 24M1573 2356l15-37 14-26 14-15 6-3 6-2 6 2 6 3 13 15 14 26 17 38M2536 2313l12-25 11-18 11-10 10-3 10 3 10 11 11 17 13 27M1472 2356l18-46 16-31 14-17 7-4 7-1 6 2 7 5 15 20 15 33 20 51M1829 2311l11-10 10-3 11 3 11 10M2288 2375l11-21 11-14 11-8 10-2 10 2 10 9 11 14 11 21M1534 2310l29-105 20-62 8-20 8-14 8-8 7-3 7 3 7 7 16 30 20 48 45 124M2699 2324l33-152M1636 2340l32-78 14-30 12-24 12-18 12-13 11-7 11-3 11 3 11 8 11 12 12 18 26 54 31 79M1738 2370l63-170 21-52 10-21 9-14 8-9 7-2 8 3 9 10 9 17 10 26 24 77 37 137M1868 2317l37-146 48-213 77 359M1961 2322l33-133 14-55 13-33 5-8 6-2 5 3 5 7 13 35 15 61 29 125M2053 2323l15-47 13-32 11-18 6-4 5-1 5 1 5 5 12 18 12 31 15 47M1952 2324l30-114 21-66 8-22 8-14 8-9 7-3 6 3 7 7 8 13 9 18 19 48 51 141M2064 2320l30-75 25-51 11-17 11-11 10-7 10-2 10 2 10 7 10 12 11 17 24 50 29 75M2171 2344l59-166 18-46 9-19 8-14 7-7 7-3 7 3 8 10 8 16 9 24 22 72 34 131M1708 2344l7-5 7-2 7 2 7 5M2383 2306l28-115 15-53 12-31 6-7 5-2 5 3 5 7 13 32 15 57 26 110M1727 2375l20-67 16-42 13-24 7-6 6-2 6 2 7 6 13 24 16 43 20 67M2475 2303l13-42 12-27 10-16 5-4 5-1 5 1 5 4 11 16 12 29 13 41M1796 2315l29-125 15-59 13-35 5-8 6-2 5 3 5 8 12 33 15 54 33 133M1867 2317l65-302 7-30 5-8 3 4 5 16 44 190 34 132M1544 2311l33-134 14-53 12-32 5-8 5-2 6 3 5 9 12 35 15 60 29 124M2706 2312l26-100M1633 2320l14-43 13-29 11-17 5-4 5-1 5 1 6 4 11 17 12 30 14 43M2128 2346l6-4 6-1 6 1 6 4M1472 2141l23 75 38 144M2463 2364l35-96 16-36 14-28 12-21 13-15 11-9 11-2 11 3 12 9 12 15 12 21 14 29 15 35 35 96"/></g><path stroke="#00ff51" d="M1670 2502l26-85 20-54 9-18 9-12 8-8 8-2 8 2 8 7 8 12 10 18 20 51 28 89M2112 2502l42-146 20-64 10-24 9-16 8-10 8-3 8 3 8 10 9 17 10 24 21 68 40 143"/><path stroke="#0100ff" d="M1472 2138l60 245M2127 2410l11-23 10-16 10-10 10-3 10 4 10 10 10 16 12 24M2557 2392l25-90 17-53 8-19 7-12 7-7 6-2 7 2 7 8 7 12 8 18 17 53 26 92M1472 2190l42-205 5-19 2-3 55 239 21 83 21 78M2613 2401l54-233 12-44 10-25 5-8 4-2 5 1 5 6 10 24 14 49M2269 2382l23-84 24-93 56-248 59 281 31 146M1472 2218l54-234 3-13 3-3 9 33 51 245 31 141M2579 2371l77-212 15-34 11-20 6-7 6-4 6 1 6 4 6 8 6 12 14 37M2204 2362l38-166 15-64 13-38 6-9 5-3 6 3 5 8 13 38 58 232M2266 2393l29-132 64-301 3 9 31 142 25 108 24 92 24 84"/><path stroke="#6c00ff" d="M2597 2347l19-49 15-31 14-19 7-4 6-2 7 2 6 4 14 19 15 32 19 48M2316 2354l20-55 16-34 15-21 7-5 7-1 6 2 7 5 15 20 16 35 20 55M2369 2317l29-108 21-65 9-22 7-14 8-9 7-2 6 2 7 7 8 13 9 18 19 48 49 135"/><path stroke="#000" d="M1519 2549h0M1519 2550h0M1520 2551h0M2067 2555h0M2067 2554h0M2354 2572h0M2354 2573h0M2597 2571h0M2597 2570h0M1743 2563h0M1744 2561h0M1746 2555h0M2129 2573h0M2129 2574h0M1636 2560h0M1636 2558h0M1997 2518h0M2009 2550h0M2010 2551h0M1728 2503h0M1743 2548h0M1744 2549h0M2292 2548h0M2292 2547h0M2293 2546h0M2447 2571h0M2447 2572h0M2701 2575h0M2702 2574h0M1532 2572h0M1532 2572h0M1546 2556h0M1602 2550h0M1620 2571h0M1621 2572h0M2137 2579h0M2137 2578h0M2476 2558h0M2476 2559h0M1940 2570h0M1941 2568h0M2313 2524h0M2327 2567h0M2328 2569h0M1811 2572h0M1812 2571h0M2182 2551h0M2182 2552h0M1742 2563h0M1742 2562h0M2080 2547h0M2081 2550h0M2081 2551h0M1629 2571h0M1630 2569h0M1908 2547h0M1909 2548h0M2457 2556h0M2457 2555h0M2648 2577h0M2649 2578h0M2032 2575h0M2033 2573h0M2406 2548h0M2406 2549h0M1969 2557h0M1969 2556h0M2315 2555h0M2315 2556h0M1517 2567h0M1517 2567h0M1622 2577h0M1622 2578h0M1914 2575h0M1915 2574h0M2246 2563h0M2246 2564h0M1540 2571h0M1541 2572h0M1778 2556h0M1779 2555h0M1987 2572h0M1987 2573h0M2526 2563h0M2526 2562h0M2274 2571h0M2274 2570h0M2628 2566h0M2628 2568h0M2179 2571h0M2180 2570h0M2561 2559h0M2561 2560h0M1620 2572h0M1621 2574h0M2522 2579h0M2523 2578h0M1472 2541h0M1472 2543h0M1475 2551h0M1476 2552h0M2347 2577h0M2347 2575h0M2367 2519h0M2732 2551h0M2732 2552h0M1713 2556h0M1714 2555h0M1825 2569h0M1826 2570h0M2115 2560h0M2115 2559h0M2437 2570h0M2437 2571h0M1500 2575h0M1500 2573h0M1504 2565h0M1839 2555h0M1840 2559h0M1841 2560h0M2170 2563h0M2170 2562h0M2175 2558h0M2228 2560h0M2228 2561h0M1711 2576h0M1711 2577h0M2581 2562h0M2582 2561h0M2582 2560h0M2600 2509h0M1604 2515h0M1621 2564h0M1622 2565h0M2495 2561h0M2496 2559h0M1520 2536h0M1533 2569h0M1533 2570h0M2422 2560h0M2423 2559h0M2425 2550h0M1801 2555h0M1802 2554h0M2005 2563h0M2006 2564h0M2248 2553h0M2248 2552h0M2513 2564h0M2514 2565h0M1893 2549h0M1893 2548h0M2164 2573h0M2165 2574h0M2397 2571h0M2397 2570h0M2596 2542h0M2600 2554h0M2600 2556h0M1546 2557h0M1546 2556h0M1924 2561h0M1928 2573h0M1929 2574h0M1579 2554h0M1579 2553h0M1790 2562h0M1791 2563h0M2025 2569h0M2025 2568h0M2025 2567h0M2292 2570h0M2292 2571h0M1506 2553h0M1506 2552h0M1507 2550h0M1760 2567h0M1761 2568h0M1996 2556h0M1996 2555h0M2215 2560h0M2215 2562h0M1997 2555h0M1998 2553h0M2204 2548h0M2204 2549h0M2450 2551h0M2451 2550h0M2711 2572h0M2712 2573h0M1663 2569h0M1664 2570h0M2206 2558h0M2206 2557h0M2207 2554h0M2216 2530h0M2417 2558h0M2417 2559h0M2659 2552h0M2660 2551h0M1728 2572h0M1728 2570h0M1981 2572h0M1981 2573h0M2205 2574h0M2206 2573h0M2441 2556h0M2442 2560h0M2443 2561h0M1588 2572h0M1588 2573h0M2077 2560h0M2078 2559h0M2078 2557h0M2262 2559h0M2266 2571h0M2266 2572h0M2507 2569h0M2508 2568h0M2508 2565h0M2732 2514h0M2732 2515h0M1681 2553h0M1682 2555h0M2153 2578h0M2153 2577h0M2304 2559h0M2305 2561h0M2570 2571h0M2570 2569h0M2576 2547h0M1472 2545h0M1472 2543h0M1800 2547h0M1808 2570h0M1809 2571h0M2244 2560h0M2245 2559h0M2333 2575h0M2333 2576h0M2638 2578h0M2638 2576h0M1563 2560h0M1564 2558h0M1915 2563h0M1919 2575h0M1920 2577h0M2309 2573h0M2310 2573h0M2349 2554h0M2350 2554h0M2726 2562h0M2727 2561h0M2732 2543h0M2732 2541h0M1661 2572h0M1661 2570h0M2000 2550h0M2001 2552h0M1790 2559h0M1790 2558h0M2086 2550h0M2086 2552h0M2399 2569h0M2399 2568h0M2479 2552h0M2480 2552h0M1891 2572h0M1892 2571h0M1897 2554h0M1907 2521h0M2155 2548h0M2155 2550h0M2430 2553h0M2430 2552h0M2432 2547h0M2573 2567h0M2573 2568h0M1484 2549h0M1485 2550h0M1991 2549h0M1992 2548h0M2216 2555h0M2217 2556h0M2467 2552h0M2467 2550h0M2656 2562h0M2657 2563h0M1472 2579h0M1472 2578h0M1514 2559h0M1514 2559h0M1892 2551h0M1892 2549h0M2221 2552h0M2231 2576h0M2231 2577h0M2666 2556h0M2666 2556h0M2724 2524h0M2732 2531h0M2732 2531h0M1532 2566h0M1532 2566h0M1541 2561h0M1543 2560h0M1568 2564h0M1568 2564h0M1983 2559h0M1983 2558h0M1991 2532h0M2336 2568h0M2336 2570h0M1557 2574h0M1557 2574h0M1611 2525h0M1630 2538h0M1649 2565h0M1649 2566h0M2088 2560h0M2089 2559h0M2422 2553h0M2422 2554h0M1589 2556h0M1589 2555h0M1739 2577h0M1739 2579h0M2212 2553h0M2212 2552h0M2507 2565h0M2508 2567h0M1618 2574h0M1619 2573h0M1818 2562h0M1818 2563h0M2314 2557h0M2315 2556h0M2567 2529h0M2575 2559h0M2576 2561h0M1674 2562h0M1674 2561h0M1903 2562h0M1903 2563h0M2403 2561h0M2403 2560h0M2629 2532h0M2637 2557h0M2637 2559h0M1733 2569h0M1733 2567h0M1994 2534h0M2004 2567h0M2004 2569h0M2492 2575h0M2493 2573h0M2692 2578h0M2692 2579h0M1472 2533h0M1472 2534h0M1473 2534h0M1476 2537h0M1500 2575h0M1500 2576h0M1805 2575h0M1805 2573h0M1814 2540h0M2115 2573h0M2116 2574h0M2583 2558h0M2583 2557h0M2597 2521h0M2708 2528h0M2722 2562h0M2722 2563h0M1664 2555h0M1665 2556h0M1980 2562h0M1980 2561h0M2063 2555h0M2072 2574h0M2073 2575h0M2503 2568h0M2503 2567h0M1472 2569h0M1472 2567h0M1739 2555h0M1740 2556h0M1740 2558h0M2017 2549h0M2017 2548h0M2154 2569h0M2154 2570h0M2619 2575h0M2620 2573h0M1562 2576h0M1563 2574h0M1570 2547h0M1794 2554h0M1795 2556h0M2038 2573h0M2038 2571h0M2050 2534h0M2233 2557h0M2233 2558h0M2724 2575h0M2725 2574h0M2732 2552h0M2732 2550h0M1655 2554h0M1655 2552h0M1854 2569h0M1854 2570h0M2094 2565h0M2095 2564h0M2309 2521h0M2322 2568h0M2323 2570h0M1741 2560h0M1742 2559h0M1874 2532h0M1887 2564h0M1892 2578h0M1892 2579h0M2156 2556h0M2156 2555h0M2423 2576h0M2424 2578h0M1817 2576h0M1818 2575h0M1923 2578h0M1924 2579h0M2228 2550h0M2228 2549h0M2518 2550h0M2518 2551h0M1490 2554h0M1491 2555h0M2302 2571h0M2302 2570h0M2639 2557h0M2640 2558h0M1591 2577h0M1591 2579h0M1941 2580h0M1941 2579h0M1996 2573h0M1996 2573h0M2396 2567h0M2397 2566h0M2409 2529h0"/></g>
</g></svg>
<g style="mix-blend-mode:multiply" transform="translate(1056.53,1171.25) scale(0.9671,1)" font-family="'Liberation Serif', 'Times New Roman', serif" font-weight="bold" font-size="127.27" text-anchor="middle">
<text x="1.3" y="1.3" fill="#b4b4b4">IGN</text>
<text x="-0.9" y="-0.9" fill="#f6f6f6">IGN</text>
<text x="0" y="0" fill="#d6d6d6">IGN</text>
</g>
<rect x="736" y="1238.90" width="630" height="1.2" fill="#000"/><rect x="736" y="1186.40" width="630" height="1.2" fill="#000"/><rect x="736" y="1133.90" width="630" height="1.2" fill="#000"/><rect x="736" y="1081.40" width="630" height="1.2" fill="#000"/><rect x="736" y="1028.90" width="630" height="1.2" fill="#000"/>
<rect x="761.50" y="1288.50" width="1.5" height="1.5" fill="#000"/><rect x="761.50" y="979.00" width="1.5" height="1.5" fill="#000"/><rect x="787.75" y="1288.50" width="1.5" height="1.5" fill="#000"/><rect x="787.75" y="979.00" width="1.5" height="1.5" fill="#000"/><rect x="813.75" y="1286.50" width="2" height="3.5" fill="#000"/><rect x="813.75" y="979.00" width="2" height="3.5" fill="#000"/><rect x="840.25" y="1288.50" width="1.5" height="1.5" fill="#000"/><rect x="840.25" y="979.00" width="1.5" height="1.5" fill="#000"/><rect x="866.50" y="1288.50" width="1.5" height="1.5" fill="#000"/><rect x="866.50" y="979.00" width="1.5" height="1.5" fill="#000"/><rect x="892.50" y="1286.50" width="2" height="3.5" fill="#000"/><rect x="892.50" y="979.00" width="2" height="3.5" fill="#000"/><rect x="919.00" y="1288.50" width="1.5" height="1.5" fill="#000"/><rect x="919.00" y="979.00" width="1.5" height="1.5" fill="#000"/><rect x="945.25" y="1288.50" width="1.5" height="1.5" fill="#000"/><rect x="945.25" y="979.00" width="1.5" height="1.5" fill="#000"/><rect x="971.25" y="1286.50" width="2" height="3.5" fill="#000"/><rect x="971.25" y="979.00" width="2" height="3.5" fill="#000"/><rect x="997.75" y="1288.50" width="1.5" height="1.5" fill="#000"/><rect x="997.75" y="979.00" width="1.5" height="1.5" fill="#000"/><rect x="1024.00" y="1288.50" width="1.5" height="1.5" fill="#000"/><rect x="1024.00" y="979.00" width="1.5" height="1.5" fill="#000"/><rect x="1050.00" y="1286.50" width="2" height="3.5" fill="#000"/><rect x="1050.00" y="979.00" width="2" height="3.5" fill="#000"/><rect x="1076.50" y="1288.50" width="1.5" height="1.5" fill="#000"/><rect x="1076.50" y="979.00" width="1.5" height="1.5" fill="#000"/><rect x="1102.75" y="1288.50" width="1.5" height="1.5" fill="#000"/><rect x="1102.75" y="979.00" width="1.5" height="1.5" fill="#000"/><rect x="1128.75" y="1286.50" width="2" height="3.5" fill="#000"/><rect x="1128.75" y="979.00" width="2" height="3.5" fill="#000"/><rect x="1155.25" y="1288.50" width="1.5" height="1.5" fill="#000"/><rect x="1155.25" y="979.00" width="1.5" height="1.5" fill="#000"/><rect x="1181.50" y="1288.50" width="1.5" height="1.5" fill="#000"/><rect x="1181.50" y="979.00" width="1.5" height="1.5" fill="#000"/><rect x="1207.50" y="1286.50" width="2" height="3.5" fill="#000"/><rect x="1207.50" y="979.00" width="2" height="3.5" fill="#000"/><rect x="1234.00" y="1288.50" width="1.5" height="1.5" fill="#000"/><rect x="1234.00" y="979.00" width="1.5" height="1.5" fill="#000"/><rect x="1260.25" y="1288.50" width="1.5" height="1.5" fill="#000"/><rect x="1260.25" y="979.00" width="1.5" height="1.5" fill="#000"/><rect x="1286.25" y="1286.50" width="2" height="3.5" fill="#000"/><rect x="1286.25" y="979.00" width="2" height="3.5" fill="#000"/><rect x="1312.75" y="1288.50" width="1.5" height="1.5" fill="#000"/><rect x="1312.75" y="979.00" width="1.5" height="1.5" fill="#000"/><rect x="1339.00" y="1288.50" width="1.5" height="1.5" fill="#000"/><rect x="1339.00" y="979.00" width="1.5" height="1.5" fill="#000"/><rect x="738.00" y="1273.50" width="1.5" height="2" fill="#000"/><rect x="1362.50" y="1273.50" width="1.5" height="2" fill="#000"/><rect x="738.00" y="1256.00" width="1.5" height="2" fill="#000"/><rect x="1362.50" y="1256.00" width="1.5" height="2" fill="#000"/><rect x="738.00" y="1238.50" width="4" height="2" fill="#000"/><rect x="1360.00" y="1238.50" width="4" height="2" fill="#000"/><rect x="738.00" y="1221.00" width="1.5" height="2" fill="#000"/><rect x="1362.50" y="1221.00" width="1.5" height="2" fill="#000"/><rect x="738.00" y="1203.50" width="1.5" height="2" fill="#000"/><rect x="1362.50" y="1203.50" width="1.5" height="2" fill="#000"/><rect x="738.00" y="1186.00" width="4" height="2" fill="#000"/><rect x="1360.00" y="1186.00" width="4" height="2" fill="#000"/><rect x="738.00" y="1168.50" width="1.5" height="2" fill="#000"/><rect x="1362.50" y="1168.50" width="1.5" height="2" fill="#000"/><rect x="738.00" y="1151.00" width="1.5" height="2" fill="#000"/><rect x="1362.50" y="1151.00" width="1.5" height="2" fill="#000"/><rect x="738.00" y="1133.50" width="4" height="2" fill="#000"/><rect x="1360.00" y="1133.50" width="4" height="2" fill="#000"/><rect x="738.00" y="1116.00" width="1.5" height="2" fill="#000"/><rect x="1362.50" y="1116.00" width="1.5" height="2" fill="#000"/><rect x="738.00" y="1098.50" width="1.5" height="2" fill="#000"/><rect x="1362.50" y="1098.50" width="1.5" height="2" fill="#000"/><rect x="738.00" y="1081.00" width="4" height="2" fill="#000"/><rect x="1360.00" y="1081.00" width="4" height="2" fill="#000"/><rect x="738.00" y="1063.50" width="1.5" height="2" fill="#000"/><rect x="1362.50" y="1063.50" width="1.5" height="2" fill="#000"/><rect x="738.00" y="1046.00" width="1.5" height="2" fill="#000"/><rect x="1362.50" y="1046.00" width="1.5" height="2" fill="#000"/><rect x="738.00" y="1028.50" width="4" height="2" fill="#000"/><rect x="1360.00" y="1028.50" width="4" height="2" fill="#000"/><rect x="738.00" y="1011.00" width="1.5" height="2" fill="#000"/><rect x="1362.50" y="1011.00" width="1.5" height="2" fill="#000"/><rect x="738.00" y="993.50" width="1.5" height="2" fill="#000"/><rect x="1362.50" y="993.50" width="1.5" height="2" fill="#000"/>
<rect x="736" y="977" width="630" height="315" fill="none" stroke="#000" stroke-width="4"/>
<text x="736.0" y="1315.8" font-size="22" text-anchor="middle">0</text><text x="814.8" y="1315.8" font-size="22" text-anchor="middle">3</text><text x="893.5" y="1315.8" font-size="22" text-anchor="middle">6</text><text x="972.2" y="1315.8" font-size="22" text-anchor="middle">9</text><text x="1051.0" y="1315.8" font-size="22" text-anchor="middle">12</text><text x="1129.8" y="1315.8" font-size="22" text-anchor="middle">15</text><text x="1208.5" y="1315.8" font-size="22" text-anchor="middle">18</text><text x="1287.2" y="1315.8" font-size="22" text-anchor="middle">21</text><text x="1366.0" y="1315.8" font-size="22" text-anchor="middle">24</text>
<text x="1375" y="1299.6" font-size="22">0</text><text x="1375" y="1247.1" font-size="22">15</text><text x="1375" y="1194.6" font-size="22">30</text><text x="1375" y="1142.1" font-size="22">45</text><text x="1375" y="1089.6" font-size="22">60</text><text x="1375" y="1037.1" font-size="22">75</text><text x="1375" y="984.6" font-size="22">90</text>
<text x="0" y="0" font-size="22" text-anchor="middle" transform="translate(1428,1134.4) rotate(-90)">Elevación (grados)</text>
<text x="975.70" y="1344.7" font-size="22" textLength="149.50" lengthAdjust="spacingAndGlyphs">Tiempo (horas)</text>
<svg x="67" y="977" width="630" height="315" overflow="hidden"><g transform="translate(-67,-977)">
<g transform="scale(0.5)" fill="none" stroke-width="4.7" stroke-linejoin="round" stroke-linecap="square"><g stroke="#ff3600"><path id="p3_0" d="M248 2544l-3 7M827 2565l-2 8M517 2571l-7-11M634 2565l2 9M880 2560l1-10M327 2540l2 9M1055 2563l-6 9M727 2575l-3-11M360 2572l-11-9M235 2563l-9 9M1122 2579l4-11M956 2570l3-10M627 2561l1 8M855 2572l1-10M800 2563l-1-11M694 2571l-4-12M1000 2568l-6 10M865 2575l1-10M812 2557l0-10M437 2548l3 8M1299 2567h0M1149 2567l-10 11M774 2575l-2-11M862 2563l-3 9M252 2563l-1 10M1236 2563l1-10M1084 2571l5-11M718 2561l0 7M980 2571l4-9M727 2564l-1 10M1094 2579l5-10M616 2543l2 9M945 2577l4-12M1128 2560l-9 10M369 2562l4 9M1115 2575l5-11M331 2563l-21-10M257 2553l-15 8M635 2568l1 9M966 2562l4-11M562 2555l4 10M897 2561l1-10M486 2561l4 9M840 2560l1-10M1276 2555l-1-2M976 2554l-5 10M292 2556l1 9M853 2565l-3 9M554 2571l-5-10M641 2566l2 8M1272 2554l0-1M961 2553l-5 10M659 2569l-3-9M287 2561l0 10M884 2559l-4 9M582 2556l-2-5M260 2551l-1 11M1272 2555l-2-10M965 2546l-2 3M287 2563l1 10M287 2562l0 8M1272 2558l-1-9M962 2550l-4 9M653 2552l-4-10M1254 2572l0-11M900 2563l-5 10M610 2574l-5-9M305 2564l3 9M993 2563l-4 9M647 2569l-3-10M360 2545l5 10M1347 2578l-3-10M708 2571l-1-10M496 2561l6 10M1212 2565l-9 11M785 2578l-1-11M601 2567l4 10M154 2573l-14-9M849 2562l2-11M1020 2572l5-10M1154 2559l6-10M748 2550l0 2M326 2569l-10-10M1231 2572l4-11M190 2558l-3 10M244 2541l1 9M1285 2549l0-3M899 2547l-2 9M212 2554l-1 9M153 2579l-16-11M493 2567l6 10M1360 2556l-9-10M211 2566l-16-6-17-2-15 1-17 5M603 2560l3 10M329 2574l-10-10M167 2565l-1 1M1038 2560l6-10M676 2551l0 3M187 2568l-4 11M753 2557l0 10M559 2574l-4-10M1237 2557l2-7M823 2552l-1 9M630 2562l-3-8M244 2556l1 7M1277 2561l1-10M888 2551l-2 8M716 2569l-1-11M300 2559l3 10M1314 2575l-1-7M981 2569l-4 10M1209 2567l-8 9M784 2575l0-12M383 2565l5 9M1342 2558l-2-6M1100 2554l-5 9M748 2548l0 8M163 2566l-7 9M1034 2568l6-11M1227 2569l3-11M189 2561l-4 9M1141 2575l6-12M1282 2576l1-11M553 2573l-5-11M1230 2575l3-11M968 2561l-3 9M622 2565l-2-7M238 2560l1 10M1081 2571l-5 8M294 2567l3 11M1371 2576l-4-7M1193 2570l-7 9M776 2550l0-10M359 2543l5 8M591 2547l4 8M848 2571l2-11M680 2569l1 10M225 2580l-16-10M1394 2570l-6 3M931 2567l3-9M539 2551h0"/></g><use href="#p3_0" stroke="#f1ff00" stroke-dasharray="4.4 30.8 3.2 22.8 4.4 13.6 2.4 31.4 3.2 14.2 4.8 21.2 3.8 26.2" stroke-dashoffset="0" stroke-linecap="butt"/><use href="#p3_0" stroke="#f00" stroke-dasharray="2.4 24.4 3.4 8.4 4.2 30.2 3.0 22.4 3.2 25.2 4.4 11.6 4.8 23.0" stroke-dashoffset="6" stroke-linecap="butt"/><use href="#p3_0" stroke="#1bff00" stroke-dasharray="4.4 27.4 3.6 25.8 4.8 8.6 4.8 16.2 3.8 9.8 4.4 13.6 4.8 13.2" stroke-dashoffset="10" stroke-linecap="butt"/><g stroke="#ffa100"><path id="p3_1" d="M251 2534l-3 10M1216 2555l0-1M830 2555l-3 10M510 2560l-6-10M966 2563l4-10M633 2555l1 10M881 2550l1-11M535 2541l4 10M324 2530l3 10M1062 2553l-7 10M724 2564l-3-10M349 2563l-15-10M247 2554l-12 9M1126 2568l5-12M746 2558l0 1M959 2560l3-10M625 2551l2 10M856 2562l1-10M799 2552l-1-10M416 2542l4 9M690 2559l-3-11M1006 2558l-6 10M866 2565l1-10M812 2547l-1-10M433 2539l4 9M1299 2567l-10-11M1162 2556l-13 11M772 2564l-1-12M382 2554l4 10M865 2554l-3 9M556 2556l-2-6M254 2552l-2 11M1237 2553l1-11M1089 2560l5-11M719 2551l-1 10M984 2562l4-10M647 2553l0 7M728 2553l-1 11M1099 2569l5-10M615 2541l1 2M949 2565l3-10M1291 2556l-6-8M1139 2549l-11 11M759 2560l-2-9M366 2552l3 10M1120 2564l4-11M740 2555l0 5M310 2553l-14-4-13-1-13 1-13 4M633 2557l2 11M970 2551l4-11M559 2546l3 9M898 2551l2-9M482 2551l4 10M841 2550l0-8M1275 2553l-2-11M982 2543l-6 11M665 2553l-3-8M292 2546l0 10M857 2556l-4 9M549 2561l-6-10M252 2552l-1 4M977 2557l1-2M640 2557l1 9M1272 2553l-2-11M966 2543l-5 10M656 2560l-5-11M286 2550l1 11M1247 2553l0-5M888 2549l-4 10M580 2551l-6-11M261 2541l-1 10M1270 2545l-1-10M970 2536l-5 10M286 2553l1 10M286 2552l1 10M1271 2549l-2-10M967 2541l-5 9M649 2542l-4-10M1254 2561l0-10M905 2551l-5 12M605 2565l-4-10M265 2556l0 5M301 2553l4 11M1317 2560l-1-9M997 2554l-4 9M644 2559l-3-10M355 2534l5 11M1344 2568l-4-12M1085 2557l-2 4M707 2561l-2-11M490 2550l6 11M1360 2560l-7-7M1224 2554l-12 11M784 2567l0-12M932 2560l2-5M598 2557l3 10M140 2564l-6-3M1394 2560l-16-6M851 2551l2-10M1025 2562l6-10M1160 2549l5-11M748 2539l0 11M316 2559l-10-9M184 2550l-2 2M1235 2561l3-11M439 2553l-5-8M194 2547l-4 11M244 2530l0 11M1285 2546l1-11M902 2537l-3 10M543 2552l-5-11M214 2544l-2 10M137 2568l-3-2M1393 2566l-12-5-12-3M1345 2558l-7 1M486 2556l7 11M1351 2546l-12-10M940 2559l4-11M599 2549l4 11M319 2564l-10-10M177 2555l-10 10M1044 2550l6-10M674 2541l2 10M190 2558l-3 10M1164 2553l4-7M753 2547l0 10M555 2564l-4-11M218 2554l-1 9M1239 2550l3-12M825 2540l-2 12M627 2554l-3-9M244 2547l0 9M1278 2551l1-13M891 2541l-3 10M715 2558l-2-11M297 2548l3 11M1313 2568l-1-11M986 2558l-5 11M1219 2557l-10 10M784 2563l0-11M377 2554l6 11M1340 2552l-5-10M1107 2543l-7 11M748 2538l0 10M320 2562l-7-7M171 2556l-8 10M1040 2557l7-10M1230 2558l3-11M816 2548l-2 10M193 2552l-4 9M1147 2563l6-11M1283 2565l1-12M898 2554l-1 2M548 2562l-4-11M214 2554l0 4M1233 2564l3-10M1312 2554l-1-6M973 2550l-5 11M620 2558l-3-10M238 2549l0 11M1343 2560l-1-1M1086 2560l-5 11M708 2556l0-1M290 2555l4 12M1367 2569l-8-10M1201 2560l-8 10M776 2540l0-8M355 2533l4 10M587 2536l4 11M850 2560l2-11M484 2550l5 8M678 2560l2 9M209 2570l-19-8-19-2-18 2-19 7M934 2558l4-10"/></g><use href="#p3_1" stroke="#ff3600" stroke-dasharray="4.4 30.8 3.2 22.8 4.4 13.6 2.4 31.4 3.2 14.2 4.8 21.2 3.8 26.2" stroke-dashoffset="6" stroke-linecap="butt"/><use href="#p3_1" stroke="#86ff00" stroke-dasharray="2.4 24.4 3.4 8.4 4.2 30.2 3.0 22.4 3.2 25.2 4.4 11.6 4.8 23.0" stroke-dashoffset="10" stroke-linecap="butt"/><use href="#p3_1" stroke="#f00" stroke-dasharray="4.4 27.4 3.6 25.8 4.8 8.6 4.8 16.2 3.8 9.8 4.4 13.6 4.8 13.2" stroke-dashoffset="20" stroke-linecap="butt"/><use href="#p3_1" stroke="#00ff51" stroke-dasharray="4.0 16.4 4.2 11.2 3.0 25.4 4.6 20.8 5.0 11.4 4.8 10.4 5.2 22.2" stroke-dashoffset="14" stroke-linecap="butt"/><g stroke="#f1ff00"><path id="p3_2" d="M254 2526l-3 8M1216 2554l2-10M833 2545l-3 10M504 2550l-6-10M970 2553l3-9M631 2545l2 10M882 2539l2-9M531 2531l4 10M323 2521l1 9M1286 2548l-3-5M1069 2544l-7 9M721 2554l-2-10M334 2553l-20-9M266 2545l-19 9M1131 2556l5-10M747 2548l-1 10M962 2550l3-10M623 2542l2 9M857 2552l1-9M503 2544l3 8M798 2542l0-10M412 2534l4 8M687 2548l-3-10M304 2539l1 9M1282 2556l-2-9M1012 2548l-6 10M867 2555l1-10M518 2547l1 2M811 2537l0-9M429 2531l4 8M1289 2556l-12-11M1175 2546l-13 10M771 2552l-2-9M378 2545l4 9M869 2545l-4 9M554 2550l-6-10M256 2541l-2 11M1238 2542l1-9M1094 2549l4-10M719 2541l0 10M988 2552l3-9M645 2544l2 9M729 2542l-1 11M1104 2559l4-10M952 2555l3-10M616 2547l1 5M1285 2548l-9-9M1151 2539l-12 10M757 2551l-1-10M363 2542l3 10M1124 2553l5-10M741 2545l-1 10M631 2547l2 10M974 2540l3-9M556 2536l3 10M900 2542l2-9M478 2542l4 9M841 2542l0-9M1273 2542l-2-10M987 2534l-5 9M662 2545l-3-10M291 2537l1 9M1233 2549l1-4M860 2546l-3 10M543 2551l-5-9M254 2542l-2 10M978 2555l3-10M639 2547l1 10M1270 2542l-2-9M971 2534l-5 9M651 2549l-4-11M285 2540l1 10M1247 2548l0-9M892 2540l-4 9M574 2540l-5-10M263 2531l-2 10M1269 2535l-2-9M974 2528l-4 8M652 2551l-4-10M286 2542l0 11M286 2543l0 9M1269 2539l-1-8M972 2531l-5 10M645 2532l-3-9M1254 2551l0-11M909 2541l-4 10M601 2555l-4-9M266 2547l-1 9M298 2543l3 10M1316 2551l-2-8M1001 2544l-4 10M641 2549l-3-9M350 2524l5 10M1340 2556l-4-10M1090 2548l-5 9M705 2550l-2-10M857 2545l1-7M484 2539l6 11M1353 2553l-11-10M1237 2543l-13 11M784 2555l0-10M934 2555l4-9M594 2548l4 9M1378 2554l-17-2-19 2M1031 2552l5-9M667 2544l1 8M1165 2538l5-11M748 2529l0 10M306 2550l-13-10M195 2541l-11 9M1238 2550l2-10M823 2542l-2 8M434 2545l-6-10M198 2537l-4 10M243 2520l1 10M1286 2535l0-9M906 2526l-4 11M538 2541l-4-10M215 2533l-1 11M1369 2558l-12-1-12 1M851 2551l1-7M480 2546l6 10M1339 2536l-15-10M1250 2527l-9 4M944 2548l4-11M596 2539l3 10M309 2554l-12-9M187 2545l-10 10M1050 2540l6-9M673 2532l1 9M445 2556l-6-10M194 2547l-4 11M1168 2546l5-9M753 2537l0 10M551 2553l-4-9M219 2545l-1 9M1242 2538l2-10M827 2531l-2 9M624 2545l-2-9M244 2537l0 10M1279 2538l0-9M894 2530l-3 11M713 2547l-2-12M294 2538l3 10M1312 2557l-2-10M990 2548l-4 10M1229 2548l-10 9M784 2552l0-10M371 2543l6 11M1335 2542l-4-9M1113 2533l-6 10M748 2528l0 10M313 2555l-9-9M180 2547l-9 9M1047 2547l6-10M1233 2547l3-10M817 2537l-1 11M427 2549l-5-8M197 2543l-4 9M1153 2552l6-11M1284 2553l0-9M900 2546l-2 8M544 2551l-4-9M216 2543l-2 11M1236 2554l1-4M1311 2548l-1-11M977 2539l-4 11M617 2548l-3-11M237 2539l1 10M1342 2559l-3-9M1092 2551l-6 9M708 2555l-2-12M288 2546l2 9M1359 2559l-8-10M1210 2551l-9 9M776 2532l0-10M350 2523l5 10M584 2528l3 8M852 2549l1-10M478 2540l6 10M677 2550l1 10M938 2548l4-10M853 2541h0"/></g><use href="#p3_2" stroke="#ff3600" stroke-dasharray="2.4 24.4 3.4 8.4 4.2 30.2 3.0 22.4 3.2 25.2 4.4 11.6 4.8 23.0" stroke-dashoffset="12" stroke-linecap="butt"/><use href="#p3_2" stroke="#1bff00" stroke-dasharray="4.4 27.4 3.6 25.8 4.8 8.6 4.8 16.2 3.8 9.8 4.4 13.6 4.8 13.2" stroke-dashoffset="20" stroke-linecap="butt"/><use href="#p3_2" stroke="#f00" stroke-dasharray="4.0 16.4 4.2 11.2 3.0 25.4 4.6 20.8 5.0 11.4 4.8 10.4 5.2 22.2" stroke-dashoffset="34" stroke-linecap="butt"/><use href="#p3_2" stroke="#00ffbc" stroke-dasharray="4.0 31.2 4.6 26.6 2.6 15.6 2.6 11.0 3.0 28.4 2.8 13.8 3.8 28.0" stroke-dashoffset="18" stroke-linecap="butt"/><g stroke="#86ff00"><path id="p3_3" d="M258 2517l-4 9M1218 2544l1-8M836 2537l-3 8M498 2540l-6-9M973 2544l3-9M629 2536l2 9M884 2530l1-9M528 2523l3 8M321 2512l2 9M1283 2543l-4-10M1076 2534l-7 10M719 2544l-2-9M314 2544l-13-3-12 0-12 1-11 3M1136 2546l5-13M749 2534l-2 14M965 2540l3-9M621 2532l2 10M858 2543l0-9M499 2535l4 9M798 2532l-1-10M407 2522l5 12M684 2538l-4-13M302 2526l2 13M1280 2547l-3-11M1018 2537l-6 11M868 2545l1-8M515 2539l3 8M811 2528l0-8M425 2522l4 9M1277 2545l-12-8-12-5M1202 2532l-13 6-14 8M769 2543l-1-13M374 2532l4 13M872 2535l-3 10M548 2540l-7-13M259 2528l-3 13M1239 2533l0-8M1098 2539l5-11M719 2530l0 11M991 2543l3-8M644 2535l1 9M729 2529l0 13M1108 2549l4-10M955 2545l3-11M614 2536l2 11M1276 2539l-13-12M1166 2528l-15 11M756 2541l-1-8M360 2534l3 8M1129 2543l4-10M742 2534l-1 11M630 2538l1 9M977 2531l5-13M552 2526l4 10M902 2533l1-8M474 2533l4 9M841 2533l1-8M1271 2532l-3-11M994 2521l-7 13M659 2535l-3-8M290 2528l1 9M1234 2545l1-9M863 2538l-3 8M538 2542l-5-9M256 2534l-2 8M981 2545l3-8M637 2539l2 8M1268 2533l-2-10M975 2525l-4 9M647 2538l-4-13M285 2527l0 13M1247 2539l0-10M895 2531l-3 9M569 2530l-5-11M265 2520l-2 11M1267 2526l-2-8M978 2520l-4 8M648 2541l-4-13M285 2529l1 13M285 2535l1 8M1268 2531l-2-9M977 2523l-5 8M642 2523l-3-9M1254 2540l-1-13M914 2528l-5 13M597 2546l-4-9M267 2538l-1 9M295 2532l3 11M1314 2543l-1-9M1005 2537l-4 7M638 2540l-2-9M344 2513l6 11M1336 2546l-4-11M1098 2536l-8 12M703 2540l-1-8M858 2538l2-13M475 2526l9 13M1342 2543l-12-8-13-6M1263 2530l-13 5-13 8M784 2545l0-12M938 2546l4-11M590 2536l4 12M1036 2543l5-8M665 2536l2 8M1170 2527l6-11M748 2518l0 11M293 2540l-16-8M210 2532l-15 9M1240 2540l3-12M824 2530l-1 12M428 2535l-8-11M204 2525l-6 12M243 2511l0 9M1286 2526l1-12M908 2517l-2 9M534 2531l-5-10M217 2523l-2 10M852 2544l2-11M472 2533l8 13M1324 2526l-19-7-18-2-18 2-19 8M948 2537l5-12M591 2528l5 11M297 2545l-13-9M200 2536l-13 9M1056 2531l5-9M671 2524l2 8M439 2546l-8-12M199 2535l-5 12M1173 2537l5-11M753 2528l0 9M547 2544l-4-10M220 2535l-1 10M1244 2528l3-11M829 2518l-2 13M622 2536l-3-9M243 2529l1 8M1279 2529l1-12M897 2518l-3 12M711 2535l-1-11M291 2525l3 13M1310 2547l-2-12M996 2536l-6 12M1241 2539l-12 9M784 2542l0-12M364 2530l7 13M1331 2533l-5-10M1119 2524l-6 9M748 2519l0 9M304 2546l-12-9M190 2538l-10 9M1053 2537l7-13M1236 2537l3-13M819 2525l-2 12M422 2541l-5-8M201 2534l-4 9M1159 2541l7-13M1284 2544l1-13M904 2532l-4 14M540 2542l-4-9M217 2534l-1 9M1310 2537l-1-12M982 2526l-5 13M614 2537l-4-12M237 2528l0 11M1339 2550l-3-9M1096 2543l-4 8M706 2543l-2-13M284 2531l4 15M1351 2549l-8-8M1220 2542l-10 9M776 2522l0-9M346 2515l4 8M580 2518l4 10M853 2539l3-13M470 2528l8 12M676 2542l1 8M942 2538l3-8"/></g><use href="#p3_3" stroke="#ffa100" stroke-dasharray="4.4 27.4 3.6 25.8 4.8 8.6 4.8 16.2 3.8 9.8 4.4 13.6 4.8 13.2" stroke-dashoffset="18" stroke-linecap="butt"/><use href="#p3_3" stroke="#00ff51" stroke-dasharray="4.0 16.4 4.2 11.2 3.0 25.4 4.6 20.8 5.0 11.4 4.8 10.4 5.2 22.2" stroke-dashoffset="30" stroke-linecap="butt"/><use href="#p3_3" stroke="#f00" stroke-dasharray="4.0 31.2 4.6 26.6 2.6 15.6 2.6 11.0 3.0 28.4 2.8 13.8 3.8 28.0" stroke-dashoffset="48" stroke-linecap="butt"/><use href="#p3_3" stroke="#00d6ff" stroke-dasharray="2.6 12.2 4.6 21.2 2.6 17.2 3.8 10.2 4.4 9.0 3.4 19.4 3.6 21.2" stroke-dashoffset="22" stroke-linecap="butt"/><g stroke="#1bff00"><path id="p3_4" d="M263 2507l-5 10M1219 2536l3-16M840 2521l-4 16M492 2531l-13-19M976 2535l7-19M625 2517l4 19M885 2521l3-17M520 2505l8 18M318 2497l3 15M1279 2533l-11-18M1091 2516l-15 18M717 2535l-5-20M1141 2533l9-23M751 2511l-2 23M968 2531l6-17M617 2516l4 16M858 2534l2-16M492 2519l7 16M797 2522l0-21M398 2502l9 20M680 2525l-6-21M300 2505l2 21M1277 2536l-7-19M1031 2518l-13 19M869 2537l1-16M508 2523l7 16M811 2520l0-13M418 2507l7 15M1253 2532l-12-3-13-1-13 1-13 3M768 2530l-2-20M366 2511l8 21M878 2519l-6 16M541 2527l-13-23M264 2506l-5 22M1239 2525l1-19M1103 2528l9-20M720 2509l-1 21M994 2535l6-15M642 2521l2 14M730 2507l-1 22M1112 2539l9-19M958 2534l7-20M609 2514l5 22M1263 2527l-11-6-12-5-12-3-12-1-12 1-13 3-25 12M755 2533l-3-17M354 2516l6 18M1133 2533l8-21M744 2513l-2 21M626 2518l4 20M982 2518l8-20M545 2507l7 19M903 2525l3-12M466 2517l8 16M842 2525l1-14M1268 2521l-6-22M1006 2500l-12 21M656 2527l-6-18M290 2511l0 17M1235 2536l1-17M869 2521l-6 17M533 2533l-10-17M260 2517l-4 17M984 2537l6-15M635 2523l2 16M1266 2523l-4-18M986 2506l-11 19M643 2525l-8-22M285 2504l0 23M1247 2529l0-16M901 2515l-6 16M564 2519l-11-21M269 2499l-4 21M1265 2518l-3-14M986 2505l-8 15M644 2528l-8-22M285 2507l0 22M285 2519l0 16M1266 2522l-3-14M984 2508l-7 15M639 2514l-7-17M1253 2527l-1-22M924 2506l-10 22M593 2537l-7-14M268 2524l-1 14M289 2512l6 20M1313 2534l-3-14M1012 2521l-7 16M636 2531l-5-19M248 2514l0 1M335 2493l9 20M1332 2535l-10-21M1111 2515l-13 21M702 2532l-2-16M860 2525l5-22M462 2504l13 22M1317 2529l-13-3-13-2-14 2-14 4M784 2533l1-22M942 2535l8-19M582 2517l8 19M1041 2535l9-15M662 2521l3 15M1176 2516l9-20M748 2498l0 20M277 2532l-17-6-17-2-17 2-16 6M1243 2528l5-22M828 2509l-4 21M420 2524l-16-22M216 2503l-12 22M243 2505l0 6M1287 2514l0-19M914 2496l-6 21M529 2521l-9-21M221 2502l-4 21M854 2533l4-21M459 2512l13 21M953 2525l9-20M582 2505l9 23M284 2536l-22-9-21-3-21 3-20 9M1061 2522l11-17M668 2506l3 18M431 2534l-15-22M209 2513l-10 22M1178 2526l9-19M753 2508l0 20M543 2534l-9-20M223 2515l-3 20M1247 2517l5-23M832 2496l-3 22M619 2527l-4-12M243 2517l0 12M1280 2517l0-23M903 2495l-6 23M710 2524l-4-21M285 2503l6 22M1308 2535l-4-21M1005 2515l-9 21M1251 2533l-10 6M784 2530l1-23M353 2509l11 21M1326 2523l-12-20M1134 2505l-15 19M747 2502l1 17M292 2537l-18-9-17-6M223 2522l-16 6-17 10M1060 2524l13-20M1239 2524l6-22M822 2502l-3 23M417 2533l-12-16M209 2519l-8 15M1166 2528l10-22M1285 2531l0-22M910 2511l-6 21M536 2533l-8-19M221 2515l-4 19M1309 2525l-4-21M991 2505l-9 21M610 2525l-6-21M237 2505l0 23M1336 2541l-7-15M1107 2527l-11 16M704 2530l-3-23M278 2508l6 23M1343 2541l-12-9-11-7M1246 2525l-26 17M776 2513l0-14M339 2501l7 14M573 2502l7 16M856 2526l4-21M456 2506l14 22M672 2523l4 19M945 2530l6-15"/></g><use href="#p3_4" stroke="#f1ff00" stroke-dasharray="4.0 16.4 4.2 11.2 3.0 25.4 4.6 20.8 5.0 11.4 4.8 10.4 5.2 22.2" stroke-dashoffset="24" stroke-linecap="butt"/><use href="#p3_4" stroke="#00ffbc" stroke-dasharray="4.0 31.2 4.6 26.6 2.6 15.6 2.6 11.0 3.0 28.4 2.8 13.8 3.8 28.0" stroke-dashoffset="40" stroke-linecap="butt"/><use href="#p3_4" stroke="#006bff" stroke-dasharray="4.4 30.8 3.2 22.8 4.4 13.6 2.4 31.4 3.2 14.2 4.8 21.2 3.8 26.2" stroke-dashoffset="26" stroke-linecap="butt"/><g stroke="#00ff51"><path id="p3_5" d="M272 2489l-9 18M1222 2520l2-21M845 2502l-5 19M479 2512l-17-22M983 2516l8-22M621 2496l4 21M888 2504l4-22M511 2484l9 21M707 2494l-4-19M315 2477l3 20M1268 2515l-17-21M1113 2494l-22 22M712 2515l-5-23M1150 2510l9-25M753 2486l-2 25M974 2514l8-21M612 2494l5 22M860 2518l2-20M483 2499l9 20M797 2501l-1-22M389 2480l9 22M674 2504l-8-26M298 2479l2 26M1270 2517l-10-23M1047 2495l-16 23M870 2521l3-20M500 2503l8 20M811 2507l0-20M410 2488l8 19M766 2510l-3-25M358 2487l8 24M885 2498l-7 21M528 2504l-16-26M273 2480l-9 26M1240 2506l0-21M1112 2508l10-22M720 2487l0 22M1000 2520l8-19M639 2503l3 18M731 2482l-1 25M1121 2520l9-22M965 2514l9-24M603 2491l6 23M752 2516l-3-21M348 2495l6 21M1141 2512l9-23M745 2490l-1 23M621 2496l5 22M990 2498l9-24M537 2485l8 22M906 2513l4-18M456 2497l10 20M843 2511l1-19M1262 2499l-9-24M1022 2476l-16 24M650 2509l-7-20M289 2490l1 21M1236 2519l1-20M876 2500l-7 21M523 2516l-12-20M267 2497l-7 20M990 2522l7-19M631 2504l4 19M1262 2505l-6-22M998 2485l-12 21M635 2503l-10-25M286 2478l-1 26M1247 2513l-1-21M909 2494l-8 21M553 2498l-13-23M275 2475l-6 24M1262 2504l-6-19M998 2485l-12 20M636 2506l-10-25M286 2482l-1 25M285 2500l0 19M1263 2508l-6-20M995 2490l-11 18M632 2497l-7-20M1252 2505l-3-26M935 2480l-11 26M586 2523l-9-20M271 2505l-3 19M284 2488l5 24M1310 2520l-5-20M1021 2501l-9 20M631 2512l-6-22M248 2492l0 22M324 2470l11 23M1322 2514l-15-23M1129 2492l-18 23M700 2516l-3-22M865 2503l6-25M446 2479l16 25M785 2511l1-25M950 2516l11-23M571 2494l11 23M1050 2520l11-20M658 2502l4 19M1185 2496l10-23M748 2475l0 23M1248 2506l5-24M831 2485l-3 24M404 2502l-22-24M235 2479l-19 24M1287 2495l-1-22M920 2474l-6 22M520 2500l-10-23M227 2479l-6 23M858 2512l5-25M443 2488l16 24M962 2505l12-24M572 2482l10 23M1072 2505l13-22M663 2484l5 22M416 2512l-20-25M225 2488l-16 25M1187 2507l10-23M753 2485l0 23M534 2514l-10-23M228 2494l-5 21M1252 2494l4-25M836 2472l-4 24M615 2515l-5-18M243 2498l0 19M1280 2494l0-25M910 2471l-7 24M706 2503l-3-26M280 2479l5 24M1304 2514l-6-24M1017 2491l-12 24M785 2507l0-24M341 2484l12 25M1314 2503l-18-21M1156 2482l-22 23M747 2481l0 21M257 2522l-17-2-17 2M1073 2504l16-25M1245 2502l5-26M825 2478l-3 24M405 2517l-17-20M222 2498l-13 21M1176 2506l12-24M1285 2509l0-25M918 2486l-8 25M528 2514l-10-22M225 2493l-4 22M1305 2504l0-2M992 2502l-1 3M604 2504l-1-2M237 2504l0 1M1329 2526l-11-21M1121 2506l-14 21M701 2507l-4-26M272 2482l6 26M1320 2525l-19-7-18-2-18 2-19 7M776 2499l0-19M330 2481l9 20M570 2496l3 6M860 2505l5-25M440 2481l16 25M668 2501l4 22M951 2515l9-20M572 2496l3 8"/></g><use href="#p3_5" stroke="#86ff00" stroke-dasharray="4.0 31.2 4.6 26.6 2.6 15.6 2.6 11.0 3.0 28.4 2.8 13.8 3.8 28.0" stroke-dashoffset="30" stroke-linecap="butt"/><use href="#p3_5" stroke="#00d6ff" stroke-dasharray="2.6 12.2 4.6 21.2 2.6 17.2 3.8 10.2 4.4 9.0 3.4 19.4 3.6 21.2" stroke-dashoffset="50" stroke-linecap="butt"/><g stroke="#00ffbc"><path id="p3_6" d="M285 2470l-13 19M1224 2499l2-21M852 2479l-7 23M462 2490l-23-24M991 2494l10-24M616 2472l5 24M892 2482l5-23M501 2460l10 24M703 2475l-4-22M312 2454l3 23M1251 2494l-15-14-16-10M1149 2470l-18 11-18 13M707 2492l-2-9M1159 2485l10-29M754 2457l-1 29M982 2493l9-23M607 2471l5 23M862 2498l3-22M473 2477l10 22M796 2479l0-26M379 2454l10 26M666 2478l-8-28M297 2452l1 27M1260 2494l-15-26M1068 2469l-21 26M873 2501l3-22M490 2481l10 22M811 2487l0-21M401 2467l9 21M763 2485l-2-27M350 2460l8 27M893 2475l-8 23M512 2478l-19-28M286 2451l-13 29M1240 2485l-1-23M1122 2486l12-27M719 2461l1 26M1008 2501l9-21M635 2482l4 21M731 2453l0 29M1130 2498l10-25M974 2490l10-27M596 2465l7 26M749 2495l-3-24M341 2473l7 22M1150 2489l10-27M746 2464l-1 26M615 2471l6 25M999 2474l12-27M526 2459l11 26M910 2495l5-21M446 2474l10 23M844 2492l2-19M1253 2475l-14-27M1041 2449l-19 27M643 2489l-8-23M290 2467l-1 23M1237 2499l0-23M883 2476l-7 24M511 2496l-15-23M276 2474l-9 23M997 2503l9-22M627 2483l4 21M1256 2483l-9-24M1013 2460l-15 25M625 2478l-11-29M288 2450l-2 28M1246 2492l-2-22M918 2471l-9 23M540 2475l-15-26M284 2449l-9 26M1256 2485l-8-22M1011 2464l-13 21M626 2481l-11-29M288 2454l-2 28M286 2477l-1 23M1257 2488l-7-21M1008 2468l-13 22M625 2477l-9-24M1249 2479l-5-29M948 2452l-13 28M577 2503l-11-21M275 2483l-4 22M278 2463l6 25M1305 2500l-7-22M1033 2478l-12 23M625 2490l-7-24M248 2468l0 24M312 2443l12 27M1307 2491l-11-15-11-11M1156 2465l-27 27M697 2494l-3-23M871 2478l6-28M428 2451l18 28M786 2486l1-26M961 2493l12-26M559 2468l12 26M1061 2500l14-21M653 2479l5 23M1195 2473l12-26M747 2448l1 27M1253 2482l5-26M835 2457l-4 28M382 2478l-20-16-21-11M271 2451l-18 11-18 17M1286 2473l-1-26M928 2448l-8 26M510 2477l-14-26M235 2453l-8 26M863 2487l6-28M425 2461l18 27M974 2481l14-28M560 2455l12 27M1085 2483l15-23M658 2461l5 23M396 2487l-15-15-15-12M252 2460l-14 12-13 16M1197 2484l11-24M753 2462l0 23M524 2491l-12-24M235 2468l-7 26M1256 2469l4-26M840 2444l-4 28M610 2497l-6-20M244 2477l-1 21M1280 2469l-1-28M919 2442l-9 29M703 2477l-4-26M275 2452l5 27M1298 2490l-9-27M1031 2464l-14 27M785 2483l2-29M327 2456l14 28M1296 2482l-16-15-18-10M1193 2458l-18 10-19 14M746 2457l1 24M1089 2479l18-27M1250 2476l5-28M829 2450l-4 28M388 2497l-24-22M243 2476l-21 22M1188 2482l13-29M1285 2484l-1-28M926 2457l-8 29M518 2492l-13-25M232 2468l-7 25M1318 2505l-15-22M1140 2484l-19 22M697 2481l-3-30M267 2452l5 30M776 2480l1-22M320 2460l10 21M865 2480l7-28M422 2454l18 27M663 2478l5 23M960 2495l10-22M562 2474l10 22"/></g><use href="#p3_6" stroke="#1bff00" stroke-dasharray="2.6 12.2 4.6 21.2 2.6 17.2 3.8 10.2 4.4 9.0 3.4 19.4 3.6 21.2" stroke-dashoffset="36" stroke-linecap="butt"/><use href="#p3_6" stroke="#006bff" stroke-dasharray="4.4 30.8 3.2 22.8 4.4 13.6 2.4 31.4 3.2 14.2 4.8 21.2 3.8 26.2" stroke-dashoffset="60" stroke-linecap="butt"/><g stroke="#00d6ff"><path id="p3_7" d="M300 2454l-15 16M1226 2478l1-25M858 2454l-6 25M439 2466l-19-16-19-11M320 2440l-13 8-12 11M1001 2470l11-26M609 2445l7 27M897 2459l5-26M489 2435l12 25M699 2453l-6-25M309 2429l3 25M1220 2470l-17-6-17-2-18 2-19 6M1169 2456l10-32M756 2426l-2 31M991 2470l10-26M600 2445l7 26M865 2476l4-26M461 2452l12 25M796 2453l0-28M368 2426l11 28M658 2450l-9-31M298 2422l-1 30M1245 2468l-12-15-13-13M1098 2441l-15 13-15 15M876 2479l4-23M478 2456l12 25M811 2466l1-23M391 2444l10 23M761 2458l-3-30M341 2430l9 30M902 2451l-9 24M493 2450l-28-31M307 2420l-11 15-10 16M1239 2462l-3-27M1134 2459l11-28M719 2431l0 30M1017 2480l10-24M630 2457l5 25M731 2421l0 32M1140 2473l11-27M984 2463l11-29M587 2436l9 29M746 2471l-3-25M335 2447l6 26M1160 2462l9-28M748 2435l-2 29M609 2444l6 27M1011 2447l13-29M515 2432l11 27M915 2474l5-21M434 2449l12 25M846 2473l2-23M1239 2448l-10-16-12-14M1069 2419l-28 30M635 2466l-9-26M291 2442l-1 25M1237 2476l-1-26M892 2451l-9 25M496 2473l-20-25M290 2449l-14 25M1006 2481l11-24M621 2458l6 25M1247 2459l-13-26M1032 2434l-19 26M614 2449l-12-31M293 2420l-5 30M1244 2470l-3-26M929 2446l-11 25M525 2449l-21-29M298 2421l-14 28M1248 2463l-11-24M1027 2440l-16 24M615 2452l-12-31M292 2423l-4 31M288 2453l-2 24M1250 2467l-10-23M1024 2445l-16 23M616 2453l-10-24M1244 2450l-8-31M963 2421l-15 31M566 2482l-12-24M281 2459l-6 24M273 2435l5 28M1298 2478l-9-25M1047 2455l-14 23M618 2466l-8-27M249 2442l-1 26M301 2414l11 29M1285 2465l-15-12-16-8-16-5-16-2-16 2-17 5-16 8-17 12M694 2471l-4-25M877 2450l9-32M406 2419l22 32M787 2460l2-31M973 2467l15-28M545 2440l14 28M1075 2479l16-24M647 2456l6 23M1207 2447l11-29M746 2419l1 29M1258 2456l4-31M839 2427l-4 30M341 2451l-18-6-18-2-17 2-17 6M1285 2447l-3-28M937 2421l-9 27M496 2451l-17-29M247 2424l-12 29M869 2459l8-31M405 2430l20 31M988 2453l15-29M545 2425l15 30M1100 2460l17-26M652 2436l6 25M366 2460l-14-9-15-7-15-3-15-2-14 1-14 4-14 7-13 9M1208 2460l12-29M752 2432l1 30M512 2467l-15-28M244 2441l-9 27M1260 2443l4-31M844 2414l-4 30M604 2477l-8-24M246 2455l-2 22M1279 2441l-3-30M928 2411l-9 31M699 2451l-4-30M271 2421l4 31M1289 2463l-13-30M1050 2434l-19 30M787 2454l2-29M314 2426l13 30M1262 2457l-17-5-17-2-17 2-18 6M745 2432l1 25M1107 2452l20-29M1255 2448l5-30M833 2420l-4 30M364 2475l-15-10-16-7-16-5-15-1-15 2-15 4-15 7-14 11M1201 2453l13-31M1284 2456l-3-30M936 2427l-10 30M505 2467l-14-27M242 2441l-10 27M1303 2483l-12-13-13-11M1168 2459l-14 11-14 14M694 2451l-4-33M262 2420l5 32M777 2458l1-24M310 2436l10 24M872 2452l8-30M402 2424l20 30M657 2452l6 26M970 2473l12-24M550 2450l12 24"/></g><use href="#p3_7" stroke="#00ff51" stroke-dasharray="4.4 30.8 3.2 22.8 4.4 13.6 2.4 31.4 3.2 14.2 4.8 21.2 3.8 26.2" stroke-dashoffset="42" stroke-linecap="butt"/><use href="#p3_7" stroke="#0100ff" stroke-dasharray="2.4 24.4 3.4 8.4 4.2 30.2 3.0 22.4 3.2 25.2 4.4 11.6 4.8 23.0" stroke-dashoffset="70" stroke-linecap="butt"/><g stroke="#006bff"><path id="p3_8" d="M1227 2453l1-26M866 2427l-8 27M401 2439l-21-8-20-2-20 3-20 8M1012 2444l13-29M601 2415l8 30M902 2433l7-28M475 2406l14 29M693 2428l-5-26M308 2403l1 26M1179 2424l9-34M758 2391l-2 35M1001 2444l12-27M591 2417l9 28M869 2450l4-25M448 2425l13 27M796 2425l0-31M357 2395l11 31M649 2419l-11-32M300 2388l-2 34M1220 2440l-13-10-15-7-15-5-15-1-16 2-16 4-16 8-16 10M880 2456l5-27M465 2430l13 26M812 2443l1-25M381 2419l10 25M758 2428l-2-32M333 2397l8 33M912 2423l-10 28M465 2419l-28-21-13-8-14-5M356 2385l-13 6-13 7-12 10-11 12M1236 2435l-3-29M1145 2431l12-31M718 2401l1 30M1027 2456l13-26M624 2432l6 25M731 2388l0 33M1151 2446l11-31M995 2434l13-30M577 2404l10 32M743 2446l-3-28M329 2419l6 28M1169 2434l10-32M748 2405l0 30M600 2414l9 30M1024 2418l15-32M501 2403l14 29M920 2453l7-26M421 2422l13 27M848 2450l3-25M1217 2418l-12-12-14-9-15-7-14-4M1131 2386l-16 5-15 6-15 10-16 12M626 2440l-10-28M294 2415l-3 27M1236 2450l-2-27M901 2423l-9 28M476 2448l-28-28M313 2420l-12 14-11 15M1017 2457l12-26M615 2433l6 25M1234 2433l-10-16-11-13M1058 2405l-26 29M602 2418l-16-34M300 2386l-7 34M1241 2444l-5-27M941 2419l-12 27M504 2420l-14-17-14-14M320 2389l-12 15-10 17M1237 2439l-15-25M1048 2415l-21 25M603 2421l-15-33M299 2389l-7 34M291 2428l-3 25M1240 2444l-15-26M1044 2419l-20 26M606 2429l-12-28M1236 2419l-12-33M982 2387l-19 34M554 2458l-15-26M289 2433l-8 26M267 2402l6 33M1289 2453l-13-25M1065 2428l-18 27M610 2439l-8-28M251 2412l-2 30M289 2382l12 32M690 2446l-4-29M886 2418l10-33M383 2386l23 33M789 2429l2-32M988 2439l18-31M527 2409l18 31M1091 2455l17-26M640 2430l7 26M1218 2418l12-31M744 2389l2 30M1262 2425l4-31M843 2396l-4 31M1282 2419l-5-29M948 2390l-11 31M479 2422l-24-31M266 2392l-19 32M877 2428l9-32M382 2398l23 32M1003 2424l21-33M527 2393l18 32M1117 2434l18-27M645 2407l7 29M1220 2431l11-30M750 2402l2 30M497 2439l-20-30M258 2411l-14 30M1264 2412l2-34M849 2381l-5 33M596 2453l-8-23M248 2431l-2 24M1276 2411l-6-34M940 2379l-12 32M695 2421l-4-33M267 2389l4 32M1276 2433l-20-32M1076 2401l-26 33M789 2425l2-34M300 2393l14 33M743 2404l2 28M1127 2423l22-32M1260 2418l3-33M837 2387l-4 33M1214 2422l15-35M1281 2426l-6-33M947 2395l-11 32M491 2440l-20-29M256 2412l-14 29M1278 2459l-13-9-13-6-14-3-14-1-14 1-14 4-14 6-14 8M690 2418l-5-34M258 2385l4 35M778 2434l1-26M300 2410l10 26M880 2422l10-34M378 2391l24 33M650 2423l7 29M982 2449l14-26M537 2424l13 26"/></g><use href="#p3_8" stroke="#00ffbc" stroke-dasharray="2.4 24.4 3.4 8.4 4.2 30.2 3.0 22.4 3.2 25.2 4.4 11.6 4.8 23.0" stroke-dashoffset="48" stroke-linecap="butt"/><use href="#p3_8" stroke="#6c00ff" stroke-dasharray="4.4 27.4 3.6 25.8 4.8 8.6 4.8 16.2 3.8 9.8 4.4 13.6 4.8 13.2" stroke-dashoffset="80" stroke-linecap="butt"/><g stroke="#0100ff"><path id="p3_9" d="M1228 2427l-1-30M874 2399l-8 28M1025 2415l15-32M591 2385l10 30M909 2405l9-31M460 2376l15 30M688 2402l-8-31M307 2374l1 29M1188 2390l9-36M759 2355l-1 36M1013 2417l15-31M582 2387l9 30M873 2425l5-30M433 2396l15 29M796 2394l0-32M347 2363l10 32M638 2387l-13-36M306 2352l-6 36M885 2429l6-29M452 2402l13 28M813 2418l1-29M369 2391l12 28M756 2396l-3-36M326 2363l7 34M924 2393l-12 30M410 2385l-15-3-13-1-13 1-13 3M1233 2406l-7-30M931 2377l-3 8M1157 2400l13-34M716 2369l2 32M1040 2430l13-28M617 2404l7 28M730 2351l1 37M1162 2415l11-31M1008 2404l16-34M565 2371l12 33M740 2418l-3-30M323 2389l6 30M1179 2402l10-33M749 2371l-1 34M591 2383l9 31M1039 2386l17-34M486 2371l15 32M927 2427l8-25M416 2412l5 10M851 2425l3-26M411 2400l10 21M1162 2386l-15-1-16 1M616 2412l-12-29M300 2384l-6 31M1234 2423l-4-30M913 2394l-12 29M448 2420l-17-12-17-9-18-5-18-2-17 2-17 5-16 9-15 12M1029 2431l13-28M607 2404l8 29M1213 2404l-21-19-23-12M1109 2373l-26 13-25 19M586 2384l-20-36M313 2350l-13 36M1236 2417l-9-29M956 2389l-15 30M476 2389l-15-13-16-10-16-7-16-4M376 2355l-15 5-15 7-13 10-13 12M1222 2414l-14-15-14-12M1082 2387l-17 12-17 16M588 2388l-19-36M311 2353l-12 36M297 2399l-6 29M1225 2418l-13-15-13-13M1075 2391l-16 13-15 15M594 2401l-15-30M1224 2386l-10-19-11-17M1010 2351l-28 36M539 2432l-17-27M301 2405l-12 28M265 2383l2 19M1276 2428l-11-18M1078 2412l-13 16M602 2411l-7-19M254 2394l-3 18M282 2363l7 19M686 2417l-2-16M896 2385l13-37M356 2349l27 37M791 2397l3-36M1006 2408l21-32M507 2377l20 32M1108 2429l20-29M631 2402l9 28M1230 2387l12-35M742 2354l2 35M1266 2394l2-36M849 2360l-6 36M1277 2390l-8-33M961 2358l-13 32M455 2391l-18-18-19-15M298 2359l-17 14-15 19M886 2396l12-35M357 2363l25 35M1024 2391l23-34M505 2358l22 35M1135 2407l21-30M636 2377l9 30M1231 2401l7-19M749 2384l1 18M477 2409l-26-31M281 2378l-12 16-11 17M1266 2378l1-34M856 2345l-7 36M588 2430l-10-27M253 2404l-5 27M1270 2377l-9-35M955 2342l-15 37M691 2388l-5-36M265 2353l2 36M1256 2401l-18-20-21-15M1119 2366l-22 15-21 20M791 2391l4-36M285 2356l15 37M742 2387l1 17M1149 2391l14-20M1263 2385l3-36M842 2351l-5 36M1229 2387l13-35M1275 2393l-9-36M962 2359l-15 36M471 2411l-27-31M279 2380l-12 16-11 16M685 2384l-3-22M256 2363l2 22M779 2408l1-15M294 2395l6 15M890 2388l12-35M353 2355l25 36M641 2393l9 30M996 2423l16-29M520 2395l17 29"/></g><use href="#p3_9" stroke="#00d6ff" stroke-dasharray="4.4 27.4 3.6 25.8 4.8 8.6 4.8 16.2 3.8 9.8 4.4 13.6 4.8 13.2" stroke-dashoffset="54" stroke-linecap="butt"/><use href="#p3_9" stroke="#f0f" stroke-dasharray="4.0 16.4 4.2 11.2 3.0 25.4 4.6 20.8 5.0 11.4 4.8 10.4 5.2 22.2" stroke-dashoffset="90" stroke-linecap="butt"/><g stroke="#6c00ff"><path id="p3_10" d="M1227 2397l-3-31M884 2367l-10 32M1040 2383l17-33M580 2351l11 34M918 2374l9-31M443 2344l17 32M680 2371l-8-30M308 2342l-1 32M1197 2354l8-40M761 2315l-2 40M1028 2386l15-31M570 2355l12 32M878 2395l6-31M418 2365l15 31M796 2362l1-37M336 2328l11 35M625 2351l-18-38M316 2314l-10 38M891 2400l7-30M436 2371l16 31M814 2389l1-28M359 2362l10 29M753 2360l-3-36M320 2326l6 37M932 2375l-8 18M1226 2376l-9-29M947 2347l-16 30M1170 2366l12-35M714 2332l2 37M1053 2402l14-28M609 2375l8 29M729 2313l1 38M1173 2384l11-34M1024 2370l18-36M551 2335l14 36M737 2388l-4-32M318 2357l5 32M1189 2369l9-35M750 2336l-1 35M579 2348l12 35M1056 2352l21-38M468 2337l18 34M935 2402l9-27M854 2399l4-29M398 2372l13 28M604 2383l-15-29M308 2355l-8 29M1230 2393l-7-32M926 2362l-13 32M1042 2403l15-30M599 2375l8 29M1169 2373l-15-4-15-1-15 1-15 4M566 2348l-14-20-14-18M335 2310l-12 19-10 21M1227 2388l-12-32M974 2357l-18 32M413 2355l-18-2-19 2M1194 2387l-13-8-14-6-14-4-14-1-15 1-14 4-15 6-13 8M569 2352l-14-21-14-18M332 2315l-11 18-10 20M306 2368l-9 31M1199 2390l-14-9-15-7-16-5-15-1-16 2-16 4-16 7-16 10M579 2371l-13-24M1203 2350l-20-23-23-16M1059 2311l-26 17-23 23M522 2405l-26-30M320 2376l-19 29M909 2348l16-38M327 2310l29 39M794 2361l4-37M1027 2376l26-36M481 2341l26 36M1128 2400l21-30M621 2372l10 30M1242 2352l12-35M740 2317l2 37M1268 2358l0-36M855 2322l-6 38M1269 2357l-11-34M978 2323l-17 35M418 2358l-16-9-14-5-16-4-15-1-15 1-16 4-14 6-14 9M898 2361l14-37M329 2326l28 37M1047 2357l29-37M477 2320l28 38M1156 2377l23-33M625 2345l11 32M451 2378l-25-21-27-13M327 2344l-13 6-12 8-21 20M1267 2344l-1-38M863 2307l-7 38M578 2403l-11-28M259 2376l-6 28M1261 2342l-15-39M975 2304l-20 38M686 2352l-7-37M264 2317l1 36M1217 2366l-24-10-24-3-25 3-25 10M795 2355l4-38M271 2319l14 37M1266 2349l1-38M849 2313l-7 38M1242 2352l14-40M1266 2357l-14-37M982 2321l-20 38M444 2380l-26-21-14-8-13-5M327 2346l-12 6-13 8-23 20M902 2353l14-36M326 2320l27 35M631 2360l10 33M1012 2394l20-30M501 2365l19 30"/></g><g stroke="#f0f"><path id="p3_11" d="M1224 2366l-7-40-11-37-14-30-19-26-21-21-27-15-28-9-30-3-29 3-28 9-27 15-25 20-20 25-20 30-17 36-17 44M1057 2350l38-67 38-57 38-46 38-38 39-29 21-12 23-12 24-9 24-7 52-11M135 2061l40-4 39-1 39 2 40 5 34 7 33 10 30 13 28 16 25 18 23 21 21 25 20 27 20 31 19 37 17 40 17 43M927 2343l15-47 18-43 17-37 20-33 20-28 21-24 23-21 25-18 29-16 32-12 35-9 40-7 43-4 45 0 43 3 40 6M136 2054l48 13 40 17 39 23 35 29 34 37 36 46 37 58 38 67M672 2341l-15-49-17-40-20-34-22-26-26-22-29-16-18-6-16-4-35-3-17 1-18 3-16 4-16 7-27 16-12 10-12 13-18 27-15 34-10 40-5 46M1205 2314l7-39 3-36 2-34-1-30-3-26-6-23-8-21-10-18-13-15-15-13-18-10-22-9-25-7-29-5-32-4-35-1-31 1-33 4-25 4-26 7-21 8-20 11-17 13-13 14-12 16-9 18-9 22-6 25-10 61-7 88M1043 2355l38-68 38-58 39-47 20-21 20-18 21-16 21-13 22-13 24-11 24-8 27-8 55-10M135 2064l39-3 38 0 37 2 37 6 35 8 30 10 29 13 28 17 24 18 24 22 21 24 20 27 20 31 18 35 18 39 17 42M884 2364l14-58 15-54 17-46 17-40 18-32 20-28 23-23 25-19 31-17 37-13 40-9 47-6 54-3 54 2 53 5 44 9M137 2033l39 14 37 19 32 24 29 30 29 39 31 48 36 67 48 91M797 2325l1-109-1-65-6-48-4-19-6-16-7-15-9-12-11-12-14-9-15-8-20-7-45-10M428 1996l-24 4-24 6-18 7-16 9-14 11-9 11-9 15-5 16-4 20-2 24 0 27 2 30 12 72 19 80M607 2313l-14-26-17-23-16-19-19-16-20-13-22-9-23-6-22-1-23 2-23 6-20 9-18 13-17 16-15 20-12 23-10 25M898 2370l14-54 16-50 17-45 19-38 19-33 21-28 22-22 25-20 30-17 35-14 40-10 43-6 48-4 54 1 46 4 44 8M134 2043l44 14 40 19 36 25 32 31 32 40 35 51 40 67 43 81M815 2361l19-247 1-41-1-30-6-26-4-9-6-9-8-7-11-6-24-9M348 1976l-18 5-15 6-10 7-8 8-6 10-4 14-2 15 0 18 2 27 4 31 16 76 23 83 29 86M750 2324l-10-80-12-59-7-23-9-20-11-20-11-15-14-15-16-12-20-12-21-8-24-7-24-5-30-3-27-1-27 1-29 4-27 5-22 8-22 9-17 12-15 13-11 14-11 18-8 20-6 23-4 25-2 28 0 32 2 33 5 37M1182 2331l24-79 19-76 11-65 2-26 0-23-1-17-3-15-6-13-7-10-9-8-11-7-15-6-17-5M777 1981l-30 9-13 7-8 7-8 8-6 11-5 12-3 14-3 32 0 45 13 206M1067 2374l41-75 40-64 38-51 36-41 37-31 39-25 20-10 24-9 50-13M135 2054l42-6 44-3 44 1 46 4 39 7 36 11 33 13 29 17 26 20 23 24 22 27 20 31 20 37 18 41 17 46 15 51M790 2014l-21 14-15 17-11 23-8 26-5 34-2 43 1 142M1184 2350l23-85 14-77 4-33 1-30-1-26-3-21-6-19-7-14-10-13-13-11-16-9-18-7-24-6-24-5M862 1994l-31 6-23 7-20 8-17 12M1042 2334l37-64 37-53 38-43 20-20 20-16 22-16 21-12 23-11 24-10 25-8 28-7 55-8M135 2066l36-2 36 1 35 3 36 6 33 8 29 11 28 12 24 15 23 16 22 20 21 22 20 25 20 29 18 31 18 35 17 37M733 2356l-12-80-14-58-8-25-10-21-10-19-11-16-14-16-16-13-16-11-19-9-22-8-25-6-26-3-25-1-27 1-26 4-24 5-20 8-20 10-17 12-14 14-13 17-10 19-8 20-6 23-4 26-3 29 0 30 2 34 3 35M1198 2334l9-44 7-42 4-38 1-34-2-30-4-28-7-22-10-19-12-15-15-13-18-11-25-10-27-8-29-4-39-4-37-1-36 1-34 3-30 5-29 7-22 9-18 10-16 12-15 16-10 17-9 20-7 23-6 28-8 69-4 105M1196 2154l20-18 22-16 22-15 25-12 25-11 26-8 28-7 29-6M136 2061l41-4 39-1 39 2 39 5 34 8 32 10 31 13 27 15 25 19 23 21 22 24 19 27 20 32 18 35 17 38 17 43M1077 2314l32-52 32-46 32-39 33-32M331 2150l34 35 35 42 34 51 34 59M944 2375l16-46 18-42 19-38 20-35 20-29 22-26 23-23 25-20 28-17 29-13 33-11 35-9 39-5 41-3 41 1 40 3M136 2063l32 5 28 7 28 9 25 11 24 12 24 16 23 17 21 19M858 2370l18-97 21-82 11-34 12-30 12-24 13-22 14-17 16-16 19-13 18-10 24-10 26-7 26-6 32-4M1326 1997l33 5 31 6M135 2009l37 13 17 8 16 9 28 23 25 29 21 34 25 46 94 201M1223 2361l-10-30-12-25-14-22-17-20-19-15-20-11-23-6-23-2-23 2-23 6-22 11-21 15-19 18-18 23-17 27-16 30M1057 2373l39-73 40-63 38-50 39-41 38-32 20-12 22-12 23-10 23-9 53-12M135 2058l41-5 45-2 41 1 42 5 39 8 34 11 30 13 30 18 25 19 23 23 22 27 20 31 20 35 18 39 18 45 16 49M538 2310l-24-23-25-16-28-11-28-3-27 3-14 4-13 6-23 17-21 23M1215 2356l-11-18-11-16-12-15-15-12-15-10-16-6-17-4-17-2-17 2-17 4-17 7-17 9-16 12-14 14-15 17-14 19M541 2313l-25-25-27-17-28-11-14-2-15-1-14 1-14 2-14 5-14 7-24 18-20 25M571 2356l-15-24-16-20-17-17-17-14-18-11-20-8-20-4-20-1-20 2-19 7-18 9-16 13-15 16-13 19-12 21-9 24M1160 2311l-24-10-25-3-26 3-26 10M496 2375l-22-20-23-14-23-9-24-2-23 3-23 9-20 14-18 20M925 2310l17-36 19-32 21-30 21-25 24-22 24-17 27-16 28-12 35-11 34-7 37-3 40 0 39 4 36 7 33 10 34 14M135 2135l24 13 24 15 22 16 23 20 47 48 52 63M798 2324l10-82 12-70M1053 2340l36-40 37-34 38-29 42-24 44-20 46-14 48-8 49-4M135 2167l49 3 50 8 49 14 44 19 42 25 40 30 36 34 36 41M1149 2370l36-47 33-43 31-35 29-30 28-25 29-22 28-18 30-15M135 2134l36-14 38-10 39-6 41-2 42 2 40 6 37 11 33 13 29 17 26 19 25 24 23 27 22 33 20 35 18 39 17 44M1254 2317l26-94 40-163 12-42 8-19 10-14 14-10 16-6M653 1969l19 8 13 13 10 19 8 27 9 47 10 67 10 81 8 86M1268 2322l-4-55-9-47-7-21-8-19-10-17-11-14-13-13-13-11-16-10-18-9-21-7-19-4-24-3-22-1-22 1-21 3-20 4-21 7-17 8-17 10-15 11-13 12-12 15-11 15-19 39-16 47-14 59M1258 2323l-12-23-13-20-15-18-16-15-19-12-19-8-20-4-21-2-21 2-21 5-19 8-20 12-18 15-16 17-15 20-15 23M912 2324l18-40 18-35 20-30 22-27 23-23 25-20 27-16 30-14 35-11 38-8 38-3 40 0 40 4 36 8 36 11 35 16M135 2137l23 14 24 16 23 19 22 20 48 51 54 69M1076 2320l33-37 35-31 37-27 38-22 41-19 42-13 45-10 45-4M134 2157l50 1 50 7 48 12 43 18 43 23 39 29 36 34 34 39M1179 2344l62-83 26-31 25-27 26-25 25-20 25-17 26-14M136 2126l37-16 37-11 39-7 42-3 43 1 41 6 38 9 34 13 29 15 27 19 25 23 22 25 21 30 19 34 18 39 17 42M399 2344l-18-5-18-2-18 2-18 5M1266 2306l-6-48-10-43-8-19-8-16-10-15-11-14-13-13-14-10-16-9-16-7-20-7-19-4-40-3-41 3-37 10-17 8-17 9-15 11-13 12-22 27-20 36-16 42-14 51M567 2375l-16-33-17-28-18-24-20-19-21-16-23-11-24-7-24-3-24 3-24 7-22 12-20 16-18 21-14 24-12 27-11 32M1246 2303l-12-21-13-18-14-15-16-13-18-11-18-7-21-4-20-1-19 1-20 5-19 7-19 11-17 13-16 15-15 18-14 21M679 2315l-13-58-16-47-9-20-10-18-11-16-12-14-13-13-16-11-17-10-17-8-22-6-21-5-22-3-22 0-22 1-22 3-20 4-21 7-18 9-16 10-14 11-13 14-11 14-9 17-9 18-6 22-9 46-4 55M799 2317l10-80 13-70 14-54 16-42 17-28 10-12 11-10 25-16 18-7 18-5M1337 1992l33 11 24 13M136 2017l16 14 14 15 13 21 13 25 22 57 57 170M1267 2311l-4-55-10-47-6-20-9-19-10-16-11-15-13-13-15-11-17-10-16-8-22-7-21-4-22-3-23-1-23 2-23 3-21 4-19 7-17 7-18 11-15 11-13 13-13 15-11 15-18 37-15 48-13 58M1256 2312l31-100M1252 2320l-11-21-13-20-14-16-16-13-17-10-19-8-19-5-21-1-19 1-20 5-20 8-18 10-18 14-16 17-16 19-13 21M391 2346l-16-4-16-1-16 1-16 4M484 2141l23 17 21 19 20 22 19 27 18 29 16 31 15 35 15 39M1032 2364l36-48 40-42 41-36 43-28 47-23 49-16 53-11 53-3M136 2157l53 3 53 10 51 16 47 23 45 30 41 35 39 43 36 48M653 1994h0M646 1994h0M638 1993h0M630 1992h0M621 1991h0M612 1991h0M603 1990h0M594 1989h0M584 1989h0M574 1989h0M564 1989h0M554 1988h0M544 1988h0M534 1988h0M523 1989h0M513 1989h0M504 1989h0M494 1990h0M485 1990h0M476 1991h0M467 1991h0M459 1992h0M450 1993h0M443 1994h0M435 1995h0M768 1976h0M760 1974h0M750 1973h0M739 1971h0M726 1970h0M710 1969h0M692 1968h0M670 1967h0M645 1966h0M617 1965h0M586 1965h0M554 1965h0M522 1965h0M491 1965h0M464 1966h0M440 1967h0M420 1968h0M402 1969h0M387 1970h0M375 1972h0M364 1973h0M355 1975h0M1162 1980h0M1154 1979h0M1146 1977h0M1136 1976h0M1125 1975h0M1112 1973h0M1098 1972h0M1082 1971h0M1064 1970h0M1044 1970h0M1023 1969h0M1000 1969h0M977 1969h0M953 1969h0M930 1969h0M908 1970h0M888 1970h0M869 1971h0M852 1972h0M837 1973h0M824 1974h0M812 1975h0M802 1977h0M792 1978h0M784 1980h0M1096 1993h0M1089 1992h0M1081 1991h0M1073 1990h0M1064 1990h0M1055 1989h0M1046 1988h0M1036 1988h0M1026 1987h0M1015 1987h0M1005 1987h0M994 1987h0M984 1987h0M973 1987h0M962 1987h0M952 1987h0M941 1987h0M931 1988h0M921 1988h0M912 1989h0M902 1989h0M894 1990h0M885 1991h0M877 1992h0M869 1993h0M1128 1997h0M1135 1996h0M1143 1996h0M1150 1995h0M1158 1994h0M1167 1994h0M1175 1994h0M1184 1993h0M1192 1993h0M1201 1993h0M1210 1993h0M1219 1992h0M1228 1992h0M1237 1992h0M1246 1993h0M1254 1993h0M1263 1993h0M1272 1993h0M1280 1994h0M1288 1994h0M1296 1995h0M1304 1995h0M1312 1996h0M1319 1997h0M1389 1967h0M141 1965h0M157 1963h0M183 1961h0M224 1959h0M295 1958h0M399 1958h0M497 1958h0M559 1960h0M596 1962h0M619 1963h0M634 1965h0M645 1967h0M958 1991h0M966 1989h0M974 1988h0M983 1986h0M993 1985h0M1003 1983h0M1015 1982h0M1028 1981h0M1042 1980h0M1057 1979h0M1073 1978h0M1089 1978h0M1107 1977h0M1125 1977h0M1144 1977h0M1162 1977h0M1181 1977h0M1198 1978h0M1215 1978h0M1231 1979h0M1246 1980h0M1260 1981h0M1273 1982h0M1285 1983h0M1295 1985h0M1305 1986h0M1314 1987h0M1323 1989h0M1330 1991h0"/></g><path stroke="#00ff51" d="M1305 2502l-9-39-12-35-14-31-18-26-19-21-22-15-23-9-24-3-24 3-23 8-23 14-23 20-21 25-19 29-19 36-20 44M603 2502l-22-69-20-51-22-44-23-34-13-15-14-13-13-11-15-9-15-8-17-5-16-3-15-1-17 1-16 4-16 5-16 9-15 10-13 12-12 14-11 17-9 18-9 20-14 44-9 53-4 58"/><path stroke="#0100ff" d="M298 2138l-12 21-10 23-7 25-5 29-3 33-1 36 1 38 4 40M1265 2410l-20-22-22-17-24-9-24-4-26 4-24 10-24 17-23 23M595 2392l-17-44-18-37-20-31-21-24-23-20-26-15-29-9-29-3-30 3-28 10-24 15-22 21-19 27-15 32-12 36-8 41M799 2190l8-55 9-45 8-34 9-25 10-19 13-15 14-10 19-8M1378 1977l12 4M135 1983l18 10 13 12 11 16 11 24 16 50 47 172 31 96M684 2401l-10-64-10-50-11-43-13-34-14-30-18-26-22-22-24-16-16-9-18-7-20-5-21-4-41-2-22 1-21 3-20 5-18 6-16 8-14 8-13 10-12 12-10 12-10 15M1238 2382l22-66 21-72 18-73 28-123 9-35 8-18 8-13 9-8 14-6M667 1968l17 8 11 13 9 21 9 36 10 64 11 87 9 94 6 93M1289 2218l33-109 19-52 11-20 11-16 13-14 15-10M134 1995l30-11M611 1985l29 12 12 8 12 10 9 12 8 13 14 35 14 53 13 73 11 90 9 96M1163 2371l68-91 29-36 27-29 27-25 25-22 27-19 27-15M135 2133l45-19 48-13 50-6 51 0 48 6 24 6 23 7 40 17 20 12 17 13M682 2362l-13-76-16-58-9-25-10-21-10-18-13-17-14-15-17-13-17-11-19-9-22-8-22-5-26-3-23-1-23 1-26 4-23 6-21 7-18 10-18 12-14 13-13 16-11 19-9 19-8 24-5 25-4 27-3 31 1 67M780 2393l7-98 10-98 11-83 12-59 10-34 13-23 8-9 8-6 12-6 12-4M138 1975l18 8 12 10 12 16 10 23 13 44 32 125 18 68 20 65 21 61M896 1977h0M904 1975h0M914 1973h0M925 1971h0M940 1969h0M958 1967h0M981 1966h0M1010 1965h0M1046 1963h0M1090 1963h0M1139 1963h0M1188 1963h0M1231 1964h0M1267 1965h0M1295 1966h0M1318 1968h0M1335 1969h0M1349 1971h0M1361 1973h0M1370 1975h0M1382 1966h0M1392 1964h0M147 1962h0M173 1960h0M219 1958h0M314 1957h0M457 1957h0M558 1958h0M607 1960h0M633 1962h0M649 1964h0M660 1966h0M172 1982h0M180 1980h0M189 1979h0M200 1977h0M212 1975h0M226 1974h0M242 1972h0M261 1971h0M282 1970h0M306 1969h0M333 1968h0M362 1968h0M392 1968h0M422 1968h0M450 1969h0M476 1970h0M500 1971h0M520 1972h0M538 1973h0M553 1975h0M566 1976h0M578 1978h0M588 1979h0M597 1981h0M604 1983h0M892 1971h0M902 1969h0M915 1967h0M933 1965h0M957 1963h0M991 1962h0M1039 1961h0M1103 1960h0M1175 1960h0M1238 1961h0M1286 1962h0M1319 1963h0M1343 1965h0M1360 1967h0M1373 1969h0M1383 1971h0M1392 1973h0"/><path stroke="#6c00ff" d="M1217 2347l-10-23-13-21-13-19-16-14-17-12-18-9-21-5-20-2-20 2-20 5-19 9-19 12-17 14-17 18-16 21-14 24M589 2354l-15-27-16-23-17-20-18-16-20-13-21-10-21-5-22-2-22 2-20 6-19 10-18 13-16 17-14 20-12 23-10 26M916 2317l17-38 19-34 20-30 22-26 23-22 25-20 27-16 29-13 35-10 38-8 37-3 41 0 39 5 37 7 35 12 33 14M135 2136l23 14 23 15 23 19 23 20 46 50 53 66"/><path stroke="#000" d="M246 2549h0M246 2550h0M245 2551h0M1216 2555h0M1216 2554h0M825 2572h0M825 2573h0M517 2571h0M516 2570h0M966 2563h0M967 2561h0M969 2555h0M636 2573h0M636 2574h0M880 2560h0M880 2558h0M526 2518h0M538 2550h0M539 2551h0M319 2503h0M328 2548h0M329 2549h0M1286 2548h0M1285 2547h0M1284 2546h0M1049 2571h0M1049 2572h0M727 2575h0M726 2574h0M360 2572h0M360 2572h0M338 2556h0M253 2550h0M226 2571h0M226 2572h0M1122 2579h0M1122 2578h0M746 2558h0M746 2559h0M956 2570h0M956 2568h0M619 2524h0M628 2567h0M628 2569h0M855 2572h0M856 2571h0M506 2551h0M506 2552h0M800 2563h0M800 2562h0M418 2547h0M419 2550h0M420 2551h0M694 2571h0M694 2569h0M305 2547h0M305 2548h0M1282 2556h0M1282 2555h0M995 2577h0M994 2578h0M865 2575h0M865 2573h0M519 2548h0M519 2549h0M812 2557h0M812 2556h0M440 2555h0M440 2556h0M1299 2567h0M1299 2567h0M1139 2577h0M1139 2578h0M774 2575h0M774 2574h0M385 2563h0M386 2564h0M859 2571h0M859 2572h0M556 2556h0M556 2555h0M251 2572h0M251 2573h0M1236 2563h0M1237 2562h0M1084 2571h0M1085 2570h0M718 2566h0M718 2568h0M980 2571h0M981 2570h0M647 2559h0M647 2560h0M727 2572h0M726 2574h0M1094 2579h0M1095 2578h0M615 2541h0M616 2543h0M617 2551h0M618 2552h0M945 2577h0M946 2575h0M963 2519h0M617 2551h0M617 2552h0M1291 2556h0M1291 2555h0M1120 2569h0M1119 2570h0M759 2560h0M759 2559h0M372 2570h0M373 2571h0M1115 2575h0M1115 2573h0M1119 2565h0M740 2555h0M740 2559h0M740 2560h0M331 2563h0M330 2562h0M323 2558h0M242 2560h0M242 2561h0M636 2576h0M636 2577h0M966 2562h0M967 2561h0M967 2560h0M986 2509h0M548 2515h0M565 2564h0M566 2565h0M897 2561h0M897 2559h0M475 2536h0M490 2569h0M490 2570h0M840 2560h0M840 2559h0M841 2550h0M1276 2555h0M1275 2554h0M971 2563h0M971 2564h0M665 2553h0M665 2552h0M293 2564h0M293 2565h0M1233 2549h0M1234 2548h0M850 2573h0M850 2574h0M554 2571h0M554 2570h0M254 2542h0M251 2554h0M251 2556h0M977 2557h0M977 2556h0M641 2561h0M642 2573h0M643 2574h0M1272 2554h0M1272 2553h0M957 2562h0M956 2563h0M659 2569h0M659 2568h0M658 2567h0M287 2570h0M287 2571h0M1247 2553h0M1247 2552h0M1247 2550h0M881 2567h0M880 2568h0M582 2556h0M582 2555h0M259 2560h0M259 2562h0M1272 2555h0M1272 2553h0M964 2548h0M963 2549h0M652 2551h0M652 2550h0M287 2572h0M288 2573h0M287 2569h0M287 2570h0M1272 2558h0M1272 2557h0M1272 2554h0M1268 2530h0M959 2558h0M958 2559h0M653 2552h0M652 2551h0M1254 2572h0M1254 2570h0M896 2572h0M895 2573h0M610 2574h0M609 2573h0M265 2556h0M265 2560h0M265 2561h0M307 2572h0M308 2573h0M1317 2560h0M1317 2559h0M1317 2557h0M995 2559h0M990 2571h0M989 2572h0M647 2569h0M646 2568h0M645 2565h0M248 2514h0M248 2515h0M365 2553h0M365 2555h0M1347 2578h0M1346 2577h0M1083 2559h0M1083 2561h0M708 2571h0M708 2569h0M704 2547h0M857 2545h0M857 2543h0M488 2547h0M502 2570h0M502 2571h0M1360 2560h0M1360 2559h0M1204 2575h0M1203 2576h0M785 2578h0M785 2576h0M932 2560h0M933 2558h0M600 2563h0M604 2575h0M605 2577h0M154 2573h0M153 2573h0M1343 2554h0M1342 2554h0M849 2562h0M850 2561h0M853 2543h0M853 2541h0M1020 2572h0M1020 2570h0M668 2550h0M668 2552h0M1154 2559h0M1155 2558h0M748 2550h0M748 2552h0M326 2569h0M325 2568h0M182 2552h0M182 2552h0M1231 2572h0M1232 2571h0M1236 2554h0M1245 2521h0M822 2548h0M821 2550h0M439 2553h0M438 2552h0M435 2547h0M187 2567h0M187 2568h0M245 2549h0M245 2550h0M1285 2549h0M1285 2548h0M897 2555h0M897 2556h0M543 2552h0M542 2550h0M211 2562h0M211 2563h0M153 2579h0M152 2578h0M1339 2559h0M1338 2559h0M851 2551h0M851 2549h0M484 2552h0M498 2576h0M499 2577h0M1360 2556h0M1360 2556h0M1256 2524h0M1242 2531h0M1241 2531h0M211 2566h0M210 2566h0M195 2561h0M192 2560h0M147 2564h0M146 2564h0M940 2559h0M940 2558h0M951 2532h0M606 2568h0M606 2570h0M329 2574h0M328 2574h0M231 2525h0M197 2538h0M167 2565h0M166 2566h0M1038 2560h0M1039 2559h0M676 2553h0M676 2554h0M445 2556h0M444 2555h0M184 2577h0M183 2579h0M1164 2553h0M1165 2552h0M753 2565h0M753 2567h0M559 2574h0M559 2573h0M217 2562h0M217 2563h0M1237 2557h0M1237 2556h0M827 2529h0M822 2559h0M822 2561h0M630 2562h0M629 2561h0M245 2562h0M245 2563h0M1277 2561h0M1277 2560h0M893 2532h0M886 2557h0M886 2559h0M716 2569h0M716 2567h0M293 2534h0M302 2567h0M303 2569h0M1314 2575h0M1314 2573h0M977 2578h0M977 2579h0M1251 2533h0M1250 2534h0M1248 2534h0M1244 2537h0M1202 2575h0M1201 2576h0M784 2575h0M784 2573h0M784 2540h0M388 2573h0M388 2574h0M1342 2558h0M1342 2557h0M1324 2521h0M1117 2528h0M1095 2562h0M1095 2563h0M748 2555h0M748 2556h0M320 2562h0M319 2561h0M171 2555h0M157 2574h0M156 2575h0M1034 2568h0M1034 2567h0M1227 2569h0M1227 2567h0M815 2555h0M814 2556h0M814 2558h0M427 2549h0M426 2548h0M186 2569h0M185 2570h0M1141 2575h0M1142 2573h0M1282 2576h0M1282 2574h0M1284 2547h0M898 2554h0M897 2556h0M553 2573h0M552 2571h0M536 2534h0M214 2557h0M214 2558h0M1230 2575h0M1230 2574h0M1237 2552h0M1237 2550h0M1312 2554h0M1312 2552h0M965 2569h0M965 2570h0M622 2565h0M622 2564h0M237 2521h0M239 2568h0M239 2570h0M1343 2560h0M1342 2559h0M1103 2532h0M1085 2564h0M1077 2578h0M1076 2579h0M708 2556h0M708 2555h0M297 2576h0M297 2578h0M1371 2576h0M1371 2575h0M1186 2578h0M1186 2579h0M776 2550h0M776 2549h0M363 2550h0M364 2551h0M594 2554h0M595 2555h0M848 2571h0M849 2570h0M488 2557h0M489 2558h0M681 2577h0M681 2579h0M225 2580h0M224 2579h0M1388 2573h0M1388 2573h0M931 2567h0M931 2566h0M945 2529h0"/></g>
</g></svg>
<g style="mix-blend-mode:multiply" transform="translate(383.43,1172.82) scale(0.8996,1)" font-family="'Liberation Serif', 'Times New Roman', serif" font-weight="bold" font-size="130.85" text-anchor="middle">
<text x="1.3" y="1.3" fill="#b4b4b4">IGN</text>
<text x="-0.9" y="-0.9" fill="#f6f6f6">IGN</text>
<text x="0" y="0" fill="#d6d6d6">IGN</text>
</g>
<rect x="67" y="1238.90" width="630" height="1.2" fill="#000"/><rect x="67" y="1186.40" width="630" height="1.2" fill="#000"/><rect x="67" y="1133.90" width="630" height="1.2" fill="#000"/><rect x="67" y="1081.40" width="630" height="1.2" fill="#000"/><rect x="67" y="1028.90" width="630" height="1.2" fill="#000"/>
<rect x="83.75" y="1288.50" width="1.5" height="1.5" fill="#000"/><rect x="83.75" y="979.00" width="1.5" height="1.5" fill="#000"/><rect x="101.25" y="1288.50" width="1.5" height="1.5" fill="#000"/><rect x="101.25" y="979.00" width="1.5" height="1.5" fill="#000"/><rect x="118.50" y="1286.50" width="2" height="3.5" fill="#000"/><rect x="118.50" y="979.00" width="2" height="3.5" fill="#000"/><rect x="136.25" y="1288.50" width="1.5" height="1.5" fill="#000"/><rect x="136.25" y="979.00" width="1.5" height="1.5" fill="#000"/><rect x="153.75" y="1288.50" width="1.5" height="1.5" fill="#000"/><rect x="153.75" y="979.00" width="1.5" height="1.5" fill="#000"/><rect x="171.00" y="1286.50" width="2" height="3.5" fill="#000"/><rect x="171.00" y="979.00" width="2" height="3.5" fill="#000"/><rect x="188.75" y="1288.50" width="1.5" height="1.5" fill="#000"/><rect x="188.75" y="979.00" width="1.5" height="1.5" fill="#000"/><rect x="206.25" y="1288.50" width="1.5" height="1.5" fill="#000"/><rect x="206.25" y="979.00" width="1.5" height="1.5" fill="#000"/><rect x="223.50" y="1286.50" width="2" height="3.5" fill="#000"/><rect x="223.50" y="979.00" width="2" height="3.5" fill="#000"/><rect x="241.25" y="1288.50" width="1.5" height="1.5" fill="#000"/><rect x="241.25" y="979.00" width="1.5" height="1.5" fill="#000"/><rect x="258.75" y="1288.50" width="1.5" height="1.5" fill="#000"/><rect x="258.75" y="979.00" width="1.5" height="1.5" fill="#000"/><rect x="276.00" y="1286.50" width="2" height="3.5" fill="#000"/><rect x="276.00" y="979.00" width="2" height="3.5" fill="#000"/><rect x="293.75" y="1288.50" width="1.5" height="1.5" fill="#000"/><rect x="293.75" y="979.00" width="1.5" height="1.5" fill="#000"/><rect x="311.25" y="1288.50" width="1.5" height="1.5" fill="#000"/><rect x="311.25" y="979.00" width="1.5" height="1.5" fill="#000"/><rect x="328.50" y="1286.50" width="2" height="3.5" fill="#000"/><rect x="328.50" y="979.00" width="2" height="3.5" fill="#000"/><rect x="346.25" y="1288.50" width="1.5" height="1.5" fill="#000"/><rect x="346.25" y="979.00" width="1.5" height="1.5" fill="#000"/><rect x="363.75" y="1288.50" width="1.5" height="1.5" fill="#000"/><rect x="363.75" y="979.00" width="1.5" height="1.5" fill="#000"/><rect x="381.00" y="1286.50" width="2" height="3.5" fill="#000"/><rect x="381.00" y="979.00" width="2" height="3.5" fill="#000"/><rect x="398.75" y="1288.50" width="1.5" height="1.5" fill="#000"/><rect x="398.75" y="979.00" width="1.5" height="1.5" fill="#000"/><rect x="416.25" y="1288.50" width="1.5" height="1.5" fill="#000"/><rect x="416.25" y="979.00" width="1.5" height="1.5" fill="#000"/><rect x="433.50" y="1286.50" width="2" height="3.5" fill="#000"/><rect x="433.50" y="979.00" width="2" height="3.5" fill="#000"/><rect x="451.25" y="1288.50" width="1.5" height="1.5" fill="#000"/><rect x="451.25" y="979.00" width="1.5" height="1.5" fill="#000"/><rect x="468.75" y="1288.50" width="1.5" height="1.5" fill="#000"/><rect x="468.75" y="979.00" width="1.5" height="1.5" fill="#000"/><rect x="486.00" y="1286.50" width="2" height="3.5" fill="#000"/><rect x="486.00" y="979.00" width="2" height="3.5" fill="#000"/><rect x="503.75" y="1288.50" width="1.5" height="1.5" fill="#000"/><rect x="503.75" y="979.00" width="1.5" height="1.5" fill="#000"/><rect x="521.25" y="1288.50" width="1.5" height="1.5" fill="#000"/><rect x="521.25" y="979.00" width="1.5" height="1.5" fill="#000"/><rect x="538.50" y="1286.50" width="2" height="3.5" fill="#000"/><rect x="538.50" y="979.00" width="2" height="3.5" fill="#000"/><rect x="556.25" y="1288.50" width="1.5" height="1.5" fill="#000"/><rect x="556.25" y="979.00" width="1.5" height="1.5" fill="#000"/><rect x="573.75" y="1288.50" width="1.5" height="1.5" fill="#000"/><rect x="573.75" y="979.00" width="1.5" height="1.5" fill="#000"/><rect x="591.00" y="1286.50" width="2" height="3.5" fill="#000"/><rect x="591.00" y="979.00" width="2" height="3.5" fill="#000"/><rect x="608.75" y="1288.50" width="1.5" height="1.5" fill="#000"/><rect x="608.75" y="979.00" width="1.5" height="1.5" fill="#000"/><rect x="626.25" y="1288.50" width="1.5" height="1.5" fill="#000"/><rect x="626.25" y="979.00" width="1.5" height="1.5" fill="#000"/><rect x="643.50" y="1286.50" width="2" height="3.5" fill="#000"/><rect x="643.50" y="979.00" width="2" height="3.5" fill="#000"/><rect x="661.25" y="1288.50" width="1.5" height="1.5" fill="#000"/><rect x="661.25" y="979.00" width="1.5" height="1.5" fill="#000"/><rect x="678.75" y="1288.50" width="1.5" height="1.5" fill="#000"/><rect x="678.75" y="979.00" width="1.5" height="1.5" fill="#000"/><rect x="69.00" y="1273.50" width="1.5" height="2" fill="#000"/><rect x="693.50" y="1273.50" width="1.5" height="2" fill="#000"/><rect x="69.00" y="1256.00" width="1.5" height="2" fill="#000"/><rect x="693.50" y="1256.00" width="1.5" height="2" fill="#000"/><rect x="69.00" y="1238.50" width="4" height="2" fill="#000"/><rect x="691.00" y="1238.50" width="4" height="2" fill="#000"/><rect x="69.00" y="1221.00" width="1.5" height="2" fill="#000"/><rect x="693.50" y="1221.00" width="1.5" height="2" fill="#000"/><rect x="69.00" y="1203.50" width="1.5" height="2" fill="#000"/><rect x="693.50" y="1203.50" width="1.5" height="2" fill="#000"/><rect x="69.00" y="1186.00" width="4" height="2" fill="#000"/><rect x="691.00" y="1186.00" width="4" height="2" fill="#000"/><rect x="69.00" y="1168.50" width="1.5" height="2" fill="#000"/><rect x="693.50" y="1168.50" width="1.5" height="2" fill="#000"/><rect x="69.00" y="1151.00" width="1.5" height="2" fill="#000"/><rect x="693.50" y="1151.00" width="1.5" height="2" fill="#000"/><rect x="69.00" y="1133.50" width="4" height="2" fill="#000"/><rect x="691.00" y="1133.50" width="4" height="2" fill="#000"/><rect x="69.00" y="1116.00" width="1.5" height="2" fill="#000"/><rect x="693.50" y="1116.00" width="1.5" height="2" fill="#000"/><rect x="69.00" y="1098.50" width="1.5" height="2" fill="#000"/><rect x="693.50" y="1098.50" width="1.5" height="2" fill="#000"/><rect x="69.00" y="1081.00" width="4" height="2" fill="#000"/><rect x="691.00" y="1081.00" width="4" height="2" fill="#000"/><rect x="69.00" y="1063.50" width="1.5" height="2" fill="#000"/><rect x="693.50" y="1063.50" width="1.5" height="2" fill="#000"/><rect x="69.00" y="1046.00" width="1.5" height="2" fill="#000"/><rect x="693.50" y="1046.00" width="1.5" height="2" fill="#000"/><rect x="69.00" y="1028.50" width="4" height="2" fill="#000"/><rect x="691.00" y="1028.50" width="4" height="2" fill="#000"/><rect x="69.00" y="1011.00" width="1.5" height="2" fill="#000"/><rect x="693.50" y="1011.00" width="1.5" height="2" fill="#000"/><rect x="69.00" y="993.50" width="1.5" height="2" fill="#000"/><rect x="693.50" y="993.50" width="1.5" height="2" fill="#000"/>
<rect x="67" y="977" width="630" height="315" fill="none" stroke="#000" stroke-width="4"/>
<text x="67.0" y="1315.8" font-size="22" text-anchor="middle">0</text><text x="119.5" y="1315.8" font-size="22" text-anchor="middle">30</text><text x="172.0" y="1315.8" font-size="22" text-anchor="middle">60</text><text x="224.5" y="1315.8" font-size="22" text-anchor="middle">90</text><text x="277.0" y="1315.8" font-size="22" text-anchor="middle">120</text><text x="329.5" y="1315.8" font-size="22" text-anchor="middle">150</text><text x="382.0" y="1315.8" font-size="22" text-anchor="middle">180</text><text x="434.5" y="1315.8" font-size="22" text-anchor="middle">210</text><text x="487.0" y="1315.8" font-size="22" text-anchor="middle">240</text><text x="539.5" y="1315.8" font-size="22" text-anchor="middle">270</text><text x="592.0" y="1315.8" font-size="22" text-anchor="middle">300</text><text x="644.5" y="1315.8" font-size="22" text-anchor="middle">330</text><text x="697.0" y="1315.8" font-size="22" text-anchor="middle">360</text>
<text x="58.5" y="1299.6" font-size="22" text-anchor="end">0</text><text x="58.5" y="1247.1" font-size="22" text-anchor="end">15</text><text x="58.5" y="1194.6" font-size="22" text-anchor="end">30</text><text x="58.5" y="1142.1" font-size="22" text-anchor="end">45</text><text x="58.5" y="1089.6" font-size="22" text-anchor="end">60</text><text x="58.5" y="1037.1" font-size="22" text-anchor="end">75</text><text x="58.5" y="984.6" font-size="22" text-anchor="end">90</text>
<text x="0" y="0" font-size="22" text-anchor="middle" transform="translate(21,1134.4) rotate(-90)">Elevación (grados)</text>
<text x="303.95" y="1344.7" font-size="22" textLength="155.92" lengthAdjust="spacingAndGlyphs">Azimut (grados)</text>
<circle cx="382" cy="685.5" r="141.67" fill="none" stroke="#000" stroke-width="1"/>
<circle cx="382" cy="685.5" r="70.83" fill="none" stroke="#000" stroke-width="1"/>
<rect x="169.5" y="684.9" width="425.0" height="1.2"/>
<rect x="381.4" y="473.0" width="1.2" height="425.0"/>
<g transform="scale(0.5)" fill="none" stroke-width="4.9" stroke-linejoin="round" stroke-linecap="square"><g stroke="#ff3600"><path id="p4_0" d="M978 1035l-2-7M636 1763l3 7M1157 1509l-3-15M1012 1700l2 7M541 1714l2-7M1088 1144l7 0M356 1421l-4 13M841 1783l5-9M1141 1192l-16-18M962 1011l-14-14M352 1282l9-8M425 1611l2-9M1023 1688l1 6M580 1745l2-6M691 1775l3-7M906 1762l5-10M381 1530l-1 13M562 1738l2-7M668 1766l2-6M1164 1347l5 6M576 1003l-1 1M375 1229l-13 18M743 1789l4-7M571 1734l4 9M992 1029l1-7M473 1081l6 3M348 1361l8-10M857 1770l2 4M397 1567l2-9M839 1776l3 6M343 1339l8-10M1032 1664l1 8M434 1630l1-10M367 1272l-10 17M1142 1212l9 4M352 1297l9-9M1106 1143l-31-30M997 1041l-24-22M1013 1702l1 7M417 1590l2-11M1107 1588l2 9M512 1694l2-7M1166 1446l5 10M612 1751l2-7M538 1034l0 2M411 1570l0 13M1052 1085l6-3M586 1743l4 9M1124 1580l0-14M1001 1709l1 6M532 1039l0 1M428 1596l0 11M971 1731l3-9M1046 1074l6-4M534 1708l3 9M1084 1621l0-6M1001 1045l2-7M532 1039l1 7M428 1586l0 4M1048 1074l6-4M1047 1074l5-3M532 1036l1 7M428 1592l0 10M977 1714l3-10M496 1052l5 5M507 1691l3 11M1055 1671l2-11M1073 1100l9 1M390 1541l-2 10M993 1717l1-9M1125 1201l9 6M666 962l-5 8M878 1771l1-7M1162 1467l4 13M440 1116l-18 12M721 1790l1-8M1064 1656l-1 10M805 955l-28 5M594 1745l0-9M366 1493l3-12M384 1222l11-8M796 1772l0 1M1103 1132l-17-12M462 1084l10 0M877 980l-5-9M971 1033l4-4M557 1027l1 2M514 1683l0 8M918 997l0-7M803 951l-32 6M1168 1461l3 13M696 970l-18 11M919 988l-130-28M1058 1655l0 10M1109 1135l-17-12M832 964l-1-1M363 1453l5-13M936 1735l0 3M871 971l-4-9M786 1777l1 7M1121 1590l-2-12M477 1083l6 0M647 1757l1 7M1019 1693l0-8M976 1025l4-4M538 1029l5 5M531 1700l0 6M861 1774l2-8M1064 1094l9 0M601 985l1 5M398 1565l-2 11M435 1121l-15 10M722 1788l1-8M1154 1238l9 8M660 977l-4 5M361 1329l-6 10M796 1770l1 6M823 962l-13-7M360 1464l5-15M457 1092l10 0M874 976l-4-7M365 1244l11-10M541 1015l6 6M1127 1577l-2-11M458 1085l10 0M415 1585l-1 10M1032 1684l0-6M967 1016l4-5M348 1367l-6 10M1060 1082l10 0M717 954l-8 6M414 1148l-13 9M740 1773l1-7M1122 1200l9 5M1067 1632l0 8M594 1751l0-8M933 1750l0 7M949 992l-32-7M763 956l-12-3M458 1650l0-10M1127 1545h0"/></g><use href="#p4_0" stroke="#f1ff00" stroke-dasharray="5.2 15.6 5.2 30.2 2.8 21.8 4.4 30.6 4.2 9.4 3.8 18.8 3.8 31.0" stroke-dashoffset="0" stroke-linecap="butt"/><use href="#p4_0" stroke="#f00" stroke-dasharray="3.4 11.8 3.8 22.6 5.0 21.2 3.2 30.2 3.8 23.6 3.8 11.6 4.4 26.0" stroke-dashoffset="6" stroke-linecap="butt"/><use href="#p4_0" stroke="#1bff00" stroke-dasharray="3.0 18.0 3.4 10.4 3.0 31.0 4.8 16.0 4.4 7.0 5.0 20.0 4.6 13.2" stroke-dashoffset="10" stroke-linecap="butt"/><g stroke="#ffa100"><path id="p4_1" d="M980 1044l-2-9M450 1115l1 0M632 1755l4 8M1154 1494l-3-14M417 1590l2-9M1011 1693l1 7M543 1707l1-8M1124 1535l3 10M1080 1145l8-1M361 1405l-5 16M846 1774l4-7M1125 1174l-22-23M981 1030l-19-19M361 1274l11-8M800 1777h0M427 1602l2-10M1022 1681l1 7M582 1739l2-7M694 1768l2-6M1155 1305l7 7M911 1752l3-10M383 1515l-2 15M564 1731l2-6M670 1760l2-7M1158 1339l6 8M575 1004l-14 15M392 1209l-17 20M747 1782l4-8M1146 1238l9 6M568 1725l3 9M1113 1578l0-6M991 1037l1-8M479 1084l7 4M356 1351l8-10M855 1763l2 7M399 1558l3-9M988 1708l1 5M836 1769l3 7M351 1329l8-8M1032 1663l0 1M435 1620l2-9M565 1017l-8 11M381 1252l-14 20M774 1780l3-7M1133 1208l9 4M361 1288l9-7M812 1773l1 4M1075 1113l-78-72M1011 1694l2 8M419 1579l3-10M1105 1579l2 9M514 1687l1-8M1161 1436l5 10M614 1744l2-5M538 1036l1 8M412 1556l-1 14M955 1727l3-8M1047 1089l5-4M583 1735l3 8M1124 1566l-1-13M987 1035l0-3M409 1570l0-3M1000 1702l1 7M532 1040l2 8M428 1583l0 13M974 1722l4-12M1040 1079l6-5M494 1071l2 2M531 1698l3 10M1084 1615l1-13M999 1052l2-7M533 1046l2 7M428 1575l0 11M1042 1078l6-4M1041 1078l6-4M533 1043l1 7M428 1580l0 12M980 1704l2-9M501 1057l4 6M504 1678l3 13M1057 1660l2-11M1011 1049l2-3M1063 1100l10 0M611 992l0 6M393 1531l-3 10M994 1708l1-9M1113 1194l12 7M661 970l-6 10M357 1359l-2 4M879 1764l2-8M1157 1452l5 15M696 968l-13 7M461 1103l-21 13M722 1782l1-8M460 1644l0-5M1064 1646l0 10M777 960l-45 7M594 1736l0-7M369 1481l3-14M395 1214l11-7M795 1764l1 8M1086 1120l-19-12M864 982l-5-3M472 1084l9 1M1168 1350l-6-9M883 989l-6-9M966 1039l5-6M558 1029l5 6M514 1674l0 9M1124 1552l-2-11M918 1004l0-7M771 957l-58 10M666 976l-14 3M1163 1446l5 15M678 981l-20 12M450 1632l1-11M1058 1644l0 11M1092 1123l-18-12M849 975l-17-11M368 1440l5-13M936 1728l0 7M876 979l-5-8M396 1205l7-5M786 1770l0 7M1119 1578l-2-11M928 1001l1-6M483 1083l10 2M645 1748l2 9M1019 1685l1-8M972 1030l4-5M543 1034l6 6M530 1690l1 10M863 1766l2-8M1054 1095l10-1M602 990l0 8M400 1554l-2 11M452 1110l-17 11M723 1780l1-8M1143 1228l11 10M656 982l-7 9M370 1316l-9 13M796 1764l0 6M1092 1125l-12-8M838 971l-15-9M365 1449l4-14M467 1092l10 1M662 1759l1 7M880 985l-6-9M376 1234l12-9M547 1021l6 6M514 1689l0 2M1125 1566l-2-11M922 998l0-3M468 1085l9 1M603 1000l1 4M417 1574l-2 11M1032 1678l0-10M963 1022l4-6M661 975l-1 2M355 1356l-7 11M876 1762l0-2M1049 1083l11-1M709 960l-15 9M429 1137l-15 11M741 1766l1-6M1112 1194l10 6M1067 1621l0 11M594 1743l0-8M1160 1441l4 11M933 1743l0 7M917 985l-154-29M458 1640l0-10"/></g><use href="#p4_1" stroke="#ff3600" stroke-dasharray="5.2 15.6 5.2 30.2 2.8 21.8 4.4 30.6 4.2 9.4 3.8 18.8 3.8 31.0" stroke-dashoffset="6" stroke-linecap="butt"/><use href="#p4_1" stroke="#86ff00" stroke-dasharray="3.4 11.8 3.8 22.6 5.0 21.2 3.2 30.2 3.8 23.6 3.8 11.6 4.4 26.0" stroke-dashoffset="10" stroke-linecap="butt"/><use href="#p4_1" stroke="#f00" stroke-dasharray="3.0 18.0 3.4 10.4 3.0 31.0 4.8 16.0 4.4 7.0 5.0 20.0 4.6 13.2" stroke-dashoffset="20" stroke-linecap="butt"/><use href="#p4_1" stroke="#00ff51" stroke-dasharray="3.4 15.0 5.2 17.2 3.8 30.8 5.0 16.2 3.2 27.0 2.8 16.2 4.8 29.8" stroke-dashoffset="14" stroke-linecap="butt"/><g stroke="#f1ff00"><path id="p4_2" d="M981 1053l-1-9M451 1115l7 1M629 1746l3 9M1151 1480l-3-13M419 1581l2-8M1010 1685l1 8M544 1699l1-6M1121 1526l3 9M1073 1145l7 0M558 1027l-3 6M367 1392l-6 13M850 1767l3-8M1103 1151l-28-29M1007 1055l-26-25M372 1266l8-6M797 1770l3 7M429 1592l2-9M1021 1673l1 8M584 1732l1-6M1148 1477l3 8M696 1762l2-7M1148 1299l7 6M914 1742l3-8M1060 1109l6-2M549 1027l-1 8M385 1502l-2 13M566 1725l1-7M1140 1507l1 2M672 1753l2-5M1151 1332l7 7M561 1019l-17 19M410 1187l-18 22M751 1774l2-6M1138 1234l8 4M565 1716l3 9M1113 1572l-1-13M990 1046l1-9M486 1088l5 4M364 1341l7-8M852 1757l3 6M402 1549l2-9M986 1701l2 7M834 1761l2 8M359 1321l8-8M437 1611l2-9M1032 1667l1 4M557 1028l-11 14M394 1233l-13 19M777 1773l3-6M1125 1205l8 3M370 1281l9-7M809 1767l3 6M1010 1687l1 7M422 1569l2-9M1102 1570l3 9M515 1679l1-6M1157 1427l4 9M616 1739l1-6M539 1044l0 8M413 1544l-1 12M958 1719l2-9M1041 1092l6-3M476 1091l2 2M580 1726l3 9M1123 1553l-1-11M987 1043l0-8M409 1567l3-9M998 1695l2 7M534 1048l1 7M428 1571l0 12M978 1710l3-10M1035 1083l5-4M496 1073l5 4M529 1689l2 9M1085 1602l0-12M997 1059l2-7M535 1053l0 7M429 1565l-1 10M977 1713l3-10M1036 1082l6-4M1036 1082l5-4M534 1050l1 6M428 1569l0 11M982 1695l2-10M505 1063l5 5M502 1668l2 10M1059 1649l1-10M1009 1055l2-6M1054 1100l9 0M611 998l0 7M395 1521l-2 10M995 1699l1-8M1102 1188l11 6M655 980l-5 8M364 1349l-7 10M881 1756l1-7M586 1727l0-4M1153 1439l4 13M683 975l-21 12M484 1089l-23 14M723 1774l1-6M460 1639l0-10M1064 1636l0 10M732 967l-71 13M372 1467l4-11M950 1723l0 6M406 1207l11-6M794 1757l1 7M1067 1108l-21-14M883 993l-19-11M481 1085l9 1M650 1751l1 5M1162 1341l-8-11M888 998l-5-9M962 1044l4-5M563 1035l4 5M514 1665l0 9M1122 1541l-3-10M918 1012l0-8M713 967l-47 9M596 1737l0-5M1158 1432l5 14M658 993l-26 16M510 1080l-15 9M451 1621l0-11M1058 1634l0 10M1074 1111l-20-13M868 986l-19-11M373 1427l4-11M936 1721l0 7M1170 1362l-7-12M882 989l-6-10M403 1200l10-6M785 1764l1 6M1117 1567l-1-10M928 1007l0-6M493 1085l8 2M644 1741l1 7M1020 1677l0-8M969 1035l3-5M549 1040l5 5M530 1681l0 9M865 1758l1-8M1046 1096l8-1M602 998l0 7M402 1542l-2 12M471 1098l-19 12M724 1772l1-7M1132 1220l11 8M649 991l-6 9M379 1305l-9 11M795 1757l1 7M1080 1117l-17-11M854 981l-16-10M369 1435l5-13M477 1093l8 1M661 1750l1 9M1163 1327l-6-9M886 993l-6-8M388 1225l11-8M553 1027l4 4M513 1682l1 7M1123 1555l-2-10M922 1006l0-8M477 1086l3 0M604 1004l0 8M420 1563l-3 11M1032 1668l0-9M959 1028l4-6M660 977l-4 7M362 1345l-7 11M876 1760l1-8M1041 1083l8 0M694 969l-15 9M445 1126l-16 11M742 1760l0-7M1102 1189l10 5M1067 1612l0 9M594 1735l0-8M1155 1428l5 13M933 1736l0 7M458 1630l1-10M594 1729h0"/></g><use href="#p4_2" stroke="#ff3600" stroke-dasharray="3.4 11.8 3.8 22.6 5.0 21.2 3.2 30.2 3.8 23.6 3.8 11.6 4.4 26.0" stroke-dashoffset="12" stroke-linecap="butt"/><use href="#p4_2" stroke="#1bff00" stroke-dasharray="3.0 18.0 3.4 10.4 3.0 31.0 4.8 16.0 4.4 7.0 5.0 20.0 4.6 13.2" stroke-dashoffset="20" stroke-linecap="butt"/><use href="#p4_2" stroke="#f00" stroke-dasharray="3.4 15.0 5.2 17.2 3.8 30.8 5.0 16.2 3.2 27.0 2.8 16.2 4.8 29.8" stroke-dashoffset="34" stroke-linecap="butt"/><use href="#p4_2" stroke="#00ffbc" stroke-dasharray="3.0 8.0 4.6 22.2 3.0 19.2 2.6 24.2 3.8 24.4 2.6 22.8 3.4 19.0" stroke-dashoffset="18" stroke-linecap="butt"/><g stroke="#86ff00"><path id="p4_3" d="M984 1061l-3-8M458 1116l6 2M626 1739l3 7M1148 1467l-4-13M421 1573l2-10M1008 1678l2 7M545 1693l2-8M1119 1517l2 9M1066 1146l7-1M555 1033l-4 10M372 1378l-5 14M853 1759l3-7M1075 1122l-68-67M380 1260l12-8M794 1761l3 9M431 1583l2-8M1019 1666l2 7M585 1726l2-6M1144 1468l4 9M698 1755l2-6M1139 1291l9 8M917 1734l4-11M1051 1113l9-4M548 1035l-1 9M388 1488l-3 14M567 1718l1-6M1137 1498l3 9M674 1748l1-6M1144 1325l7 7M544 1038l-32 36M445 1146l-35 41M753 1768l4-8M1127 1228l11 6M563 1707l2 9M1112 1559l-2-17M990 1056l0-10M491 1092l4 3M371 1333l8-9M850 1750l2 7M404 1540l3-9M985 1695l1 6M831 1753l3 8M367 1313l8-7M439 1602l2-10M1031 1659l1 8M546 1042l-17 22M413 1208l-19 25M780 1767l2-6M1117 1202l8 3M379 1274l9-6M806 1760l3 7M1009 1680l1 7M424 1560l3-12M1100 1561l2 9M516 1673l1-6M1152 1419l5 8M617 1733l1-6M539 1052l0 10M415 1529l-2 15M960 1710l2-7M1036 1096l5-4M478 1093l6 3M578 1718l2 8M1122 1542l-2-12M987 1049l0-6M412 1558l2-8M997 1689l1 6M535 1055l1 7M429 1561l-1 10M981 1700l2-12M1028 1089l7-6M501 1077l4 5M527 1680l2 9M1085 1590l0-13M996 1067l1-8M535 1060l1 6M429 1554l0 11M980 1703l3-13M1029 1088l7-6M1032 1085l4-3M535 1056l1 7M429 1559l-1 10M984 1685l1-8M510 1068l5 8M500 1655l2 13M1060 1639l1-10M1006 1060l3-5M1044 1100l10 0M611 1005l-1 6M398 1513l-3 8M996 1691l0-8M1090 1183l12 5M650 988l-6 10M373 1335l-9 14M882 1749l0-6M586 1723l0-10M1146 1422l7 17M662 987l-43 24M528 1063l-44 26M724 1768l0-8M460 1629l0-11M1064 1625l0 11M376 1456l3-11M950 1717l0 6M417 1201l11-6M793 1751l1 6M1046 1094l-26-17M908 1008l-25-15M490 1086l9 2M649 1742l1 9M1154 1330l-10-14M896 1009l-8-11M958 1049l4-5M567 1040l4 6M514 1657l0 8M1119 1531l-3-11M918 1020l0-8M596 1732l-1-9M1152 1416l6 16M632 1009l-122 71M451 1610l1-13M1058 1623l0 11M1054 1098l-23-15M891 999l-23-13M377 1416l5-11M936 1715l0 6M1163 1350l-9-14M889 1000l-7-11M413 1194l11-6M785 1758l0 6M1116 1557l-3-10M927 1015l1-8M501 1087l9 2M643 1732l1 9M1020 1669l0-8M965 1039l4-4M554 1045l5 6M530 1671l0 10M866 1750l1-9M1035 1097l11-1M602 1005l0 9M405 1530l-3 12M491 1086l-20 12M725 1765l0-8M1119 1211l13 9M643 1000l-7 9M387 1294l-8 11M795 1751l0 6M1063 1106l-20-13M872 992l-18-11M374 1422l7-15M485 1094l11 1M660 1742l1 8M1157 1318l-8-10M892 1002l-6-9M399 1217l13-8M557 1031l5 7M513 1670l0 12M1121 1545l-3-10M922 1013l0-7M604 1012l1 8M422 1550l-2 13M1032 1659l0-11M955 1034l4-6M656 984l-5 7M368 1336l-6 9M877 1752l1-10M1029 1085l12-2M679 978l-15 10M462 1114l-17 12M742 1753l0-6M1093 1184l9 5M1066 1602l1 10M594 1727l-1-10M1149 1412l6 16M933 1730l0 6M459 1620l0-8"/></g><use href="#p4_3" stroke="#ffa100" stroke-dasharray="3.0 18.0 3.4 10.4 3.0 31.0 4.8 16.0 4.4 7.0 5.0 20.0 4.6 13.2" stroke-dashoffset="18" stroke-linecap="butt"/><use href="#p4_3" stroke="#00ff51" stroke-dasharray="3.4 15.0 5.2 17.2 3.8 30.8 5.0 16.2 3.2 27.0 2.8 16.2 4.8 29.8" stroke-dashoffset="30" stroke-linecap="butt"/><use href="#p4_3" stroke="#f00" stroke-dasharray="3.0 8.0 4.6 22.2 3.0 19.2 2.6 24.2 3.8 24.4 2.6 22.8 3.4 19.0" stroke-dashoffset="48" stroke-linecap="butt"/><use href="#p4_3" stroke="#00d6ff" stroke-dasharray="5.0 19.2 5.2 8.2 4.2 15.8 4.6 10.6 4.8 20.2 5.0 18.4 3.6 26.6" stroke-dashoffset="22" stroke-linecap="butt"/><g stroke="#1bff00"><path id="p4_4" d="M987 1072l-3-11M464 1118l11 4M622 1726l4 13M1144 1454l-8-27M423 1563l5-17M1006 1664l2 14M547 1685l2-12M1112 1500l7 17M1055 1148l11-2M551 1043l-10 22M386 1348l-14 30M856 1752l5-15M392 1252l20-11M789 1746l5 15M433 1575l4-16M1017 1653l2 13M587 1720l2-11M1137 1452l7 16M700 1749l4-14M1122 1278l17 13M921 1723l4-18M1038 1119l13-6M547 1044l-3 18M395 1461l-7 27M568 1712l2-11M1131 1482l6 16M675 1742l3-8M1133 1314l11 11M512 1074l-67 72M757 1760l4-14M1108 1220l19 8M559 1693l4 14M1110 1542l-3-28M989 1075l1-19M495 1095l10 8M379 1324l16-15M846 1736l4 14M407 1531l4-13M983 1685l2 10M827 1739l4 14M375 1306l15-14M441 1592l5-18M1028 1642l3 17M529 1064l-116 144M782 1761l4-11M1101 1198l16 4M388 1268l17-12M802 1746l4 14M1006 1665l3 15M427 1548l6-19M1095 1543l5 18M517 1667l2-10M1142 1403l10 16M618 1727l2-8M539 1062l0 19M420 1502l-5 27M962 1703l4-16M1027 1103l9-7M484 1096l10 7M574 1703l4 15M1120 1530l-3-22M987 1064l0-15M414 1550l4-14M995 1678l2 11M536 1062l1 14M431 1538l-2 23M983 1688l4-21M1018 1100l10-11M505 1082l7 8M525 1664l2 16M1085 1577l-2-24M993 1083l3-16M536 1066l1 12M431 1537l-2 17M983 1690l3-20M1019 1098l10-10M1024 1093l8-8M536 1063l1 11M431 1541l-2 18M985 1677l3-16M515 1076l7 13M498 1632l2 23M1061 1629l1-16M1003 1070l3-10M1027 1102l17-2M610 1011l-2 12M403 1496l-5 17M996 1683l0-15M968 1053l0-1M1070 1175l20 8M644 998l-13 19M390 1311l-17 24M882 1743l1-12M586 1713l-1-18M1134 1395l12 27M619 1011l-91 52M724 1760l1-15M460 1618l0-20M1064 1605l0 20M379 1445l7-18M950 1706l0 11M428 1195l20-9M793 1737l0 14M1020 1077l-112-69M499 1088l18 5M647 1727l2 15M1144 1316l-20-28M912 1031l-16-22M956 1053l2-4M571 1046l7 11M515 1639l-1 18M1116 1520l-7-20M919 1035l-1-15M595 1723l0-16M1140 1390l12 26M452 1597l2-22M1057 1601l1 22M1031 1083l-140-84M382 1405l11-20M936 1701l0 14M1154 1336l-19-27M903 1020l-14-20M424 1188l19-8M784 1744l1 14M1113 1547l-5-20M927 1029l0-14M510 1089l16 6M642 1716l1 16M1020 1661l-1-11M961 1046l4-7M559 1051l9 13M530 1651l0 20M867 1741l2-15M1018 1101l17-4M602 1014l-2 17M411 1507l-6 23M508 1076l-17 10M725 1757l1-15M1096 1199l23 12M636 1009l-16 21M406 1270l-19 24M795 1739l0 12M1043 1093l-58-35M929 1025l-57-33M381 1407l12-25M496 1095l17 4M658 1725l2 17M1149 1308l-14-20M903 1016l-11-14M412 1209l22-12M562 1038l9 12M514 1651l-1 19M1118 1535l-5-20M922 1027l0-14M605 1020l0 16M428 1530l-6 20M1032 1648l-2-19M947 1047l8-13M651 991l-10 14M381 1318l-13 18M878 1742l2-17M1010 1090l19-5M664 988l-40 24M504 1086l-42 28M742 1747l0-9M1079 1179l14 5M1065 1585l1 17M593 1717l0-16M1136 1385l13 27M933 1715l0 15M459 1612l1-16"/></g><use href="#p4_4" stroke="#f1ff00" stroke-dasharray="3.4 15.0 5.2 17.2 3.8 30.8 5.0 16.2 3.2 27.0 2.8 16.2 4.8 29.8" stroke-dashoffset="24" stroke-linecap="butt"/><use href="#p4_4" stroke="#00ffbc" stroke-dasharray="3.0 8.0 4.6 22.2 3.0 19.2 2.6 24.2 3.8 24.4 2.6 22.8 3.4 19.0" stroke-dashoffset="40" stroke-linecap="butt"/><use href="#p4_4" stroke="#006bff" stroke-dasharray="5.2 15.6 5.2 30.2 2.8 21.8 4.4 30.6 4.2 9.4 3.8 18.8 3.8 31.0" stroke-dashoffset="26" stroke-linecap="butt"/><g stroke="#00ff51"><path id="p4_5" d="M993 1092l-6-20M475 1122l13 5M618 1710l4 16M1136 1427l-11-33M428 1546l6-20M1003 1647l3 17M549 1673l3-16M1104 1480l8 20M865 1721l4-15M1041 1152l14-4M541 1065l-15 30M404 1310l-18 38M861 1737l5-18M412 1241l22-9M784 1729l5 17M437 1559l5-19M1014 1636l3 17M589 1709l3-14M1126 1432l11 20M704 1735l4-14M1103 1267l19 11M925 1705l5-21M1023 1129l15-10M544 1062l-6 24M404 1429l-9 32M570 1701l3-14M1123 1463l8 19M678 1734l3-13M1117 1301l16 13M761 1746l5-16M1087 1214l21 6M556 1673l3 20M1107 1514l-7-33M991 1098l-2-23M505 1103l10 11M395 1309l19-15M843 1722l3 14M411 1518l7-19M981 1671l2 14M823 1722l4 17M390 1292l19-14M446 1574l5-22M1024 1623l4 19M786 1750l5-15M1084 1194l17 4M405 1256l21-10M798 1731l4 15M1003 1648l3 17M433 1529l8-22M1089 1523l6 20M519 1657l2-14M1130 1385l12 18M620 1719l3-13M539 1081l-3 22M426 1470l-6 32M966 1687l3-19M1017 1112l10-9M494 1103l10 8M570 1683l4 20M1117 1508l-5-25M989 1082l-2-18M418 1536l6-18M993 1663l2 15M537 1076l0 19M435 1512l-4 26M987 1667l2-24M1007 1114l11-14M512 1090l8 12M522 1644l3 20M1083 1553l-3-28M992 1103l1-20M537 1078l0 16M435 1513l-4 24M986 1670l3-24M1008 1112l11-14M1016 1102l8-9M537 1074l0 17M434 1518l-3 23M988 1661l1-19M522 1089l7 17M497 1605l1 27M1062 1613l0-22M998 1083l5-13M1009 1106l18-4M608 1023l-2 16M410 1476l-7 20M996 1668l-1-19M959 1065l9-12M1046 1168l24 7M631 1017l-19 25M413 1281l-23 30M883 1731l1-16M585 1695l0-19M1118 1366l16 29M725 1745l0-17M460 1598l2-25M1062 1580l2 25M386 1427l11-24M950 1690l0 16M448 1186l23-7M792 1721l1 16M517 1093l17 6M647 1709l0 18M1124 1288l-26-34M934 1061l-22-30M578 1057l7 13M517 1621l-2 18M1109 1500l-8-24M922 1054l-3-19M595 1707l-1-19M1124 1360l16 30M454 1575l3-26M1055 1576l2 25M393 1385l14-25M936 1685l0 16M1135 1309l-24-32M922 1048l-19-28M443 1180l24-8M784 1729l0 15M1108 1527l-6-24M928 1046l-1-17M526 1095l17 7M642 1698l0 18M1019 1650l-1-16M954 1057l7-11M568 1064l9 14M532 1631l-2 20M869 1726l1-18M1000 1107l18-6M600 1031l-3 19M419 1481l-8 26M726 1742l0-16M1071 1187l25 12M620 1030l-23 26M434 1238l-28 32M795 1725l0 14M985 1058l-56-33M393 1382l17-29M513 1099l19 7M658 1708l0 17M1135 1288l-21-26M921 1039l-18-23M434 1197l26-11M571 1050l8 15M515 1630l-1 21M1113 1515l-7-22M924 1044l-2-17M605 1036l0 1M428 1527l0 3M1030 1629l0-1M947 1048l0-1M641 1005l-15 21M400 1293l-19 25M880 1725l0-18M991 1096l19-6M624 1012l-120 74M742 1738l1-13M1058 1172l21 7M1065 1579l0 6M593 1701l-1-19M1119 1356l17 29M934 1699l-1 16M460 1596l2-21M1063 1581l1 9"/></g><use href="#p4_5" stroke="#86ff00" stroke-dasharray="3.0 8.0 4.6 22.2 3.0 19.2 2.6 24.2 3.8 24.4 2.6 22.8 3.4 19.0" stroke-dashoffset="30" stroke-linecap="butt"/><use href="#p4_5" stroke="#00d6ff" stroke-dasharray="5.0 19.2 5.2 8.2 4.2 15.8 4.6 10.6 4.8 20.2 5.0 18.4 3.6 26.6" stroke-dashoffset="50" stroke-linecap="butt"/><g stroke="#00ffbc"><path id="p4_6" d="M1002 1117l-9-25M488 1127l14 8M614 1692l4 18M1125 1394l-16-39M434 1526l8-23M1000 1629l3 18M552 1657l3-17M1094 1458l10 22M869 1706l3-16M1025 1158l16-6M526 1095l-28 51M437 1251l-33 59M866 1719l1-6M434 1232l25-8M780 1710l4 19M442 1540l7-21M1011 1618l3 18M592 1695l2-16M1115 1412l11 20M708 1721l3-18M1081 1256l22 11M930 1684l3-24M1008 1141l15-12M538 1086l-9 29M417 1390l-13 39M573 1687l3-16M1112 1442l11 21M681 1721l2-14M1100 1288l17 13M766 1730l4-19M1064 1209l23 5M553 1652l3 21M1100 1481l-9-38M995 1128l-4-30M515 1114l9 12M414 1294l22-15M839 1705l4 17M418 1499l8-20M978 1655l3 16M819 1703l4 19M409 1278l21-12M451 1552l8-23M1020 1602l4 21M791 1735l4-16M1065 1192l19 2M426 1246l22-9M794 1714l4 17M999 1628l4 20M441 1507l9-25M1080 1499l9 24M521 1643l3-16M1115 1365l15 20M623 1706l2-14M536 1103l-4 29M436 1433l-10 37M969 1668l2-20M1007 1124l10-12M504 1111l11 11M567 1663l3 20M1112 1483l-7-31M992 1105l-3-23M424 1518l7-21M990 1647l3 16M537 1095l-1 23M441 1481l-6 31M989 1643l2-27M997 1130l10-16M520 1102l8 14M521 1621l1 23M1080 1525l-6-31M991 1126l1-23M537 1094l-1 20M440 1486l-5 27M989 1646l2-27M998 1128l10-16M1006 1115l10-13M537 1091l-1 20M439 1491l-5 27M989 1642l2-22M529 1106l7 20M498 1575l-1 30M1062 1591l-1-24M995 1098l3-15M990 1113l19-7M606 1039l-5 18M419 1451l-9 25M995 1649l-1-20M950 1079l9-14M1020 1163l26 5M612 1042l-27 34M445 1241l-32 40M884 1715l0-17M585 1676l0-22M1097 1336l21 30M725 1728l0-18M462 1573l3-28M1060 1552l2 28M397 1403l13-25M951 1672l-1 18M471 1179l26-6M792 1703l0 18M534 1099l18 9M647 1689l0 20M1098 1254l-46-54M976 1111l-42-50M585 1070l7 17M521 1599l-4 22M1101 1476l-11-27M926 1076l-4-22M594 1688l0-22M1103 1331l21 29M457 1549l5-30M1051 1549l4 27M407 1360l18-25M936 1667l0 18M1111 1277l-35-43M953 1087l-31-39M467 1172l24-6M784 1713l0 16M1102 1503l-9-25M931 1067l-3-21M543 1102l17 10M642 1678l0 20M1018 1634l-1-17M948 1070l6-13M577 1078l8 17M535 1607l-3 24M870 1708l0-19M981 1115l19-8M597 1050l-5 24M430 1452l-11 29M726 1726l0-20M1042 1178l29 9M597 1056l-40 46M478 1188l-44 50M795 1709l0 16M410 1353l21-28M532 1106l19 8M658 1688l0 20M1114 1262l-29-35M946 1069l-25-30M460 1186l28-8M579 1065l8 17M518 1606l-3 24M1106 1493l-9-26M927 1065l-3-21M626 1026l-19 25M423 1264l-23 29M880 1707l-1-21M971 1106l20-10M743 1725l-1-15M1038 1167l20 5M592 1682l0-22M1098 1326l21 30M934 1681l0 18M462 1575l2-23M1061 1558l2 23"/></g><use href="#p4_6" stroke="#1bff00" stroke-dasharray="5.0 19.2 5.2 8.2 4.2 15.8 4.6 10.6 4.8 20.2 5.0 18.4 3.6 26.6" stroke-dashoffset="36" stroke-linecap="butt"/><use href="#p4_6" stroke="#006bff" stroke-dasharray="5.2 15.6 5.2 30.2 2.8 21.8 4.4 30.6 4.2 9.4 3.8 18.8 3.8 31.0" stroke-dashoffset="60" stroke-linecap="butt"/><g stroke="#00d6ff"><path id="p4_7" d="M1013 1143l-11-26M502 1135l13 9M611 1672l3 20M1109 1355l-27-61M1026 1175l-17-40M442 1503l10-24M995 1608l5 21M555 1640l3-20M1082 1436l12 22M872 1690l2-19M1010 1165l15-7M498 1146l-61 105M459 1224l26-5M776 1689l4 21M449 1519l9-23M1006 1597l5 21M594 1679l3-18M1099 1390l16 22M711 1703l3-18M1057 1246l24 10M933 1660l2-25M994 1155l14-14M529 1115l-15 43M437 1340l-20 50M576 1671l3-17M1099 1420l13 22M683 1707l3-16M1081 1276l19 12M770 1711l3-21M1040 1207l24 2M552 1630l1 22M1091 1443l-14-47M1003 1167l-8-39M524 1126l11 16M436 1279l24-13M836 1685l3 20M426 1479l10-22M975 1637l3 18M815 1682l4 21M430 1266l23-12M459 1529l9-26M1015 1578l5 24M795 1719l3-18M1044 1192l21 0M448 1237l24-7M791 1694l3 20M995 1607l4 21M450 1482l13-26M1070 1475l10 24M524 1627l3-17M1097 1346l18 19M625 1692l3-15M532 1132l-10 40M451 1386l-15 47M971 1648l1-24M996 1138l11-14M515 1122l12 13M565 1641l2 22M1105 1452l-11-36M998 1133l-6-28M431 1497l10-22M986 1629l4 18M536 1118l-3 28M449 1446l-8 35M991 1616l0-29M987 1150l10-20M528 1116l7 16M521 1597l0 24M1074 1494l-8-38M993 1155l-2-29M536 1114l-2 25M447 1455l-7 31M991 1619l0-29M988 1148l10-20M998 1129l8-14M536 1111l-2 23M445 1461l-6 30M991 1620l0-23M536 1126l5 24M500 1544l-2 31M1061 1567l-3-26M991 1118l4-20M971 1121l19-8M601 1057l-6 23M430 1425l-11 26M994 1629l-3-22M942 1095l8-16M993 1162l27 1M585 1076l-140 165M884 1698l-1-17M585 1654l0-26M1071 1305l26 31M725 1710l0-21M465 1545l5-31M1055 1521l5 31M410 1378l17-26M951 1654l0 18M497 1173l26-2M792 1683l0 20M552 1108l18 11M648 1668l-1 21M1052 1200l-76-89M592 1087l6 18M525 1576l-4 23M1090 1449l-14-31M933 1103l-7-27M594 1666l-1-24M1078 1300l25 31M462 1519l7-31M1046 1518l5 31M425 1335l21-25M936 1647l0 20M1076 1234l-123-147M491 1166l27-3M784 1693l0 20M1093 1478l-11-30M936 1091l-5-24M560 1112l17 13M643 1657l-1 21M1017 1617l-3-20M943 1084l5-14M585 1095l8 20M539 1582l-4 25M870 1689l0-21M963 1126l18-11M592 1074l-7 28M444 1418l-14 34M726 1706l-1-20M1013 1172l29 6M557 1102l-79 86M795 1692l0 17M431 1325l26-29M551 1114l19 12M658 1667l0 21M1085 1227l-139-158M488 1178l30-5M587 1082l6 20M523 1580l-5 26M1097 1467l-12-28M933 1089l-6-24M607 1051l-29 35M456 1224l-33 40M879 1686l-1-23M951 1118l20-12M742 1710l0-16M1014 1164l24 3M592 1660l0-25M1072 1297l26 29M934 1660l0 21M464 1552l5-26M1057 1532l4 26"/></g><use href="#p4_7" stroke="#00ff51" stroke-dasharray="5.2 15.6 5.2 30.2 2.8 21.8 4.4 30.6 4.2 9.4 3.8 18.8 3.8 31.0" stroke-dashoffset="42" stroke-linecap="butt"/><use href="#p4_7" stroke="#0100ff" stroke-dasharray="3.4 11.8 3.8 22.6 5.0 21.2 3.2 30.2 3.8 23.6 3.8 11.6 4.4 26.0" stroke-dashoffset="70" stroke-linecap="butt"/><g stroke="#006bff"><path id="p4_8" d="M515 1144l14 11M609 1650l2 22M1082 1294l-56-119M452 1479l12-26M990 1584l5 24M558 1620l4-21M1066 1411l16 25M874 1671l2-20M994 1175l16-10M485 1219l28-1M773 1666l3 23M458 1496l10-25M1001 1574l5 23M597 1661l3-18M1082 1369l17 21M714 1685l3-21M1031 1240l26 6M935 1635l0-27M980 1173l14-18M514 1158l-21 53-56 129M579 1654l3-19M1084 1397l15 23M686 1691l3-16M1060 1266l21 10M773 1690l3-21M1014 1208l26-1M551 1605l1 25M1077 1396l-28-82M1024 1241l-21-74M535 1142l9 17M460 1266l26-10M833 1665l3 20M436 1457l13-23M971 1618l4 19M812 1659l3 23M453 1254l26-9M468 1503l11-27M1008 1552l7 26M798 1701l3-19M1023 1194l21-2M472 1230l27-4M788 1674l3 20M990 1584l5 23M463 1456l15-27M1057 1449l13 26M527 1610l5-20M1077 1328l20 18M628 1677l3-17M522 1172l-25 82M482 1296l-31 90M972 1624l0-25M987 1155l9-17M527 1135l11 15M564 1616l1 25M1094 1416l-15-46M1009 1173l-11-40M441 1475l12-24M983 1609l3 20M533 1146l-7 36M461 1403l-12 43M991 1587l-2-33M979 1174l8-24M535 1132l7 19M522 1570l-1 27M1066 1456l-11-46M999 1195l-6-40M534 1139l-5 29M457 1418l-10 37M991 1590l-2-31M979 1172l9-24M990 1145l8-16M534 1134l-4 29M455 1425l-10 36M991 1597l-1-27M541 1150l4 29M505 1506l-5 38M1058 1541l-4-30M990 1140l1-22M951 1133l20-12M595 1080l-9 25M445 1394l-15 31M991 1607l-4-23M935 1113l7-18M965 1164l28-2M883 1681l-1-21M585 1628l1-27M1040 1277l31 28M725 1689l-1-22M470 1514l8-35M1048 1488l7 33M427 1352l20-27M950 1633l1 21M523 1171l28 0M793 1663l-1 20M570 1119l17 14M649 1646l-1 22M598 1105l4 20M531 1550l-6 26M1076 1418l-17-38M945 1137l-12-34M593 1642l0-26M1046 1272l32 28M469 1488l12-37M1038 1484l8 34M446 1310l24-24M936 1624l0 23M518 1163l27 0M785 1673l-1 20M1082 1448l-14-34M943 1120l-7-29M577 1125l17 16M645 1633l-2 24M1014 1597l-3-21M938 1100l5-16M593 1115l6 24M544 1555l-5 27M870 1668l-2-24M945 1140l18-14M585 1102l-13 36M462 1376l-18 42M725 1686l-1-23M982 1170l31 2M796 1673l-1 19M457 1296l30-26M570 1126l18 14M660 1644l-2 23M518 1173l31 0M593 1102l6 23M528 1553l-5 27M1085 1439l-15-34M941 1117l-8-28M578 1086l-122 138M878 1663l-3-24M933 1134l18-16M742 1694l-1-17M991 1163l23 1M592 1635l0-27M1040 1269l32 28M935 1637l-1 23M469 1526l5-27M1051 1505l6 27"/></g><use href="#p4_8" stroke="#00ffbc" stroke-dasharray="3.4 11.8 3.8 22.6 5.0 21.2 3.2 30.2 3.8 23.6 3.8 11.6 4.4 26.0" stroke-dashoffset="48" stroke-linecap="butt"/><use href="#p4_8" stroke="#6c00ff" stroke-dasharray="3.0 18.0 3.4 10.4 3.0 31.0 4.8 16.0 4.4 7.0 5.0 20.0 4.6 13.2" stroke-dashoffset="80" stroke-linecap="butt"/><g stroke="#0100ff"><path id="p4_9" d="M529 1155l14 15M607 1627l2 23M464 1453l16-27M984 1561l6 23M562 1599l6-24M1049 1387l17 24M876 1651l2-23M979 1187l15-12M513 1218l27 3M770 1642l3 24M468 1471l14-26M995 1551l6 23M600 1643l4-21M1061 1348l21 21M717 1664l3-22M1005 1237l26 3M935 1608l0-31M967 1195l13-22M582 1635l4-21M1066 1375l18 22M689 1675l3-20M1036 1257l24 9M776 1669l3-24M990 1212l24-4M552 1578l-1 27M1049 1314l-25-73M544 1159l8 22M552 1563l0 7M486 1256l28-7M830 1643l3 22M449 1434l15-24M967 1597l4 21M809 1635l3 24M479 1245l27-5M479 1476l15-29M1000 1525l8 27M801 1682l3-21M1002 1199l21-5M499 1226l26-1M785 1651l3 23M984 1559l6 25M478 1429l19-27M1041 1422l16 27M532 1590l5-20M1069 1321l8 7M631 1660l3-19M1059 1314l17 13M497 1254l-15 42M972 1599l0-26M978 1175l9-20M538 1150l10 19M564 1590l0 26M1079 1370l-49-133-21-64M453 1451l13-24M978 1586l5 23M526 1182l-17 66M484 1330l-23 73M989 1554l-3-36M972 1203l7-29M542 1151l6 22M524 1540l-2 30M1055 1410l-25-87M1017 1275l-18-80M529 1168l-10 45M472 1367l-15 51M989 1559l-3-37M972 1200l7-28M982 1165l8-20M530 1163l-9 42M469 1378l-14 47M990 1570l-2-29M545 1179l1 37M512 1462l-7 44M1054 1511l-5-32M989 1166l1-26M940 1141l11-8M586 1105l-7 20M455 1372l-10 22M987 1584l-3-16M931 1125l4-12M949 1167l16-3M882 1660l-1-11M586 1601l2-31M1002 1252l38 25M724 1667l-1-25M478 1479l11-35M1038 1452l10 36M447 1325l25-26M950 1610l0 23M551 1171l28 5M793 1640l0 23M587 1133l17 17M652 1621l-3 25M602 1125l4 25M537 1523l-6 27M1059 1380l-26-52M964 1184l-19-47M593 1616l1-29M1011 1249l35 23M481 1451l15-36M1026 1446l12 38M470 1286l30-22M935 1600l1 24M545 1163l16 2M785 1660l0 13M1068 1414l-18-41M955 1158l-12-38M594 1141l14 18M648 1608l-3 25M1011 1576l-5-23M934 1119l4-19M599 1139l4 26M550 1523l-6 32M868 1644l-2-24M927 1157l18-17M572 1138l-23 57M492 1315l-30 61M724 1663l-1-25M950 1173l32-3M796 1661l0 12M487 1270l20-13M588 1140l17 17M662 1619l-2 25M549 1173l30 3M599 1125l3 27M536 1521l-8 32M1070 1405l-19-41M954 1155l-13-38M875 1639l-1-16M922 1145l11-11M741 1677l0-11M977 1164l14-1M592 1608l1-29M1004 1246l36 23M934 1613l1 24M474 1499l9-31M1043 1474l8 31"/></g><use href="#p4_9" stroke="#00d6ff" stroke-dasharray="3.0 18.0 3.4 10.4 3.0 31.0 4.8 16.0 4.4 7.0 5.0 20.0 4.6 13.2" stroke-dashoffset="54" stroke-linecap="butt"/><use href="#p4_9" stroke="#f0f" stroke-dasharray="3.4 15.0 5.2 17.2 3.8 30.8 5.0 16.2 3.2 27.0 2.8 16.2 4.8 29.8" stroke-dashoffset="90" stroke-linecap="butt"/><g stroke="#6c00ff"><path id="p4_10" d="M543 1170l13 17M607 1601l0 26M480 1426l19-26M977 1534l7 27M568 1575l6-24M1027 1364l22 23M878 1628l1-23M964 1201l15-14M540 1221l28 7M767 1614l3 28M482 1445l16-26M987 1525l8 26M604 1622l4-22M1038 1328l23 20M720 1642l3-24M977 1237l28 0M935 1577l-1-34M955 1221l12-26M586 1614l4-23M1045 1353l21 22M692 1655l2-19M1011 1251l25 6M779 1645l3-25M965 1220l25-8M553 1561l-1 17M552 1181l7 22M554 1534l-2 29M514 1249l29-3M827 1618l3 25M464 1410l17-23M962 1574l5 23M806 1609l3 26M506 1240l27-3M494 1447l18-29M989 1496l11 29M804 1661l2-22M980 1206l22-7M525 1225l26 3M782 1628l3 23M976 1532l8 27M497 1402l24-28M1021 1395l20 27M537 1570l5-22M634 1641l3-20M1037 1300l22 14M972 1573l-2-28M970 1196l8-21M548 1169l9 22M565 1561l-1 29M466 1427l17-25M972 1564l6 22M509 1248l-25 82M986 1518l-5-44M966 1242l6-39M548 1173l4 28M528 1506l-4 34M1030 1323l-13-48M519 1213l-16 56-31 98M986 1522l-5-44M967 1237l5-37M975 1188l7-23M521 1205l-17 61-35 112M988 1541l-3-25M546 1216l-3 60M524 1395l-12 67M1049 1479l-9-42M991 1200l-2-34M588 1570l3-32M961 1234l21 8 20 10M723 1642l-1-25M489 1444l16-40M1022 1412l16 40M472 1299l28-24M948 1585l2 25M579 1176l27 8M794 1614l-1 26M604 1150l14 20M655 1594l-3 27M606 1150l1 28M546 1491l-9 32M1033 1328l-43-86-26-58M594 1587l2-31M971 1230l21 8 19 11M496 1415l21-40M1008 1406l18 40M500 1264l33-19M933 1574l2 26M1050 1373l-31-66M980 1221l-25-63M608 1159l15 22M651 1581l-3 27M1006 1553l-6-24M930 1140l4-21M603 1165l3 32M559 1488l-9 35M866 1620l-2-27M912 1176l15-19M549 1195l-57 120M723 1638l-1-25M919 1180l31-7M605 1157l16 20M665 1592l-3 27M579 1176l31 9M602 1152l2 31M545 1486l-9 35M1051 1364l-34-69M982 1220l-28-65M593 1579l3-30M966 1229l38 17M933 1587l1 26M483 1468l12-33M1032 1442l11 32"/></g><g stroke="#f0f"><path id="p4_11" d="M556 1187l17 30 14 34 10 38 8 43 3 43 2 48-3 178M499 1400l27-31 30-26 32-22 34-15 36-11 36-4 36 1 37 7 34 13 33 18 32 23 28 28 25 31 22 37 19 40 17 45M574 1551l14-44 16-40 20-37 23-34 25-29 27-25 30-21 33-16 33-11 35-6 36-1 35 5 34 11 32 15 31 20 29 26M879 1605l5-161 5-51 7-46 12-44 15-39 19-34 22-29M568 1228l21 8 20 10 19 13 17 15 17 17 16 20 14 21 13 23 12 24 10 27 17 58 12 64 11 86M498 1419l26-34 29-29 32-24 34-19 36-13 37-7 37-1 37 5 36 11 35 17 32 22 30 27 27 31 23 36 20 39 18 45M608 1600l11-51 14-45 16-41 19-37 21-34 25-30 27-27 29-21 33-17 33-12 34-6 35-1 35 4 34 10 33 15 31 21M723 1618l14-90 8-36 9-33 10-32 12-28 14-28 15-25 18-23 18-21 21-18 20-15 23-13 24-9 24-7 24-3M934 1543l-5-122 2-76 3-35 5-33 7-29 9-27M590 1591l13-51 14-45 18-41 21-38 24-33 26-29 30-26 32-19 35-15 35-9 37-3 36 3 36 8 35 15 32 20 31 25M694 1636l9-57 8-45 10-39 11-37 13-35 16-32 17-29 20-26 22-24 24-21 25-16 27-13 28-9 29-5 30 0 28 3M782 1620l9-92 11-64 15-59 19-51 12-23 13-22 15-21 16-18 16-15 18-14 19-12 20-9M543 1246l26 0 27 4 25 8 25 11 24 14 23 17 21 20 19 23 17 25 16 27 14 30 12 32 10 34 9 37 16 90M481 1387l29-30 32-26 35-20 36-14 38-8 38-2 37 5 37 11 35 17 33 22 29 28 28 32 23 36 20 41 17 45 14 50M759 1411l15 41 12 45 11 51 9 61M533 1237l35 3 36 9 32 14 31 21 29 27 25 31 22 37 19 41M512 1418l25-32 28-28 30-23 32-18 35-14 35-8 35-2 36 3 35 9 33 13 31 19 30 24 27 27 25 32 21 36 19 40M806 1639l9-113 9-64 13-61 17-53 11-25 13-23 14-21 15-19 17-17 17-15 20-12 19-10M551 1228l23 5 23 9 22 11 21 15 20 16 18 20 17 22 16 24 13 26 12 27 10 30 10 32 14 69 12 94M651 1297l26-5 25-1 26 1 25 4 25 7 24 9 23 12 22 14 21 17 20 19 18 22 17 23 16 25 14 28 12 28 11 32M521 1374l31-29 34-23 36-16 38-11M874 1298l21 6 20 7 19 10 19 12 36 28 32 34M542 1548l11-33 13-31 13-30 17-27 17-26 19-22 21-21 22-18 24-16 25-12 26-10 26-7 26-3 27-1 26 3 28 6M637 1621l10-54 12-46 13-42 16-38 19-36 22-32 24-28 26-24 29-20 31-16 33-11 33-5 34 0 33 5 33 10 32 16M557 1191l9 28 6 32 5 35 1 37-1 76-12 162M483 1402l28-32 31-28 35-23 36-16 37-10 39-4 37 3 38 9 35 15 34 20 31 26 29 32 25 36 21 40 18 44 15 50M981 1474l-10-83-5-56-1-50 1-43M552 1201l4 51-3 60-6 61-19 133M981 1478l-10-89-5-57-1-51 2-44M986 1526l-16-145-5-70 0-35 1-32 4-29 5-27M543 1276l-7 52-12 67M1040 1437l-35-152-9-45-5-40M591 1538l7-41 10-39 12-36 15-34 18-31 20-29 23-26 24-23 27-20 29-15 29-12 31-8 32-4 32 1 31 4 30 9M722 1617l0-56 2-49M505 1404l22-39 26-35 30-31 32-26 35-20 37-15 39-8 40-3 40 4 38 10 37 16 35 21 31 27 30 32 24 36 21 39M500 1275l36-22 36-16 37-10 39-4 38 2 39 9 36 14 35 20 31 25 28 30 25 35 22 38 17 43 14 45 9 49 6 52M606 1184l23 10 22 13 20 15 20 18 18 20 16 23 15 24 13 27 11 28 9 30 8 32 5 32 5 36 2 37 1 85M618 1170l20 34 15 39 10 43 7 49 2 50-2 57-5 60-10 92M607 1178l-2 57-10 67-17 73-32 116M596 1556l6-44 9-41 11-39 14-37 17-33 20-31 23-29 25-24 27-21 29-17 31-12 32-9 33-4 34 0 33 6 31 9M517 1375l24-33 27-29 29-25 31-21 34-16 35-11 36-5 37-1 36 5 35 10 34 15 32 20 29 24 27 29 24 32 21 37M533 1245l34-13 34-8 34-3 36 2 33 6 34 12 32 17 29 21 27 25 25 29 21 33 19 35 15 39 12 41 9 45 6 48M1019 1307l-39-86M623 1181l16 34 13 37 8 42 6 45 1 48-2 52-5 58-9 84M1000 1529l-44-169-17-78-6-39-4-38-1-33 2-32M606 1197l-2 55-7 63-14 70-24 103M864 1593l-8-89-4-60 0-56 4-50 8-48 12-43 16-38 20-33M722 1613l0-87 2-37 5-36 6-34 8-32 10-30 12-29 13-27 16-25 17-22 19-20 21-18 22-14 23-13 23-9M621 1177l20 34 15 38 12 43 7 47 3 50-1 56-4 60-8 87M610 1185l34 15 31 21M604 1183l-3 57-10 64-16 69-30 113M1017 1295l-35-75M888 1393l17 43 14 47 9 49 5 55M495 1435l21-44 26-40 30-34 34-30 37-23 39-17 41-10 42-3 42 4 41 11 39 18 37 24 33 31 29 35 26 40 20 45"/></g><path stroke="#00ff51" d="M605 1037l-2 31-6 34-9 36-14 40-30 76-83 182-19 48-14 43M1030 1628l-6-39-10-45-14-51-49-165-12-54-9-48-5-52 1-47 8-43 6-19 7-17"/><path stroke="#0100ff" d="M855 1286l14-44 19-39 23-34 14-14 15-14M579 1125l-16 38-21 44-87 165M984 1568l-44-194-9-47-7-42-3-46-1-42 4-37 7-35M736 1527l5-70 5-33 6-31 8-29 10-28 12-27 13-24 14-22 16-21 18-19 20-16 20-14 21-11 22-9 23-6M881 1649l-20-160-6-77 0-41 1-37 4-34 6-33M561 1165l30 6 27 11 27 14 24 17 22 21 21 25 18 28 17 32 13 32 10 35 8 37 6 40 3 40 2 44-4 113M675 1217l17 15 17 18 15 19 14 21 12 23 11 24 18 52 12 55 7 61 1 67-3 89M507 1257l27-15 26-11 27-8 29-5 28-1 29 2 28 5 28 9 25 12 26 15 24 18 22 21 20 23 19 26 16 28 15 30M874 1623l-16-116-6-64-2-63 3-57 9-54 14-47 10-22 10-20 13-19 13-16M741 1666l-4-118 1-44 4-42 6-41 9-38 11-35 13-34 17-31 20-28 22-26 24-21 26-17 28-13 30-9 29-5"/><path stroke="#6c00ff" d="M559 1203l6 27 4 28 2 32 0 35-3 70-14 139M970 1545l-13-149-3-73 1-37 3-33 5-30 7-27M596 1549l6-42 8-40 12-37 14-36 18-34 19-29 22-27 25-25 27-20 29-17 31-13 31-9 33-4 32 0 32 5 31 8"/><path stroke="#000" d="M977 1030h0M976 1029h0M976 1028h0M450 1115h0M451 1115h0M639 1769h0M639 1770h0M1157 1509h0M1156 1507h0M417 1590h0M417 1589h0M418 1583h0M1013 1706h0M1014 1707h0M541 1714h0M542 1713h0M1117 1513h0M1127 1544h0M1127 1545h0M1059 1147h0M1094 1144h0M1095 1144h0M558 1027h0M558 1028h0M557 1030h0M352 1433h0M352 1434h0M841 1783h0M842 1782h0M1141 1192h0M1140 1191h0M1110 1158h0M988 1037h0M949 998h0M948 997h0M352 1282h0M353 1281h0M800 1777h0M800 1777h0M425 1611h0M425 1609h0M1018 1659h0M1024 1693h0M1024 1694h0M580 1745h0M581 1744h0M1151 1484h0M1151 1485h0M691 1775h0M691 1774h0M1159 1309h0M1162 1311h0M1162 1312h0M906 1762h0M907 1761h0M1065 1107h0M1066 1107h0M549 1027h0M549 1028h0M380 1542h0M380 1543h0M562 1738h0M563 1737h0M1141 1508h0M1141 1509h0M668 1766h0M668 1765h0M1169 1352h0M1169 1353h0M576 1003h0M575 1004h0M363 1246h0M362 1247h0M743 1789h0M744 1789h0M1154 1243h0M1155 1244h0M574 1742h0M575 1743h0M1113 1578h0M1113 1577h0M993 1023h0M993 1022h0M473 1081h0M474 1081h0M348 1361h0M349 1360h0M858 1773h0M859 1774h0M397 1567h0M397 1566h0M988 1712h0M989 1713h0M842 1781h0M842 1782h0M343 1339h0M344 1338h0M1032 1663h0M1032 1664h0M1033 1671h0M1033 1672h0M434 1630h0M434 1629h0M444 1579h0M1033 1670h0M1033 1671h0M565 1017h0M564 1018h0M358 1287h0M357 1289h0M774 1780h0M775 1779h0M1150 1216h0M1151 1216h0M352 1297h0M353 1296h0M360 1289h0M812 1773h0M813 1776h0M813 1777h0M1106 1143h0M1105 1142h0M1094 1131h0M974 1020h0M973 1019h0M1014 1708h0M1014 1709h0M417 1590h0M417 1588h0M417 1587h0M430 1539h0M1097 1550h0M1108 1596h0M1109 1597h0M512 1694h0M512 1693h0M1153 1421h0M1170 1454h0M1171 1456h0M612 1751h0M613 1750h0M614 1744h0M538 1034h0M538 1035h0M411 1581h0M411 1583h0M955 1727h0M956 1726h0M1057 1083h0M1058 1082h0M476 1091h0M477 1092h0M589 1751h0M590 1752h0M1124 1580h0M1124 1578h0M987 1043h0M987 1033h0M987 1032h0M409 1570h0M409 1569h0M1000 1705h0M1002 1714h0M1002 1715h0M532 1039h0M532 1040h0M428 1606h0M428 1607h0M971 1731h0M972 1729h0M972 1728h0M1052 1071h0M1052 1070h0M494 1071h0M494 1071h0M495 1072h0M537 1716h0M537 1717h0M1084 1621h0M1084 1620h0M1003 1039h0M1003 1038h0M532 1039h0M532 1040h0M428 1589h0M428 1590h0M977 1713h0M977 1712h0M1053 1070h0M1054 1070h0M1051 1071h0M1052 1071h0M532 1036h0M532 1037h0M532 1039h0M535 1057h0M428 1601h0M428 1602h0M977 1714h0M977 1713h0M496 1052h0M497 1052h0M509 1701h0M510 1702h0M1055 1671h0M1055 1670h0M1011 1049h0M1013 1047h0M1013 1046h0M1081 1100h0M1082 1101h0M611 992h0M611 993h0M611 994h0M391 1537h0M388 1550h0M388 1551h0M993 1717h0M993 1716h0M994 1713h0M968 1053h0M968 1052h0M1133 1206h0M1134 1207h0M666 962h0M665 963h0M356 1362h0M355 1363h0M878 1771h0M878 1770h0M881 1753h0M586 1727h0M586 1726h0M1156 1449h0M1165 1479h0M1166 1480h0M696 968h0M694 969h0M424 1127h0M422 1128h0M721 1790h0M721 1789h0M460 1644h0M460 1642h0M1064 1652h0M1063 1664h0M1063 1666h0M805 955h0M804 956h0M662 979h0M661 980h0M594 1745h0M594 1743h0M594 1730h0M594 1729h0M366 1493h0M366 1491h0M950 1728h0M950 1729h0M384 1222h0M385 1221h0M796 1772h0M796 1773h0M1103 1132h0M1101 1131h0M860 979h0M859 979h0M462 1084h0M463 1084h0M478 1085h0M505 1089h0M651 1755h0M651 1756h0M1168 1350h0M1167 1349h0M1163 1344h0M872 972h0M872 971h0M975 1030h0M975 1029h0M557 1027h0M557 1028h0M514 1690h0M514 1691h0M1124 1552h0M1124 1551h0M918 991h0M918 990h0M803 951h0M802 952h0M653 978h0M652 979h0M596 1737h0M596 1735h0M1162 1441h0M1171 1473h0M1171 1474h0M696 970h0M695 971h0M519 1074h0M496 1088h0M495 1089h0M919 988h0M917 988h0M887 981h0M880 979h0M791 961h0M789 960h0M450 1632h0M450 1631h0M451 1604h0M1058 1663h0M1058 1665h0M1109 1135h0M1108 1134h0M944 1030h0M885 996h0M832 964h0M831 963h0M363 1453h0M364 1452h0M936 1737h0M936 1738h0M1170 1362h0M1169 1361h0M867 963h0M867 962h0M396 1205h0M397 1204h0M787 1783h0M787 1784h0M1121 1590h0M1121 1588h0M928 996h0M929 995h0M477 1083h0M478 1083h0M644 1740h0M648 1762h0M648 1764h0M1019 1693h0M1019 1691h0M979 1022h0M980 1021h0M538 1029h0M538 1030h0M530 1683h0M531 1705h0M531 1706h0M861 1774h0M862 1773h0M1042 1096h0M1072 1094h0M1073 1094h0M601 985h0M601 986h0M396 1575h0M396 1576h0M508 1076h0M507 1077h0M504 1078h0M497 1082h0M421 1130h0M420 1131h0M722 1788h0M723 1787h0M725 1764h0M1162 1245h0M1163 1246h0M660 977h0M659 978h0M634 1011h0M383 1299h0M355 1338h0M355 1339h0M797 1775h0M797 1776h0M1092 1125h0M1091 1124h0M839 972h0M811 956h0M810 955h0M360 1464h0M361 1462h0M457 1092h0M458 1092h0M663 1763h0M663 1764h0M663 1766h0M1163 1327h0M1162 1326h0M870 970h0M870 969h0M365 1244h0M366 1243h0M541 1015h0M542 1016h0M555 1030h0M514 1689h0M514 1691h0M1127 1577h0M1127 1576h0M1119 1536h0M922 996h0M922 995h0M458 1085h0M459 1085h0M479 1086h0M480 1086h0M603 1000h0M603 1001h0M414 1594h0M414 1595h0M1032 1684h0M1032 1683h0M952 1038h0M971 1012h0M971 1011h0M661 975h0M660 977h0M377 1324h0M353 1360h0M343 1375h0M342 1377h0M876 1762h0M876 1760h0M1069 1082h0M1070 1082h0M717 954h0M716 955h0M402 1156h0M401 1157h0M740 1773h0M741 1772h0M1130 1204h0M1131 1205h0M1067 1639h0M1067 1640h0M594 1751h0M594 1750h0M1163 1450h0M1164 1452h0M933 1756h0M933 1757h0M949 992h0M948 991h0M752 954h0M751 953h0M458 1650h0M458 1649h0M459 1611h0"/></g>
<g style="mix-blend-mode:multiply" transform="translate(383.40,778.45) scale(0.9421,1)" font-family="'Liberation Serif', 'Times New Roman', serif" font-weight="bold" font-size="128.17" text-anchor="middle">
<text x="1.3" y="1.3" fill="#b4b4b4">IGN</text>
<text x="-0.9" y="-0.9" fill="#f6f6f6">IGN</text>
<text x="0" y="0" fill="#d6d6d6">IGN</text>
</g>
<circle cx="382" cy="685.5" r="11" fill="none" stroke="#000" stroke-width="1"/>
<circle cx="382" cy="685.5" r="212.5" fill="none" stroke="#000" stroke-width="4.4"/>
<text x="357.24" y="463.7" font-size="22" textLength="52.74" lengthAdjust="spacingAndGlyphs">Norte</text>
<text x="362.00" y="925.7" font-size="22" textLength="34.39" lengthAdjust="spacingAndGlyphs">Sur</text>
<text x="98.94" y="687.7" font-size="22" textLength="59.16" lengthAdjust="spacingAndGlyphs">Oeste</text>
<text x="603.10" y="687.9" font-size="22" textLength="43.97" lengthAdjust="spacingAndGlyphs">Este</text>
<text x="384.86" y="537.8" font-size="22" textLength="24.04" lengthAdjust="spacingAndGlyphs">30</text>
<text x="384.61" y="607.7" font-size="22" textLength="24.31" lengthAdjust="spacingAndGlyphs">60</text>
</svg></body></html>
